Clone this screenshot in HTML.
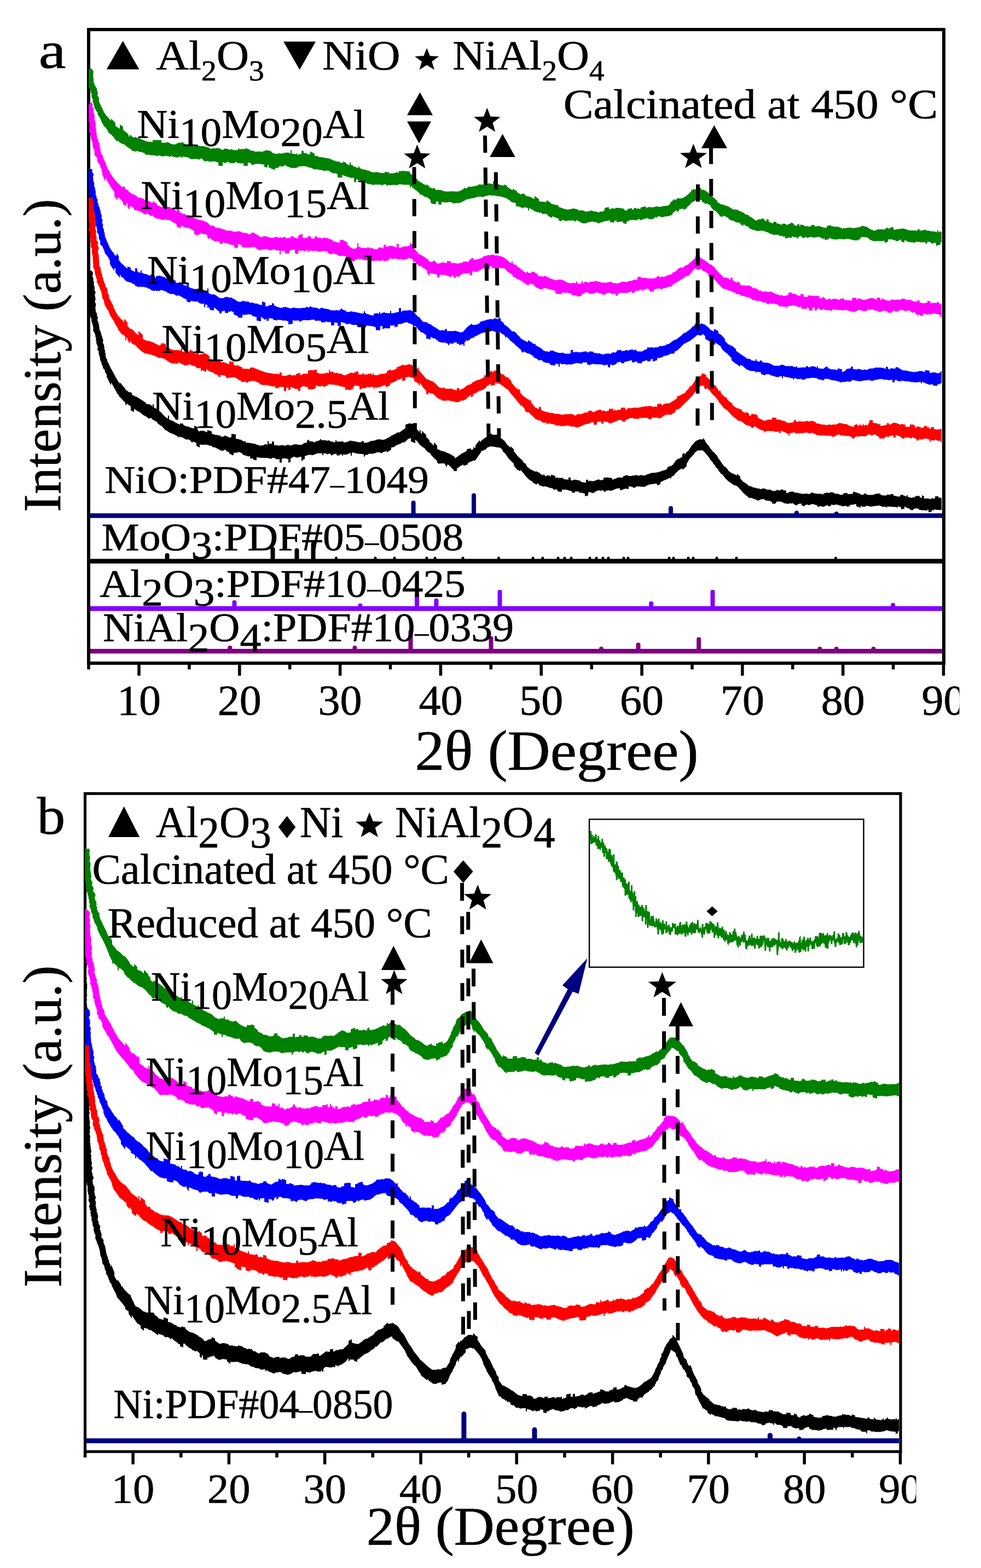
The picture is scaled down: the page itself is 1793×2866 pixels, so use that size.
<!DOCTYPE html>
<html><head><meta charset="utf-8"><title>XRD patterns</title><style>html,body{margin:0;padding:0;background:#fff}svg{display:block}</style></head><body>
<svg width="1793" height="2866" viewBox="0 0 1793 2866" font-family='"Liberation Serif", serif'>
<rect width="1793" height="2866" fill="#fff"/>
<g stroke-linecap="butt">
<line x1="165" y1="942.5" x2="1722" y2="942.5" stroke="#000080" stroke-width="8.6"/>
<line x1="165" y1="1025.7" x2="1722" y2="1025.7" stroke="#000" stroke-width="8.6"/>
<line x1="165" y1="1112.3" x2="1722" y2="1112.3" stroke="#8000FF" stroke-width="8.8"/>
<line x1="165" y1="1190.3" x2="1722" y2="1190.3" stroke="#800080" stroke-width="8.5"/>
</g>
<line x1="755.6" y1="941.0" x2="755.6" y2="919.0" stroke="#000080" stroke-width="8" stroke-linecap="round"/><line x1="866.0" y1="941.0" x2="866.0" y2="905.5" stroke="#000080" stroke-width="8" stroke-linecap="round"/><line x1="1226.0" y1="941.0" x2="1226.0" y2="929.0" stroke="#000080" stroke-width="8" stroke-linecap="round"/><line x1="1456.0" y1="941.0" x2="1456.0" y2="937.6" stroke="#000080" stroke-width="8" stroke-linecap="round"/><line x1="1528.7" y1="941.0" x2="1528.7" y2="939.0" stroke="#000080" stroke-width="8" stroke-linecap="round"/>
<line x1="305.5" y1="1024.4" x2="305.5" y2="1015.0" stroke="#000" stroke-width="8" stroke-linecap="round"/><line x1="358.5" y1="1024.4" x2="358.5" y2="1020.0" stroke="#000" stroke-width="8" stroke-linecap="round"/><line x1="498.5" y1="1024.4" x2="498.5" y2="1003.7" stroke="#000" stroke-width="8" stroke-linecap="round"/><line x1="542.5" y1="1024.4" x2="542.5" y2="1006.0" stroke="#000" stroke-width="8" stroke-linecap="round"/><line x1="572.5" y1="1024.4" x2="572.5" y2="994.5" stroke="#000" stroke-width="8" stroke-linecap="round"/>
<line x1="614.4" y1="1024.4" x2="614.4" y2="1020.0" stroke="#000" stroke-width="5" stroke-linecap="round"/><line x1="686.0" y1="1024.4" x2="686.0" y2="1020.0" stroke="#000" stroke-width="5" stroke-linecap="round"/><line x1="721.0" y1="1024.4" x2="721.0" y2="1020.0" stroke="#000" stroke-width="5" stroke-linecap="round"/><line x1="780.0" y1="1024.4" x2="780.0" y2="1020.0" stroke="#000" stroke-width="5" stroke-linecap="round"/><line x1="795.0" y1="1024.4" x2="795.0" y2="1020.0" stroke="#000" stroke-width="5" stroke-linecap="round"/><line x1="846.0" y1="1024.4" x2="846.0" y2="1020.0" stroke="#000" stroke-width="5" stroke-linecap="round"/><line x1="911.4" y1="1024.4" x2="911.4" y2="1020.0" stroke="#000" stroke-width="5" stroke-linecap="round"/><line x1="974.0" y1="1024.4" x2="974.0" y2="1020.0" stroke="#000" stroke-width="5" stroke-linecap="round"/><line x1="991.8" y1="1024.4" x2="991.8" y2="1020.0" stroke="#000" stroke-width="5" stroke-linecap="round"/><line x1="1020.0" y1="1024.4" x2="1020.0" y2="1020.0" stroke="#000" stroke-width="5" stroke-linecap="round"/><line x1="1032.0" y1="1024.4" x2="1032.0" y2="1020.0" stroke="#000" stroke-width="5" stroke-linecap="round"/><line x1="1044.0" y1="1024.4" x2="1044.0" y2="1020.0" stroke="#000" stroke-width="5" stroke-linecap="round"/><line x1="1078.0" y1="1024.4" x2="1078.0" y2="1020.0" stroke="#000" stroke-width="5" stroke-linecap="round"/><line x1="1090.0" y1="1024.4" x2="1090.0" y2="1020.0" stroke="#000" stroke-width="5" stroke-linecap="round"/><line x1="1102.0" y1="1024.4" x2="1102.0" y2="1020.0" stroke="#000" stroke-width="5" stroke-linecap="round"/><line x1="1112.0" y1="1024.4" x2="1112.0" y2="1020.0" stroke="#000" stroke-width="5" stroke-linecap="round"/><line x1="1140.0" y1="1024.4" x2="1140.0" y2="1020.0" stroke="#000" stroke-width="5" stroke-linecap="round"/><line x1="1148.0" y1="1024.4" x2="1148.0" y2="1020.0" stroke="#000" stroke-width="5" stroke-linecap="round"/><line x1="1223.0" y1="1024.4" x2="1223.0" y2="1020.0" stroke="#000" stroke-width="5" stroke-linecap="round"/><line x1="1231.0" y1="1024.4" x2="1231.0" y2="1020.0" stroke="#000" stroke-width="5" stroke-linecap="round"/><line x1="1258.0" y1="1024.4" x2="1258.0" y2="1020.0" stroke="#000" stroke-width="5" stroke-linecap="round"/><line x1="1267.0" y1="1024.4" x2="1267.0" y2="1020.0" stroke="#000" stroke-width="5" stroke-linecap="round"/><line x1="1310.0" y1="1024.4" x2="1310.0" y2="1020.0" stroke="#000" stroke-width="5" stroke-linecap="round"/><line x1="1346.0" y1="1024.4" x2="1346.0" y2="1020.0" stroke="#000" stroke-width="5" stroke-linecap="round"/><line x1="1527.5" y1="1024.4" x2="1527.5" y2="1020.0" stroke="#000" stroke-width="5" stroke-linecap="round"/>
<line x1="428.4" y1="1110.9" x2="428.4" y2="1101.0" stroke="#8000FF" stroke-width="8" stroke-linecap="round"/><line x1="658.4" y1="1110.9" x2="658.4" y2="1107.0" stroke="#8000FF" stroke-width="8" stroke-linecap="round"/><line x1="762.0" y1="1110.9" x2="762.0" y2="1089.0" stroke="#8000FF" stroke-width="8" stroke-linecap="round"/><line x1="797.4" y1="1110.9" x2="797.4" y2="1097.7" stroke="#8000FF" stroke-width="8" stroke-linecap="round"/><line x1="913.5" y1="1110.9" x2="913.5" y2="1082.0" stroke="#8000FF" stroke-width="8" stroke-linecap="round"/><line x1="1190.2" y1="1110.9" x2="1190.2" y2="1103.0" stroke="#8000FF" stroke-width="8" stroke-linecap="round"/><line x1="1302.5" y1="1110.9" x2="1302.5" y2="1082.0" stroke="#8000FF" stroke-width="8" stroke-linecap="round"/><line x1="1632.2" y1="1110.9" x2="1632.2" y2="1106.0" stroke="#8000FF" stroke-width="8" stroke-linecap="round"/>
<line x1="420.3" y1="1189.1" x2="420.3" y2="1184.0" stroke="#800080" stroke-width="8" stroke-linecap="round"/><line x1="648.4" y1="1189.1" x2="648.4" y2="1184.0" stroke="#800080" stroke-width="8" stroke-linecap="round"/><line x1="750.5" y1="1189.1" x2="750.5" y2="1155.0" stroke="#800080" stroke-width="8" stroke-linecap="round"/><line x1="897.5" y1="1189.1" x2="897.5" y2="1166.7" stroke="#800080" stroke-width="8" stroke-linecap="round"/><line x1="1099.0" y1="1189.1" x2="1099.0" y2="1186.0" stroke="#800080" stroke-width="8" stroke-linecap="round"/><line x1="1166.5" y1="1189.1" x2="1166.5" y2="1178.6" stroke="#800080" stroke-width="8" stroke-linecap="round"/><line x1="1277.2" y1="1189.1" x2="1277.2" y2="1168.5" stroke="#800080" stroke-width="8" stroke-linecap="round"/><line x1="1498.4" y1="1189.1" x2="1498.4" y2="1186.0" stroke="#800080" stroke-width="8" stroke-linecap="round"/><line x1="1528.7" y1="1189.1" x2="1528.7" y2="1186.0" stroke="#800080" stroke-width="8" stroke-linecap="round"/><line x1="1596.5" y1="1189.1" x2="1596.5" y2="1186.0" stroke="#800080" stroke-width="8" stroke-linecap="round"/>
<rect x="162" y="54" width="1563" height="1158.2" fill="none" stroke="#000" stroke-width="6"/>
<clipPath id="ca"><rect x="162" y="54" width="1563" height="1158"/></clipPath><g clip-path="url(#ca)">
<polygon fill="#000" points="193.0,654.7 195.0,659.2 195.0,658.1 203.0,674.3 203.0,674.0 205.0,677.0 205.0,677.4 211.0,688.2 211.0,689.5 219.0,701.2 219.0,699.0 223.0,703.0 223.0,703.5 227.0,708.2 227.0,707.9 229.0,710.6 229.0,711.7 237.0,717.8 237.0,716.1 241.0,718.6 241.0,721.2 245.0,723.3 245.0,723.0 247.0,725.0 247.0,724.3 249.0,725.2 249.0,724.8 257.0,729.9 257.0,729.7 261.0,732.4 261.0,732.2 267.0,736.4 267.0,737.9 269.0,739.1 269.0,737.9 277.0,740.5 277.0,741.7 279.0,743.6 279.0,738.1 281.0,739.5 281.0,744.7 287.0,747.7 287.0,747.5 289.0,749.5 289.0,749.0 297.0,756.3 297.0,757.1 303.0,762.8 303.0,763.0 307.0,765.1 307.0,758.8 309.0,760.6 309.0,766.7 317.0,769.7 317.0,769.9 321.0,772.4 321.0,772.4 329.0,776.2 329.0,773.7 335.0,774.6 335.0,776.7 341.0,779.5 341.0,779.7 343.0,779.5 343.0,779.0 349.0,782.3 349.0,781.6 355.0,783.4 355.0,778.0 361.0,780.4 361.0,785.7 363.0,787.6 363.0,788.6 365.0,788.5 365.0,787.4 369.0,787.4 369.0,786.9 375.0,788.2 375.0,789.5 379.0,789.4 379.0,786.0 387.0,788.5 387.0,792.7 395.0,795.2 395.0,793.9 397.0,795.4 397.0,795.3 401.0,795.9 401.0,795.4 403.0,796.2 403.0,798.0 409.0,798.2 409.0,796.8 413.0,796.2 413.0,796.7 421.0,800.4 421.0,798.8 423.0,799.0 423.0,793.1 431.0,794.0 431.0,802.0 437.0,802.8 437.0,803.2 439.0,803.6 439.0,803.2 447.0,807.5 447.0,805.9 449.0,806.3 449.0,808.5 451.0,810.1 451.0,809.1 459.0,810.0 459.0,810.2 467.0,811.3 467.0,812.0 475.0,814.5 475.0,814.7 483.0,813.6 483.0,812.2 487.0,812.0 487.0,812.6 489.0,813.1 489.0,805.8 491.0,806.2 491.0,810.8 497.0,811.3 497.0,806.7 501.0,807.3 501.0,813.8 509.0,814.1 509.0,814.7 517.0,813.2 517.0,813.7 523.0,814.9 523.0,813.3 529.0,812.9 529.0,814.7 537.0,812.7 537.0,811.8 545.0,812.5 545.0,813.3 547.0,812.9 547.0,813.2 553.0,812.5 553.0,811.6 557.0,809.8 557.0,809.6 561.0,809.0 561.0,805.3 565.0,803.6 565.0,806.3 573.0,807.2 573.0,809.2 577.0,806.8 577.0,807.1 585.0,804.6 585.0,802.8 587.0,802.6 587.0,803.8 589.0,805.0 589.0,804.8 593.0,804.2 593.0,804.4 599.0,805.8 599.0,804.4 603.0,805.5 603.0,806.6 609.0,807.5 609.0,808.3 613.0,808.6 613.0,805.3 615.0,804.0 615.0,807.3 623.0,806.9 623.0,806.7 625.0,807.6 625.0,806.3 627.0,807.2 627.0,807.8 629.0,808.3 629.0,809.0 635.0,807.5 635.0,807.4 641.0,805.1 641.0,805.5 647.0,806.4 647.0,806.2 655.0,808.3 655.0,808.2 661.0,808.2 661.0,805.7 665.0,807.1 665.0,809.4 669.0,809.0 669.0,809.3 673.0,808.5 673.0,808.1 675.0,808.3 675.0,807.3 679.0,805.6 679.0,806.2 687.0,804.6 687.0,803.9 693.0,802.8 693.0,802.9 701.0,803.9 701.0,803.9 705.0,802.4 705.0,802.6 713.0,798.3 713.0,798.3 717.0,794.8 717.0,795.8 725.0,791.6 725.0,791.0 729.0,790.0 729.0,790.4 731.0,790.3 731.0,789.7 737.0,785.6 737.0,785.8 741.0,782.6 741.0,776.3 749.0,773.5 749.0,774.1 755.0,774.8 755.0,780.8 763.0,785.6 763.0,785.5 765.0,788.3 765.0,788.3 767.0,789.5 767.0,785.3 769.0,787.0 769.0,791.4 771.0,793.7 771.0,787.3 779.0,795.0 779.0,798.7 785.0,804.6 785.0,807.8 787.0,808.8 787.0,808.6 793.0,814.8 793.0,808.3 799.0,814.8 799.0,820.5 807.0,824.2 807.0,824.1 815.0,826.2 815.0,827.1 819.0,828.2 819.0,827.4 821.0,830.0 821.0,828.7 823.0,830.3 823.0,830.0 831.0,835.0 831.0,837.1 833.0,837.6 833.0,836.9 835.0,834.9 835.0,835.6 837.0,834.6 837.0,833.5 839.0,832.2 839.0,832.8 841.0,831.5 841.0,831.5 843.0,829.4 843.0,829.5 851.0,825.5 851.0,825.1 853.0,824.3 853.0,821.1 861.0,819.5 861.0,822.4 865.0,821.3 865.0,818.6 867.0,816.7 867.0,820.0 869.0,817.5 869.0,814.0 877.0,803.9 877.0,808.3 883.0,802.8 883.0,802.8 891.0,797.2 891.0,796.6 897.0,794.2 897.0,792.5 899.0,792.5 899.0,794.3 901.0,794.6 901.0,794.7 907.0,794.8 907.0,794.0 913.0,797.1 913.0,798.3 921.0,805.1 921.0,804.4 929.0,815.4 929.0,813.5 933.0,818.9 933.0,815.6 939.0,821.1 939.0,824.6 945.0,832.0 945.0,832.7 953.0,840.1 953.0,839.8 955.0,841.4 955.0,842.8 957.0,844.8 957.0,845.0 959.0,847.6 959.0,845.8 961.0,848.2 961.0,849.0 963.0,851.7 963.0,853.0 971.0,858.8 971.0,858.6 979.0,862.6 979.0,861.0 987.0,864.7 987.0,865.7 993.0,869.2 993.0,867.4 995.0,866.8 995.0,868.9 999.0,870.9 999.0,868.8 1005.0,869.2 1005.0,871.0 1007.0,870.8 1007.0,867.6 1015.0,869.9 1015.0,873.8 1017.0,873.6 1017.0,872.1 1021.0,874.2 1021.0,873.6 1029.0,873.5 1029.0,874.8 1031.0,875.6 1031.0,875.9 1039.0,876.7 1039.0,872.5 1043.0,872.9 1043.0,877.5 1047.0,878.6 1047.0,877.1 1053.0,876.7 1053.0,877.1 1057.0,878.2 1057.0,877.6 1061.0,878.9 1061.0,880.4 1065.0,881.2 1065.0,881.5 1071.0,882.2 1071.0,877.2 1075.0,876.4 1075.0,879.5 1081.0,878.6 1081.0,879.9 1085.0,879.1 1085.0,879.6 1087.0,879.2 1087.0,878.6 1095.0,876.1 1095.0,876.5 1097.0,877.7 1097.0,877.8 1103.0,877.0 1103.0,873.2 1111.0,872.5 1111.0,872.9 1119.0,873.8 1119.0,877.0 1127.0,873.9 1127.0,873.6 1133.0,872.2 1133.0,872.9 1139.0,872.7 1139.0,870.6 1147.0,868.0 1147.0,869.8 1155.0,870.1 1155.0,869.2 1159.0,869.3 1159.0,869.1 1165.0,868.2 1165.0,869.0 1169.0,869.7 1169.0,868.3 1177.0,869.1 1177.0,870.1 1183.0,866.7 1183.0,867.3 1189.0,865.0 1189.0,864.8 1191.0,864.3 1191.0,864.5 1193.0,864.6 1193.0,864.1 1197.0,864.1 1197.0,864.2 1205.0,862.5 1205.0,862.6 1213.0,859.6 1213.0,859.8 1219.0,857.7 1219.0,855.3 1225.0,850.9 1225.0,853.1 1231.0,848.4 1231.0,847.4 1235.0,842.3 1235.0,841.8 1237.0,839.8 1237.0,840.2 1241.0,837.7 1241.0,838.8 1247.0,835.1 1247.0,830.3 1251.0,827.3 1251.0,832.3 1259.0,823.0 1259.0,822.6 1265.0,813.3 1265.0,813.7 1271.0,806.5 1271.0,806.4 1277.0,803.6 1277.0,803.2 1285.0,803.1 1285.0,800.1 1289.0,805.7 1289.0,807.3 1291.0,808.9 1291.0,809.9 1295.0,815.0 1295.0,815.5 1303.0,825.7 1303.0,825.0 1307.0,829.1 1307.0,829.0 1311.0,833.3 1311.0,833.9 1315.0,840.8 1315.0,840.3 1323.0,851.7 1323.0,851.9 1325.0,853.2 1325.0,852.6 1331.0,858.9 1331.0,860.3 1337.0,864.8 1337.0,864.4 1339.0,865.5 1339.0,865.2 1347.0,869.3 1347.0,865.7 1353.0,870.9 1353.0,874.5 1359.0,881.4 1359.0,880.4 1367.0,886.2 1367.0,887.5 1373.0,888.9 1373.0,889.3 1379.0,891.7 1379.0,890.9 1387.0,893.5 1387.0,893.0 1389.0,893.0 1389.0,894.2 1395.0,892.8 1395.0,892.6 1399.0,893.5 1399.0,893.4 1401.0,894.7 1401.0,894.6 1405.0,895.5 1405.0,894.3 1413.0,897.2 1413.0,897.8 1419.0,896.7 1419.0,895.5 1423.0,895.5 1423.0,897.0 1427.0,895.5 1427.0,894.7 1429.0,895.2 1429.0,893.8 1433.0,896.8 1433.0,896.0 1437.0,896.9 1437.0,900.7 1441.0,901.6 1441.0,899.7 1447.0,898.2 1447.0,898.5 1451.0,898.5 1451.0,900.2 1455.0,900.6 1455.0,900.3 1463.0,901.9 1463.0,902.3 1471.0,902.8 1471.0,901.9 1477.0,902.4 1477.0,903.5 1483.0,901.5 1483.0,899.9 1485.0,899.5 1485.0,900.9 1493.0,902.6 1493.0,902.4 1501.0,902.5 1501.0,902.8 1505.0,903.9 1505.0,902.1 1513.0,900.1 1513.0,901.0 1517.0,901.0 1517.0,899.6 1525.0,900.6 1525.0,902.6 1531.0,902.3 1531.0,902.4 1535.0,903.8 1535.0,904.3 1541.0,904.4 1541.0,901.8 1549.0,901.1 1549.0,903.4 1557.0,902.6 1557.0,902.9 1559.0,902.1 1559.0,899.1 1563.0,898.8 1563.0,899.8 1567.0,900.8 1567.0,900.6 1571.0,902.5 1571.0,902.1 1573.0,902.9 1573.0,904.5 1579.0,903.9 1579.0,902.3 1583.0,901.7 1583.0,903.6 1589.0,904.9 1589.0,904.4 1595.0,904.8 1595.0,904.4 1601.0,902.7 1601.0,902.4 1609.0,902.0 1609.0,903.9 1615.0,906.0 1615.0,905.5 1621.0,905.4 1621.0,903.8 1627.0,904.4 1627.0,904.1 1629.0,903.6 1629.0,902.6 1633.0,903.4 1633.0,905.9 1637.0,906.4 1637.0,907.0 1645.0,907.7 1645.0,905.3 1651.0,904.0 1651.0,905.9 1653.0,905.9 1653.0,906.2 1657.0,907.6 1657.0,904.9 1659.0,905.3 1659.0,908.3 1663.0,909.1 1663.0,909.3 1667.0,910.3 1667.0,909.4 1669.0,909.4 1669.0,908.8 1671.0,908.6 1671.0,909.2 1673.0,908.5 1673.0,906.4 1681.0,906.5 1681.0,909.2 1685.0,909.8 1685.0,905.2 1689.0,907.3 1689.0,911.5 1691.0,911.4 1691.0,910.8 1699.0,911.4 1699.0,912.8 1703.0,911.1 1703.0,910.6 1707.0,911.6 1707.0,911.0 1709.0,911.4 1709.0,907.2 1715.0,907.0 1715.0,909.3 1721.0,910.3 1721.0,932.3 1713.0,932.1 1713.0,932.1 1707.0,931.1 1707.0,933.1 1703.0,932.1 1703.0,934.9 1697.0,936.6 1697.0,931.7 1695.0,931.4 1695.0,933.5 1687.0,932.2 1687.0,932.9 1679.0,931.4 1679.0,929.6 1673.0,929.2 1673.0,929.5 1669.0,930.4 1669.0,932.8 1663.0,931.8 1663.0,929.8 1657.0,928.6 1657.0,927.3 1655.0,926.7 1655.0,926.3 1653.0,925.5 1653.0,930.0 1647.0,930.9 1647.0,927.2 1641.0,925.2 1641.0,927.2 1639.0,927.9 1639.0,926.8 1631.0,926.6 1631.0,926.6 1629.0,926.4 1629.0,926.1 1621.0,926.0 1621.0,927.9 1619.0,927.3 1619.0,925.9 1613.0,926.5 1613.0,926.3 1607.0,923.7 1607.0,923.9 1599.0,925.0 1599.0,924.8 1591.0,926.3 1591.0,925.9 1583.0,924.1 1583.0,925.8 1575.0,926.6 1575.0,924.5 1573.0,924.8 1573.0,928.2 1565.0,925.2 1565.0,921.6 1561.0,921.6 1561.0,922.3 1553.0,923.1 1553.0,925.6 1547.0,925.9 1547.0,924.3 1539.0,925.7 1539.0,924.7 1531.0,922.7 1531.0,922.2 1525.0,922.5 1525.0,923.6 1519.0,921.9 1519.0,924.7 1513.0,925.4 1513.0,923.3 1507.0,925.1 1507.0,926.5 1501.0,925.7 1501.0,924.6 1497.0,925.9 1497.0,926.7 1493.0,925.3 1493.0,923.2 1487.0,921.9 1487.0,921.2 1481.0,922.0 1481.0,922.4 1477.0,923.5 1477.0,922.8 1475.0,921.9 1475.0,922.4 1471.0,922.9 1471.0,925.4 1465.0,923.8 1465.0,920.4 1459.0,921.1 1459.0,922.4 1457.0,921.7 1457.0,923.6 1453.0,923.6 1453.0,922.4 1449.0,920.2 1449.0,919.2 1445.0,920.9 1445.0,919.8 1443.0,919.6 1443.0,920.5 1439.0,921.0 1439.0,920.7 1435.0,919.9 1435.0,920.4 1427.0,916.4 1427.0,916.8 1425.0,917.2 1425.0,916.2 1423.0,917.2 1423.0,916.7 1419.0,916.7 1419.0,918.5 1417.0,919.9 1417.0,920.9 1411.0,920.2 1411.0,917.5 1405.0,914.9 1405.0,915.8 1403.0,914.6 1403.0,915.5 1397.0,913.8 1397.0,912.0 1389.0,913.1 1389.0,914.1 1387.0,914.2 1387.0,915.2 1383.0,914.2 1383.0,913.7 1375.0,910.8 1375.0,910.6 1371.0,909.7 1371.0,910.8 1367.0,909.0 1367.0,908.1 1363.0,905.2 1363.0,905.1 1357.0,899.6 1357.0,899.0 1351.0,892.4 1351.0,891.9 1345.0,887.1 1345.0,887.8 1339.0,885.5 1339.0,885.1 1333.0,880.7 1333.0,881.3 1327.0,875.5 1327.0,875.6 1325.0,873.9 1325.0,873.3 1319.0,865.5 1319.0,866.9 1317.0,864.1 1317.0,864.7 1313.0,859.8 1313.0,858.5 1307.0,850.0 1307.0,849.1 1301.0,842.7 1301.0,842.7 1295.0,834.9 1295.0,834.9 1287.0,825.5 1287.0,825.8 1283.0,822.3 1283.0,823.3 1275.0,823.6 1275.0,823.6 1271.0,826.6 1271.0,825.6 1269.0,828.0 1269.0,829.6 1263.0,835.8 1263.0,834.2 1255.0,847.8 1255.0,852.2 1247.0,858.9 1247.0,855.7 1239.0,860.4 1239.0,859.8 1235.0,863.4 1235.0,864.8 1231.0,869.9 1231.0,868.9 1227.0,872.1 1227.0,873.4 1225.0,875.0 1225.0,872.9 1223.0,873.9 1223.0,874.1 1215.0,877.8 1215.0,877.3 1207.0,881.8 1207.0,885.1 1201.0,887.2 1201.0,884.2 1197.0,884.1 1197.0,884.1 1195.0,884.3 1195.0,884.5 1187.0,885.4 1187.0,885.3 1185.0,886.6 1185.0,886.8 1183.0,887.2 1183.0,886.9 1179.0,889.2 1179.0,889.8 1171.0,889.8 1171.0,889.3 1163.0,889.1 1163.0,890.3 1157.0,892.1 1157.0,890.3 1151.0,889.0 1151.0,889.1 1149.0,889.1 1149.0,893.6 1145.0,894.0 1145.0,892.6 1137.0,895.2 1137.0,895.7 1133.0,895.7 1133.0,892.2 1125.0,893.4 1125.0,893.9 1117.0,897.0 1117.0,896.9 1113.0,896.6 1113.0,896.1 1109.0,896.9 1109.0,896.5 1107.0,896.7 1107.0,899.0 1103.0,898.3 1103.0,896.1 1097.0,897.0 1097.0,897.3 1095.0,896.0 1095.0,896.1 1087.0,898.7 1087.0,900.3 1081.0,901.5 1081.0,899.6 1079.0,899.7 1079.0,899.4 1075.0,900.2 1075.0,905.8 1069.0,907.1 1069.0,902.3 1063.0,900.4 1063.0,900.4 1061.0,900.4 1061.0,901.8 1059.0,900.6 1059.0,898.7 1051.0,897.9 1051.0,900.5 1047.0,900.4 1047.0,900.5 1045.0,900.3 1045.0,898.0 1043.0,897.2 1043.0,897.0 1039.0,896.6 1039.0,896.3 1033.0,894.4 1033.0,895.1 1027.0,895.1 1027.0,898.9 1019.0,898.2 1019.0,895.5 1017.0,894.5 1017.0,894.3 1015.0,894.5 1015.0,895.5 1011.0,894.8 1011.0,892.9 1003.0,891.3 1003.0,890.8 995.0,888.6 995.0,889.6 991.0,888.9 991.0,889.0 987.0,886.9 987.0,888.1 985.0,886.4 985.0,884.2 981.0,883.9 981.0,886.1 973.0,881.6 973.0,879.7 969.0,878.1 969.0,878.5 961.0,870.7 961.0,870.3 957.0,865.4 957.0,864.9 951.0,858.8 951.0,861.8 947.0,858.4 947.0,860.3 941.0,853.7 941.0,852.9 939.0,850.7 939.0,847.5 931.0,839.6 931.0,840.0 925.0,831.5 925.0,831.2 917.0,820.2 917.0,819.5 911.0,817.2 911.0,818.2 903.0,816.5 903.0,816.4 897.0,816.0 897.0,815.6 889.0,819.0 889.0,820.8 887.0,822.3 887.0,821.1 883.0,824.3 883.0,823.0 879.0,825.5 879.0,826.8 871.0,838.2 871.0,838.8 867.0,842.9 867.0,841.0 863.0,843.0 863.0,843.1 857.0,845.1 857.0,845.6 855.0,846.3 855.0,849.1 847.0,851.4 847.0,848.8 843.0,851.2 843.0,850.7 835.0,856.5 835.0,861.1 829.0,860.9 829.0,858.0 825.0,855.8 825.0,854.0 821.0,851.2 821.0,851.1 819.0,848.5 819.0,850.1 817.0,849.3 817.0,852.9 815.0,852.7 815.0,850.6 813.0,849.2 813.0,847.3 807.0,846.7 807.0,847.4 803.0,846.7 803.0,848.6 799.0,845.6 799.0,842.8 795.0,838.5 795.0,839.1 787.0,830.8 787.0,829.1 783.0,826.5 783.0,827.6 777.0,820.7 777.0,820.0 773.0,817.2 773.0,818.0 771.0,815.6 771.0,816.0 765.0,810.7 765.0,809.3 759.0,803.5 759.0,810.3 751.0,806.8 751.0,800.2 749.0,801.4 749.0,801.5 745.0,802.5 745.0,803.8 739.0,808.3 739.0,808.7 737.0,809.2 737.0,807.7 731.0,811.7 731.0,811.3 723.0,814.5 723.0,815.6 717.0,817.9 717.0,816.7 715.0,818.5 715.0,821.7 707.0,827.1 707.0,824.6 699.0,826.8 699.0,828.3 695.0,828.1 695.0,826.7 687.0,827.0 687.0,828.1 679.0,829.8 679.0,828.9 677.0,829.8 677.0,829.0 673.0,829.7 673.0,830.7 667.0,831.9 667.0,834.5 665.0,834.6 665.0,830.8 661.0,829.4 661.0,829.9 653.0,829.1 653.0,828.9 647.0,827.9 647.0,827.3 643.0,827.3 643.0,833.3 641.0,832.6 641.0,827.4 633.0,831.0 633.0,830.9 627.0,830.6 627.0,833.5 625.0,832.6 625.0,830.5 621.0,830.2 621.0,832.4 615.0,832.3 615.0,829.3 609.0,830.2 609.0,831.5 607.0,831.3 607.0,832.5 605.0,832.7 605.0,830.0 601.0,828.9 601.0,830.0 599.0,829.1 599.0,830.6 597.0,830.4 597.0,829.1 591.0,828.4 591.0,832.0 589.0,832.1 589.0,828.4 583.0,828.8 583.0,828.1 575.0,830.2 575.0,831.0 569.0,832.2 569.0,831.1 561.0,832.1 561.0,832.8 557.0,833.4 557.0,839.0 553.0,840.8 553.0,842.0 551.0,842.7 551.0,835.1 545.0,835.5 545.0,837.0 539.0,835.4 539.0,834.4 535.0,835.4 535.0,836.1 531.0,838.3 531.0,844.6 527.0,845.7 527.0,838.9 519.0,837.5 519.0,837.7 515.0,838.7 515.0,845.4 511.0,845.7 511.0,839.3 505.0,839.6 505.0,839.3 503.0,838.4 503.0,837.2 497.0,836.7 497.0,838.4 491.0,837.9 491.0,837.4 489.0,837.0 489.0,836.8 485.0,837.3 485.0,837.1 477.0,836.8 477.0,837.0 469.0,835.5 469.0,841.3 463.0,840.4 463.0,838.1 457.0,838.1 457.0,833.8 455.0,833.2 455.0,834.8 449.0,832.4 449.0,833.0 443.0,830.4 443.0,828.7 437.0,826.2 437.0,826.5 435.0,825.7 435.0,827.2 427.0,827.8 427.0,831.9 425.0,831.6 425.0,832.4 423.0,831.3 423.0,830.8 419.0,828.9 419.0,826.6 413.0,824.6 413.0,821.9 409.0,822.6 409.0,823.9 401.0,822.9 401.0,821.0 397.0,820.5 397.0,819.5 391.0,817.3 391.0,818.1 387.0,816.3 387.0,814.9 385.0,814.6 385.0,815.3 379.0,813.1 379.0,813.4 377.0,813.0 377.0,812.8 373.0,812.8 373.0,813.3 365.0,812.5 365.0,817.9 359.0,815.1 359.0,809.4 357.0,809.3 357.0,808.9 353.0,806.7 353.0,808.7 349.0,807.9 349.0,805.9 347.0,805.1 347.0,804.8 343.0,802.3 343.0,803.7 339.0,803.1 339.0,802.6 335.0,800.7 335.0,800.0 331.0,799.1 331.0,799.3 327.0,797.8 327.0,799.7 325.0,799.2 325.0,797.7 317.0,793.4 317.0,793.4 309.0,790.4 309.0,790.0 303.0,786.1 303.0,787.1 301.0,785.1 301.0,785.0 295.0,778.1 295.0,779.1 287.0,773.0 287.0,770.9 285.0,770.3 285.0,770.4 279.0,766.5 279.0,767.2 277.0,765.2 277.0,764.3 275.0,763.8 275.0,764.5 273.0,765.1 273.0,765.6 269.0,763.0 269.0,762.5 263.0,759.2 263.0,759.6 257.0,754.8 257.0,754.4 253.0,751.8 253.0,752.6 245.0,747.2 245.0,753.0 239.0,749.9 239.0,742.5 231.0,737.5 231.0,741.5 229.0,739.0 229.0,736.4 227.0,733.8 227.0,734.3 219.0,725.6 219.0,726.2 217.0,723.1 217.0,722.1 211.0,713.5 211.0,712.5 203.0,698.7 203.0,705.0 195.0,688.8 195.0,682.4 193.0,677.9"/><polyline fill="none" stroke="#000" stroke-width="11" stroke-linejoin="round" points="162.3,498.0 164.4,500.0 163.5,502.1 163.5,504.1 163.0,506.1 164.4,508.2 165.2,510.2 164.5,512.2 165.0,514.3 166.2,516.3 164.3,518.3 166.2,520.4 166.6,522.4 167.1,524.5 167.5,526.5 167.3,528.6 165.9,530.6 167.1,532.6 169.1,534.6 167.3,536.6 167.6,538.6 166.1,540.6 168.6,542.6 167.0,544.6 169.1,546.6 168.0,548.6 168.2,550.6 166.8,552.7 168.2,554.7 170.0,556.7 166.9,558.7 169.2,560.7 168.4,562.7 168.6,564.7 169.5,566.7 169.2,568.7 169.6,570.7 167.8,572.8 171.9,574.8 170.4,576.8 171.3,578.8 173.3,580.8 172.7,582.8 172.4,584.8 172.9,586.8 173.6,588.8 174.4,590.8 174.6,592.8 175.7,594.8 175.5,596.8 176.1,598.7 176.4,600.7 175.6,602.6 176.8,604.6 177.9,606.6 178.9,608.5 179.2,610.5 180.0,612.4 179.8,614.4 181.2,616.3 181.8,618.3 180.8,620.2 183.1,622.2 181.7,624.1 181.5,626.1 183.1,628.0 182.9,630.0 184.7,631.9 184.9,633.9 185.3,635.8 183.7,637.8 185.3,639.7 186.6,641.7 186.1,643.6 185.8,645.6 187.6,647.5 187.2,649.5 187.7,651.4 188.2,653.4 188.4,655.3 188.5,657.2 190.7,659.1 190.4,661.0 191.1,662.9 191.1,664.8 193.9,666.7 193.6,668.6 193.3,670.5 196.1,672.4 196.6,674.3 197.0,676.1 197.1,678.0 198.4,679.9 199.8,681.7 201.7,683.6 202.8,685.4 202.3,687.2 204.4,689.0 205.3,690.7 206.3,692.4 207.9,694.2 207.4,695.9 209.5,697.7 210.3,699.5 210.8,701.2 212.6,702.9 214.1,704.7 213.6,706.3 214.3,708.0 217.9,709.7 218.7,711.3 219.4,712.9 219.7,714.5 218.6,716.1 222.5,717.7 222.9,719.2 225.4,720.7 225.4,722.0 226.9,723.3 230.0,724.6 230.1,725.9"/><polyline fill="none" stroke="#000" stroke-width="11" stroke-linejoin="round" points="761.0,795.4 761.0,796.8 763.9,798.2 764.3,799.7 767.4,801.3 768.3,802.9 769.3,804.6 772.3,806.2 772.5,807.8 774.5,809.4 775.4,810.9 777.1,812.3"/><polyline fill="none" stroke="#000" stroke-width="11" stroke-linejoin="round" points="912.3,807.2 910.9,808.2 914.7,809.5 915.5,811.0 915.5,812.6 917.5,814.3 920.4,816.1 923.5,817.8 924.0,819.6 925.5,821.1 923.7,822.3 927.6,823.6 927.0,825.0 929.6,826.4 930.1,827.8 931.2,829.3 932.9,830.8 935.3,832.3 936.1,833.9 937.4,835.4 938.7,837.0 940.0,838.5 940.3,840.1 942.9,841.6 943.9,843.2 946.4,844.7 947.0,846.1 948.3,847.6 950.8,849.0 953.7,850.3 953.8,851.7 956.8,853.1 956.3,854.5 958.4,855.9 959.9,857.3 961.2,858.7 962.0,860.1 964.9,861.5"/><polyline fill="none" stroke="#000" stroke-width="11" stroke-linejoin="round" points="1230.0,860.9 1232.5,859.6 1234.3,858.2 1234.0,856.8 1234.8,855.3 1237.5,853.8 1238.3,852.3 1241.4,850.8 1241.7,849.2 1244.8,847.7 1245.2,846.1 1246.4,844.6 1248.2,843.1 1248.8,841.6 1249.1,840.1 1251.6,838.7 1254.1,837.3 1254.7,835.8 1255.7,834.2 1258.7,832.5 1258.0,830.7 1260.6,828.9 1263.0,827.1 1264.5,825.3 1266.1,823.5 1266.4,821.8 1268.1,820.1 1269.7,818.5 1272.0,817.0 1272.9,815.7"/><polyline fill="none" stroke="#000" stroke-width="11" stroke-linejoin="round" points="1285.5,813.0 1286.1,814.0 1287.7,815.3 1289.4,816.7 1291.1,818.3 1292.4,820.1 1291.8,822.0 1294.4,824.0 1296.2,826.0 1297.7,828.1 1298.8,830.1 1300.2,832.2 1300.9,834.1 1304.1,836.0 1303.2,837.8 1305.2,839.4 1307.5,841.0 1308.9,842.7 1308.2,844.3 1310.1,846.0 1311.4,847.6 1313.4,849.3 1312.8,850.9 1316.2,852.5 1317.1,854.1 1317.9,855.7 1318.5,857.3 1319.6,858.8 1321.2,860.3 1321.8,861.8 1325.1,863.3 1326.4,864.7 1327.0,866.2 1327.9,867.6 1331.4,868.9"/>
<polygon fill="#008000" points="181.0,186.1 185.0,194.2 185.0,195.1 187.0,198.8 187.0,199.9 195.0,212.7 195.0,211.5 203.0,220.8 203.0,216.7 211.0,224.4 211.0,230.3 219.0,235.6 219.0,227.5 225.0,231.6 225.0,237.6 231.0,242.0 231.0,242.0 235.0,246.1 235.0,248.4 237.0,250.0 237.0,246.5 241.0,248.2 241.0,250.6 245.0,250.9 245.0,250.6 247.0,251.7 247.0,250.7 249.0,249.7 249.0,251.4 257.0,253.6 257.0,254.2 263.0,256.2 263.0,256.2 265.0,257.4 265.0,257.2 271.0,259.3 271.0,258.7 279.0,259.8 279.0,255.9 287.0,255.9 287.0,256.2 295.0,255.9 295.0,260.4 299.0,261.2 299.0,260.7 301.0,261.0 301.0,260.9 305.0,260.3 305.0,259.7 311.0,261.5 311.0,262.8 319.0,264.2 319.0,264.2 323.0,262.6 323.0,262.0 325.0,262.2 325.0,260.9 333.0,260.6 333.0,259.7 335.0,259.5 335.0,261.3 339.0,263.6 339.0,264.2 345.0,264.7 345.0,263.5 353.0,266.2 353.0,267.3 355.0,267.8 355.0,267.2 363.0,266.5 363.0,267.1 371.0,267.1 371.0,266.9 373.0,268.3 373.0,267.0 375.0,267.8 375.0,267.9 381.0,269.6 381.0,270.1 383.0,269.9 383.0,271.2 387.0,272.2 387.0,271.1 395.0,271.3 395.0,270.6 403.0,271.6 403.0,273.1 409.0,273.9 409.0,271.7 417.0,271.9 417.0,273.2 419.0,273.3 419.0,274.0 423.0,272.6 423.0,272.6 427.0,274.3 427.0,274.5 435.0,274.3 435.0,271.6 437.0,271.2 437.0,272.7 445.0,272.5 445.0,272.9 449.0,271.9 449.0,270.6 453.0,272.2 453.0,272.5 455.0,272.8 455.0,273.1 457.0,274.1 457.0,275.6 459.0,275.5 459.0,274.9 465.0,276.1 465.0,277.2 473.0,277.0 473.0,276.8 481.0,277.6 481.0,276.3 485.0,275.5 485.0,274.3 493.0,275.3 493.0,276.0 497.0,277.2 497.0,278.7 503.0,281.3 503.0,281.0 509.0,281.2 509.0,279.7 511.0,279.5 511.0,281.1 519.0,279.9 519.0,279.3 525.0,279.1 525.0,278.2 531.0,280.6 531.0,274.7 533.0,273.8 533.0,280.5 541.0,282.0 541.0,280.4 543.0,280.3 543.0,282.8 551.0,281.3 551.0,275.5 555.0,275.8 555.0,279.5 561.0,280.3 561.0,282.2 567.0,281.4 567.0,276.8 575.0,281.0 575.0,285.1 581.0,285.3 581.0,286.4 589.0,287.7 589.0,287.2 593.0,288.5 593.0,288.2 599.0,289.4 599.0,289.1 607.0,291.7 607.0,292.0 611.0,293.9 611.0,293.1 613.0,294.2 613.0,294.5 615.0,295.3 615.0,295.1 621.0,295.8 621.0,297.0 627.0,297.8 627.0,295.1 633.0,297.7 633.0,300.0 635.0,300.1 635.0,300.4 639.0,302.3 639.0,296.7 641.0,296.9 641.0,301.2 645.0,302.0 645.0,303.4 651.0,305.8 651.0,306.1 655.0,307.3 655.0,303.7 657.0,304.9 657.0,306.8 659.0,307.5 659.0,308.3 667.0,310.6 667.0,309.6 669.0,310.8 669.0,311.0 677.0,312.7 677.0,314.1 685.0,315.5 685.0,314.5 693.0,314.7 693.0,316.1 695.0,316.2 695.0,315.9 703.0,316.2 703.0,314.1 711.0,314.9 711.0,316.4 715.0,317.0 715.0,316.9 717.0,316.2 717.0,317.0 725.0,315.3 725.0,313.7 727.0,315.2 727.0,316.5 729.0,315.1 729.0,312.4 735.0,312.7 735.0,312.1 743.0,312.9 743.0,312.8 749.0,313.4 749.0,316.3 751.0,318.2 751.0,318.1 753.0,318.9 753.0,320.0 755.0,321.5 755.0,321.0 757.0,322.7 757.0,323.2 759.0,325.5 759.0,324.5 763.0,328.1 763.0,329.2 769.0,333.4 769.0,333.0 775.0,336.9 775.0,336.7 777.0,337.7 777.0,338.6 779.0,338.5 779.0,336.6 785.0,341.1 785.0,342.0 787.0,343.7 787.0,342.6 791.0,345.3 791.0,343.7 795.0,343.8 795.0,346.7 801.0,346.9 801.0,346.9 803.0,347.6 803.0,347.1 809.0,348.1 809.0,349.1 811.0,349.2 811.0,349.4 819.0,350.3 819.0,350.1 827.0,349.6 827.0,349.4 831.0,350.0 831.0,350.0 837.0,350.3 837.0,349.8 841.0,349.0 841.0,348.7 845.0,346.6 845.0,346.6 847.0,345.9 847.0,344.2 851.0,342.9 851.0,345.2 855.0,342.5 855.0,342.0 857.0,340.5 857.0,341.5 861.0,341.6 861.0,341.2 869.0,340.0 869.0,340.2 875.0,337.9 875.0,337.1 879.0,337.1 879.0,337.7 885.0,337.1 885.0,336.4 887.0,335.3 887.0,336.1 893.0,335.5 893.0,335.0 901.0,336.5 901.0,331.4 903.0,330.6 903.0,336.2 907.0,337.3 907.0,336.6 913.0,337.1 913.0,337.9 921.0,339.3 921.0,336.9 927.0,339.5 927.0,341.6 931.0,344.2 931.0,344.7 937.0,347.6 937.0,345.1 945.0,349.4 945.0,351.6 953.0,355.9 953.0,353.9 959.0,354.3 959.0,356.0 961.0,357.3 961.0,358.0 969.0,359.7 969.0,359.5 975.0,363.1 975.0,363.4 977.0,363.1 977.0,357.9 985.0,363.7 985.0,368.0 993.0,368.7 993.0,368.7 999.0,369.3 999.0,365.6 1007.0,371.0 1007.0,372.3 1015.0,374.5 1015.0,374.0 1021.0,375.8 1021.0,378.3 1029.0,380.7 1029.0,381.2 1037.0,383.0 1037.0,383.3 1039.0,383.0 1039.0,382.9 1047.0,381.3 1047.0,381.2 1049.0,381.0 1049.0,380.9 1057.0,383.3 1057.0,383.9 1061.0,385.4 1061.0,383.8 1069.0,385.8 1069.0,387.1 1077.0,386.0 1077.0,386.3 1079.0,385.8 1079.0,385.2 1081.0,384.2 1081.0,385.1 1087.0,386.4 1087.0,386.0 1095.0,388.6 1095.0,387.4 1099.0,386.0 1099.0,387.3 1105.0,384.9 1105.0,380.1 1113.0,378.4 1113.0,382.7 1115.0,381.8 1115.0,382.0 1117.0,382.2 1117.0,380.4 1125.0,381.4 1125.0,379.8 1133.0,380.3 1133.0,380.0 1141.0,381.8 1141.0,383.7 1143.0,384.5 1143.0,385.2 1147.0,383.8 1147.0,382.1 1155.0,380.2 1155.0,383.2 1159.0,382.3 1159.0,380.0 1163.0,380.1 1163.0,381.9 1165.0,381.8 1165.0,380.9 1167.0,380.2 1167.0,381.7 1171.0,381.6 1171.0,378.9 1179.0,377.5 1179.0,377.8 1181.0,377.1 1181.0,379.5 1183.0,380.4 1183.0,379.0 1189.0,378.0 1189.0,379.3 1195.0,378.8 1195.0,378.2 1203.0,377.0 1203.0,377.8 1205.0,378.3 1205.0,378.2 1213.0,376.7 1213.0,376.6 1221.0,376.1 1221.0,375.3 1225.0,373.0 1225.0,370.5 1233.0,363.4 1233.0,366.2 1235.0,365.3 1235.0,364.9 1239.0,362.0 1239.0,362.2 1245.0,362.7 1245.0,362.4 1247.0,362.0 1247.0,362.3 1253.0,359.0 1253.0,359.0 1261.0,352.6 1261.0,352.0 1263.0,350.0 1263.0,348.6 1269.0,344.7 1269.0,347.3 1273.0,344.5 1273.0,342.7 1281.0,343.2 1281.0,345.6 1285.0,348.0 1285.0,346.0 1293.0,351.1 1293.0,351.6 1299.0,355.7 1299.0,355.2 1303.0,360.7 1303.0,360.0 1311.0,367.0 1311.0,369.2 1317.0,373.1 1317.0,373.1 1323.0,374.4 1323.0,374.8 1331.0,377.3 1331.0,376.6 1333.0,379.2 1333.0,378.5 1341.0,383.5 1341.0,382.9 1343.0,382.0 1343.0,382.8 1345.0,383.4 1345.0,383.3 1349.0,383.3 1349.0,384.5 1353.0,386.1 1353.0,385.9 1361.0,389.9 1361.0,390.1 1363.0,393.3 1363.0,391.4 1369.0,393.8 1369.0,394.7 1377.0,399.6 1377.0,400.2 1383.0,403.7 1383.0,402.6 1385.0,401.9 1385.0,400.9 1391.0,400.8 1391.0,399.8 1393.0,399.2 1393.0,399.6 1397.0,399.9 1397.0,402.5 1401.0,404.8 1401.0,400.5 1405.0,401.6 1405.0,405.5 1413.0,408.4 1413.0,405.7 1419.0,405.3 1419.0,407.9 1427.0,409.9 1427.0,410.9 1429.0,411.4 1429.0,408.8 1437.0,409.2 1437.0,411.5 1441.0,410.5 1441.0,408.9 1445.0,408.9 1445.0,406.5 1451.0,408.8 1451.0,411.2 1457.0,413.1 1457.0,410.4 1461.0,408.7 1461.0,413.3 1463.0,412.4 1463.0,410.3 1465.0,409.9 1465.0,411.0 1469.0,411.5 1469.0,412.4 1475.0,413.9 1475.0,412.5 1477.0,413.4 1477.0,414.1 1479.0,414.2 1479.0,414.5 1483.0,413.0 1483.0,410.9 1489.0,411.6 1489.0,413.9 1497.0,412.9 1497.0,413.1 1501.0,414.7 1501.0,414.3 1503.0,414.5 1503.0,414.4 1505.0,416.2 1505.0,416.0 1507.0,415.8 1507.0,415.9 1511.0,416.5 1511.0,413.2 1519.0,411.2 1519.0,413.5 1521.0,413.4 1521.0,413.3 1525.0,414.4 1525.0,414.3 1533.0,414.6 1533.0,414.9 1539.0,417.3 1539.0,418.5 1541.0,417.7 1541.0,416.7 1543.0,417.1 1543.0,417.5 1551.0,416.1 1551.0,416.1 1559.0,416.7 1559.0,416.9 1567.0,416.0 1567.0,415.8 1571.0,414.9 1571.0,415.7 1575.0,412.9 1575.0,412.3 1581.0,414.3 1581.0,413.6 1587.0,416.0 1587.0,416.9 1591.0,418.9 1591.0,419.1 1599.0,422.2 1599.0,421.3 1607.0,418.6 1607.0,419.6 1609.0,419.8 1609.0,418.7 1617.0,419.7 1617.0,418.4 1623.0,415.7 1623.0,417.4 1627.0,417.6 1627.0,416.3 1629.0,416.5 1629.0,414.6 1633.0,415.8 1633.0,419.7 1637.0,420.0 1637.0,419.3 1645.0,418.6 1645.0,417.9 1653.0,417.7 1653.0,418.0 1661.0,420.8 1661.0,420.9 1667.0,421.2 1667.0,421.2 1675.0,421.2 1675.0,421.9 1677.0,421.6 1677.0,418.6 1681.0,419.6 1681.0,421.6 1689.0,420.8 1689.0,419.5 1693.0,420.2 1693.0,421.4 1701.0,422.1 1701.0,422.8 1707.0,423.0 1707.0,422.9 1713.0,424.5 1713.0,421.2 1715.0,420.4 1715.0,424.7 1717.0,423.8 1717.0,423.1 1721.0,423.7 1721.0,443.3 1719.0,442.3 1719.0,446.7 1711.0,449.4 1711.0,445.0 1707.0,442.7 1707.0,445.0 1701.0,444.8 1701.0,442.5 1695.0,441.4 1695.0,445.0 1691.0,445.0 1691.0,442.5 1685.0,443.1 1685.0,442.8 1683.0,442.9 1683.0,442.9 1681.0,442.9 1681.0,442.2 1673.0,441.8 1673.0,443.8 1669.0,443.5 1669.0,442.8 1663.0,442.7 1663.0,443.1 1657.0,440.8 1657.0,440.0 1653.0,439.1 1653.0,443.0 1649.0,442.7 1649.0,441.5 1647.0,441.0 1647.0,437.5 1645.0,438.4 1645.0,438.9 1643.0,438.3 1643.0,439.9 1637.0,441.3 1637.0,439.2 1631.0,438.2 1631.0,437.8 1629.0,437.3 1629.0,437.8 1623.0,437.5 1623.0,441.6 1617.0,444.3 1617.0,440.3 1611.0,440.5 1611.0,441.0 1605.0,440.4 1605.0,440.4 1601.0,440.7 1601.0,440.7 1595.0,440.8 1595.0,440.1 1591.0,438.7 1591.0,439.0 1585.0,433.8 1585.0,433.8 1577.0,433.3 1577.0,433.6 1573.0,433.6 1573.0,436.4 1565.0,439.9 1565.0,438.5 1561.0,440.0 1561.0,439.1 1555.0,437.9 1555.0,437.4 1549.0,436.4 1549.0,436.2 1541.0,437.8 1541.0,437.2 1537.0,436.6 1537.0,437.5 1533.0,436.5 1533.0,437.3 1527.0,437.7 1527.0,438.0 1519.0,436.4 1519.0,435.1 1515.0,435.1 1515.0,437.2 1507.0,438.7 1507.0,435.6 1505.0,435.8 1505.0,438.1 1503.0,436.3 1503.0,435.3 1497.0,433.5 1497.0,432.4 1495.0,433.3 1495.0,433.0 1493.0,432.6 1493.0,433.7 1485.0,434.5 1485.0,433.5 1483.0,432.4 1483.0,433.0 1481.0,433.2 1481.0,433.0 1479.0,434.2 1479.0,433.9 1477.0,433.7 1477.0,435.0 1471.0,432.9 1471.0,434.7 1469.0,434.4 1469.0,434.8 1465.0,434.3 1465.0,430.9 1459.0,433.0 1459.0,435.7 1457.0,436.6 1457.0,434.2 1453.0,433.0 1453.0,433.7 1447.0,432.1 1447.0,435.3 1443.0,434.1 1443.0,434.3 1435.0,435.7 1435.0,432.2 1431.0,433.0 1431.0,432.0 1429.0,430.2 1429.0,431.9 1423.0,430.1 1423.0,429.3 1415.0,429.0 1415.0,429.6 1413.0,429.6 1413.0,429.1 1405.0,426.1 1405.0,425.3 1399.0,423.6 1399.0,423.6 1395.0,421.3 1395.0,422.0 1393.0,422.3 1393.0,421.6 1385.0,422.3 1385.0,422.7 1377.0,420.0 1377.0,420.9 1371.0,417.8 1371.0,418.7 1369.0,416.8 1369.0,415.0 1363.0,412.7 1363.0,413.1 1359.0,409.3 1359.0,413.2 1353.0,409.7 1353.0,407.5 1347.0,406.5 1347.0,406.7 1343.0,405.6 1343.0,404.4 1335.0,402.1 1335.0,403.3 1331.0,398.8 1331.0,398.1 1327.0,396.4 1327.0,395.7 1323.0,394.9 1323.0,394.5 1321.0,394.3 1321.0,396.6 1315.0,395.2 1315.0,393.0 1311.0,389.3 1311.0,388.5 1305.0,383.5 1305.0,385.5 1299.0,378.1 1299.0,376.3 1297.0,374.5 1297.0,374.5 1291.0,371.2 1291.0,373.5 1283.0,368.4 1283.0,366.6 1275.0,363.2 1275.0,362.1 1273.0,363.6 1273.0,364.7 1271.0,366.4 1271.0,366.3 1267.0,369.6 1267.0,369.0 1263.0,370.8 1263.0,372.3 1255.0,379.6 1255.0,380.9 1249.0,383.7 1249.0,381.2 1241.0,382.8 1241.0,385.9 1237.0,386.8 1237.0,383.7 1229.0,389.9 1229.0,392.3 1227.0,394.8 1227.0,392.4 1223.0,395.3 1223.0,394.9 1215.0,395.8 1215.0,396.2 1213.0,396.1 1213.0,397.0 1207.0,396.8 1207.0,395.3 1201.0,396.0 1201.0,397.9 1199.0,397.8 1199.0,396.3 1197.0,396.9 1197.0,398.3 1193.0,399.9 1193.0,400.8 1185.0,400.5 1185.0,398.4 1181.0,398.7 1181.0,399.9 1175.0,400.1 1175.0,401.5 1169.0,402.5 1169.0,399.8 1165.0,401.6 1165.0,402.5 1159.0,402.5 1159.0,401.8 1151.0,402.4 1151.0,402.5 1145.0,405.7 1145.0,409.4 1139.0,408.0 1139.0,405.6 1135.0,404.8 1135.0,405.5 1131.0,405.3 1131.0,406.2 1127.0,405.5 1127.0,403.5 1123.0,403.2 1123.0,406.6 1115.0,406.2 1115.0,402.4 1109.0,403.9 1109.0,403.3 1105.0,404.4 1105.0,404.4 1101.0,405.9 1101.0,405.6 1095.0,407.9 1095.0,408.5 1093.0,408.3 1093.0,407.6 1087.0,405.2 1087.0,406.0 1081.0,404.7 1081.0,405.2 1079.0,406.3 1079.0,405.5 1077.0,406.0 1077.0,406.3 1073.0,406.7 1073.0,407.9 1071.0,408.0 1071.0,407.9 1067.0,408.6 1067.0,408.5 1061.0,406.4 1061.0,405.8 1057.0,404.3 1057.0,403.6 1055.0,403.0 1055.0,402.9 1053.0,402.3 1053.0,405.0 1049.0,403.9 1049.0,402.3 1045.0,403.8 1045.0,402.7 1041.0,403.4 1041.0,403.1 1037.0,403.0 1037.0,404.2 1033.0,403.8 1033.0,403.7 1027.0,401.4 1027.0,404.5 1021.0,403.0 1021.0,399.6 1015.0,397.8 1015.0,397.1 1009.0,395.6 1009.0,398.5 1001.0,394.2 1001.0,392.5 997.0,390.2 997.0,390.7 991.0,391.1 991.0,391.1 989.0,389.0 989.0,388.2 985.0,389.3 985.0,388.5 983.0,386.8 983.0,388.6 975.0,384.9 975.0,383.9 967.0,380.2 967.0,385.3 965.0,384.1 965.0,380.0 957.0,378.8 957.0,381.3 949.0,377.7 949.0,377.9 945.0,376.5 945.0,377.7 943.0,377.1 943.0,371.8 939.0,369.4 939.0,371.2 937.0,369.9 937.0,369.6 933.0,368.4 933.0,367.2 931.0,365.6 931.0,366.1 925.0,362.1 925.0,362.1 921.0,360.9 921.0,360.4 917.0,360.3 917.0,359.4 911.0,358.6 911.0,359.1 903.0,357.0 903.0,357.6 899.0,357.6 899.0,357.3 893.0,356.8 893.0,357.2 885.0,358.8 885.0,360.2 881.0,360.3 881.0,359.7 879.0,360.1 879.0,359.2 871.0,359.9 871.0,360.2 867.0,362.1 867.0,361.9 863.0,362.3 863.0,362.1 861.0,362.6 861.0,362.8 859.0,363.5 859.0,362.9 853.0,364.8 853.0,364.3 849.0,366.5 849.0,367.2 845.0,368.5 845.0,368.7 839.0,371.6 839.0,371.0 831.0,370.9 831.0,372.5 829.0,372.6 829.0,370.9 823.0,369.4 823.0,369.1 815.0,370.2 815.0,370.1 811.0,369.7 811.0,369.8 807.0,369.0 807.0,374.3 801.0,373.4 801.0,368.3 797.0,368.6 797.0,373.2 791.0,372.7 791.0,373.1 787.0,370.4 787.0,365.5 779.0,359.2 779.0,360.4 777.0,360.4 777.0,360.0 773.0,357.6 773.0,357.3 769.0,354.9 769.0,356.4 767.0,355.6 767.0,353.7 761.0,347.8 761.0,348.7 755.0,343.5 755.0,343.6 753.0,342.2 753.0,340.8 751.0,340.0 751.0,343.3 749.0,341.4 749.0,338.1 743.0,337.5 743.0,338.1 735.0,337.2 735.0,337.3 731.0,337.1 731.0,336.4 727.0,337.7 727.0,338.4 721.0,338.2 721.0,337.7 717.0,338.1 717.0,338.2 709.0,338.2 709.0,339.7 707.0,339.6 707.0,337.8 701.0,336.6 701.0,338.3 699.0,338.0 699.0,338.4 697.0,339.3 697.0,337.8 693.0,337.5 693.0,336.9 691.0,337.4 691.0,337.7 685.0,337.1 685.0,338.3 677.0,337.0 677.0,336.9 669.0,335.2 669.0,333.8 663.0,331.5 663.0,333.8 659.0,332.5 659.0,330.6 653.0,328.2 653.0,328.3 651.0,327.7 651.0,333.9 647.0,331.8 647.0,325.0 643.0,324.8 643.0,325.8 635.0,322.9 635.0,323.1 633.0,323.0 633.0,322.6 625.0,319.7 625.0,325.1 617.0,324.3 617.0,318.2 611.0,316.1 611.0,317.5 609.0,316.4 609.0,316.6 603.0,314.2 603.0,312.6 595.0,311.6 595.0,313.3 589.0,310.9 589.0,311.2 581.0,309.9 581.0,309.4 573.0,309.5 573.0,308.8 565.0,305.4 565.0,306.2 563.0,306.4 563.0,304.8 555.0,303.6 555.0,303.9 551.0,303.6 551.0,303.9 545.0,304.6 545.0,305.7 539.0,307.6 539.0,307.1 535.0,306.7 535.0,307.7 531.0,306.5 531.0,306.2 523.0,303.4 523.0,302.0 519.0,302.6 519.0,303.8 513.0,304.8 513.0,303.2 511.0,303.5 511.0,304.6 509.0,304.9 509.0,306.9 503.0,306.7 503.0,310.8 495.0,307.9 495.0,306.5 491.0,306.8 491.0,301.7 489.0,301.5 489.0,306.3 483.0,305.2 483.0,300.8 475.0,300.1 475.0,299.1 473.0,299.3 473.0,299.8 467.0,299.6 467.0,299.8 463.0,300.7 463.0,302.2 459.0,300.5 459.0,298.2 457.0,298.3 457.0,298.0 455.0,297.0 455.0,297.6 453.0,297.3 453.0,303.4 445.0,302.7 445.0,298.3 441.0,298.7 441.0,298.8 433.0,297.9 433.0,296.1 429.0,296.8 429.0,298.3 427.0,298.7 427.0,298.2 419.0,298.0 419.0,296.7 415.0,295.3 415.0,297.0 411.0,297.4 411.0,297.9 409.0,298.6 409.0,296.9 407.0,296.3 407.0,303.6 399.0,302.7 399.0,296.6 395.0,296.3 395.0,295.9 393.0,294.8 393.0,294.9 385.0,295.6 385.0,295.8 381.0,295.3 381.0,294.7 377.0,293.9 377.0,295.9 371.0,292.8 371.0,290.5 365.0,289.8 365.0,291.6 363.0,292.3 363.0,291.2 361.0,291.4 361.0,290.4 353.0,290.5 353.0,290.7 349.0,291.0 349.0,290.8 343.0,287.5 343.0,287.5 337.0,286.8 337.0,286.4 335.0,284.8 335.0,288.3 333.0,288.5 333.0,286.4 329.0,287.4 329.0,286.2 327.0,286.0 327.0,287.4 321.0,288.1 321.0,287.0 319.0,287.3 319.0,287.3 315.0,286.0 315.0,285.5 311.0,285.3 311.0,286.8 309.0,287.1 309.0,285.8 301.0,284.4 301.0,285.8 293.0,285.6 293.0,283.8 291.0,283.5 291.0,284.8 283.0,284.7 283.0,283.6 277.0,283.9 277.0,284.1 269.0,282.3 269.0,283.8 265.0,281.7 265.0,280.4 257.0,277.2 257.0,278.4 251.0,276.1 251.0,276.1 247.0,277.2 247.0,276.8 241.0,275.4 241.0,274.2 233.0,268.8 233.0,268.9 225.0,262.6 225.0,264.1 217.0,259.2 217.0,257.5 215.0,257.3 215.0,259.4 209.0,253.2 209.0,251.9 201.0,244.0 201.0,245.3 197.0,240.3 197.0,238.4 191.0,230.7 191.0,232.4 185.0,221.5 185.0,220.0 181.0,211.9"/><polyline fill="none" stroke="#008000" stroke-width="11" stroke-linejoin="round" points="162.6,126.0 162.9,128.0 163.1,130.0 165.2,132.0 164.1,134.0 165.1,136.0 164.1,138.0 165.0,140.0 164.9,142.0 165.3,144.0 165.8,146.0 165.5,147.9 164.9,149.9 165.9,151.8 167.0,153.7 167.5,155.6 167.2,157.6 169.5,159.6 169.4,161.7 171.9,163.8 171.5,166.0 171.3,167.8 173.4,169.6 172.9,171.4 172.9,173.3 172.6,175.2 173.5,177.2 175.0,179.2 175.6,181.1 175.1,183.2 175.0,185.2 176.1,187.2 176.3,189.2 177.2,191.2 177.5,193.2 177.8,195.2 180.1,197.1 179.9,199.0 182.3,200.8 182.6,202.6 183.8,204.4 184.6,206.3 184.0,208.1 186.0,210.0 188.1,211.8 187.8,213.6 189.2,215.4 189.5,217.2 192.3,219.0 191.8,220.7 192.9,222.5 195.4,224.2 197.0,225.8 196.7,227.4 199.6,229.0 198.9,230.5 200.3,232.0 201.4,233.6 204.7,235.2 205.8,236.7 208.0,238.2 207.8,239.6 209.7,241.0 212.1,242.4 212.8,243.7"/><polyline fill="none" stroke="#008000" stroke-width="11" stroke-linejoin="round" points="1296.0,363.6 1297.8,364.8 1299.6,366.2 1301.5,367.6 1301.3,369.1 1302.0,370.7 1305.7,372.2 1306.4,373.8 1308.8,375.3 1308.9,376.7"/>
<polygon fill="#FF00FF" points="187.0,287.3 195.0,306.7 195.0,306.1 197.0,308.7 197.0,309.5 203.0,318.9 203.0,319.2 209.0,327.6 209.0,327.5 213.0,332.3 213.0,331.6 217.0,336.4 217.0,336.2 219.0,338.2 219.0,338.2 225.0,343.1 225.0,339.7 229.0,342.8 229.0,345.9 235.0,348.0 235.0,350.0 243.0,355.8 243.0,353.9 251.0,359.4 251.0,360.7 255.0,361.6 255.0,360.9 263.0,363.6 263.0,364.3 267.0,367.1 267.0,367.4 271.0,367.4 271.0,367.3 279.0,371.0 279.0,367.6 287.0,372.4 287.0,375.2 293.0,376.9 293.0,377.9 295.0,378.3 295.0,378.3 297.0,378.8 297.0,378.1 301.0,377.4 301.0,370.9 303.0,371.7 303.0,377.4 311.0,378.4 311.0,379.1 315.0,381.5 315.0,380.8 319.0,382.0 319.0,382.5 323.0,386.4 323.0,379.8 327.0,379.4 327.0,385.8 329.0,386.7 329.0,388.3 335.0,391.1 335.0,390.5 337.0,391.0 337.0,390.3 341.0,393.5 341.0,393.6 343.0,393.0 343.0,392.4 345.0,392.9 345.0,393.9 349.0,395.1 349.0,395.4 355.0,398.7 355.0,398.4 363.0,401.8 363.0,401.4 365.0,401.7 365.0,401.7 373.0,403.8 373.0,404.2 379.0,406.6 379.0,407.0 387.0,414.3 387.0,411.3 393.0,414.6 393.0,415.6 395.0,416.4 395.0,416.5 403.0,416.7 403.0,418.0 409.0,419.0 409.0,418.6 411.0,420.1 411.0,420.6 419.0,422.2 419.0,421.3 425.0,422.0 425.0,423.5 431.0,423.4 431.0,423.3 435.0,423.2 435.0,422.0 443.0,424.5 443.0,425.7 445.0,426.5 445.0,425.3 453.0,426.6 453.0,427.7 455.0,428.0 455.0,427.7 459.0,428.3 459.0,425.4 465.0,424.9 465.0,426.8 473.0,430.5 473.0,432.3 481.0,433.4 481.0,431.6 483.0,431.0 483.0,432.0 487.0,432.1 487.0,432.1 491.0,433.8 491.0,433.6 495.0,434.0 495.0,434.6 499.0,434.6 499.0,434.8 503.0,433.8 503.0,432.7 505.0,432.3 505.0,432.8 511.0,435.0 511.0,433.6 517.0,434.4 517.0,433.3 523.0,433.5 523.0,436.1 525.0,436.0 525.0,435.1 527.0,433.9 527.0,435.3 531.0,435.0 531.0,431.9 537.0,432.0 537.0,434.2 545.0,435.8 545.0,430.4 549.0,429.6 549.0,427.9 553.0,428.1 553.0,434.7 555.0,434.8 555.0,435.4 559.0,435.0 559.0,434.4 563.0,434.0 563.0,431.6 569.0,432.8 569.0,436.1 575.0,436.3 575.0,432.4 579.0,431.4 579.0,434.0 587.0,434.9 587.0,435.9 591.0,435.1 591.0,434.1 593.0,434.6 593.0,434.7 599.0,435.1 599.0,435.4 607.0,438.6 607.0,439.0 609.0,440.1 609.0,441.0 613.0,442.2 613.0,441.0 617.0,443.5 617.0,443.1 621.0,443.8 621.0,438.6 629.0,439.0 629.0,440.2 635.0,443.0 635.0,447.5 641.0,452.2 641.0,452.7 645.0,454.2 645.0,454.4 649.0,454.7 649.0,455.1 653.0,452.0 653.0,444.9 655.0,443.9 655.0,450.4 661.0,452.9 661.0,452.9 663.0,453.5 663.0,453.1 669.0,453.6 669.0,453.6 671.0,453.3 671.0,452.1 675.0,452.5 675.0,453.6 679.0,453.4 679.0,453.2 683.0,454.2 683.0,455.6 691.0,455.2 691.0,452.5 699.0,452.6 699.0,454.4 701.0,452.4 701.0,447.9 705.0,446.5 705.0,451.1 709.0,449.9 709.0,450.4 711.0,450.0 711.0,449.8 715.0,448.9 715.0,449.2 723.0,451.6 723.0,451.8 725.0,452.4 725.0,445.5 729.0,446.1 729.0,452.9 735.0,452.3 735.0,451.1 743.0,450.0 743.0,450.7 747.0,448.9 747.0,449.3 749.0,449.9 749.0,443.4 757.0,449.3 757.0,454.3 765.0,463.3 765.0,464.3 769.0,465.5 769.0,465.9 773.0,467.8 773.0,467.9 781.0,473.5 781.0,473.0 785.0,478.0 785.0,478.3 787.0,478.5 787.0,478.8 791.0,478.6 791.0,475.9 797.0,478.3 797.0,480.8 803.0,482.3 803.0,480.7 805.0,481.0 805.0,481.1 809.0,479.1 809.0,479.6 817.0,480.9 817.0,476.7 825.0,478.1 825.0,481.5 827.0,480.9 827.0,480.7 835.0,481.1 835.0,482.4 841.0,480.4 841.0,480.8 845.0,480.2 845.0,480.0 847.0,478.5 847.0,478.0 855.0,478.1 855.0,479.0 857.0,478.3 857.0,475.8 861.0,473.5 861.0,472.3 865.0,471.2 865.0,474.7 873.0,474.0 873.0,473.9 877.0,472.5 877.0,472.8 883.0,470.5 883.0,468.4 885.0,467.5 885.0,468.8 893.0,466.0 893.0,466.0 895.0,466.7 895.0,466.7 901.0,464.7 901.0,465.5 907.0,467.5 907.0,466.2 911.0,467.3 911.0,468.6 913.0,468.1 913.0,467.3 917.0,469.0 917.0,469.2 921.0,470.4 921.0,470.6 929.0,477.0 929.0,477.4 935.0,481.4 935.0,476.8 937.0,477.9 937.0,482.0 941.0,483.8 941.0,483.7 943.0,484.6 943.0,484.2 945.0,485.5 945.0,486.6 947.0,489.4 947.0,487.4 949.0,488.9 949.0,489.6 957.0,495.4 957.0,496.7 963.0,498.4 963.0,496.2 965.0,496.5 965.0,498.4 967.0,498.8 967.0,498.7 971.0,499.4 971.0,496.7 975.0,496.8 975.0,496.2 983.0,501.8 983.0,504.7 987.0,504.4 987.0,505.1 995.0,505.4 995.0,503.5 1003.0,507.5 1003.0,507.7 1005.0,508.0 1005.0,509.3 1007.0,509.2 1007.0,509.5 1013.0,511.3 1013.0,511.4 1017.0,512.5 1017.0,511.5 1025.0,510.9 1025.0,510.7 1033.0,514.0 1033.0,515.0 1037.0,516.2 1037.0,516.4 1045.0,518.2 1045.0,516.8 1053.0,517.7 1053.0,514.4 1055.0,514.4 1055.0,517.9 1059.0,519.1 1059.0,519.5 1063.0,516.9 1063.0,513.6 1065.0,513.6 1065.0,517.9 1067.0,517.2 1067.0,516.5 1071.0,514.4 1071.0,515.0 1077.0,517.2 1077.0,515.0 1085.0,514.4 1085.0,514.7 1091.0,513.0 1091.0,514.4 1097.0,515.3 1097.0,515.6 1101.0,516.7 1101.0,516.7 1109.0,516.8 1109.0,516.2 1115.0,515.6 1115.0,514.3 1119.0,516.2 1119.0,517.3 1127.0,517.5 1127.0,518.6 1135.0,516.2 1135.0,514.7 1141.0,514.9 1141.0,515.2 1145.0,515.4 1145.0,515.5 1153.0,512.7 1153.0,513.8 1159.0,511.4 1159.0,511.2 1165.0,511.2 1165.0,506.7 1171.0,505.0 1171.0,508.3 1177.0,507.8 1177.0,507.9 1179.0,507.7 1179.0,508.0 1185.0,508.9 1185.0,508.4 1187.0,509.2 1187.0,509.0 1195.0,509.0 1195.0,509.0 1201.0,506.8 1201.0,505.3 1205.0,504.1 1205.0,507.2 1207.0,506.0 1207.0,505.7 1215.0,506.0 1215.0,505.5 1223.0,502.1 1223.0,502.9 1229.0,500.6 1229.0,497.9 1231.0,497.3 1231.0,498.3 1237.0,494.4 1237.0,493.1 1245.0,487.7 1245.0,490.3 1251.0,487.3 1251.0,486.4 1257.0,483.4 1257.0,484.3 1263.0,478.3 1263.0,478.7 1271.0,471.3 1271.0,468.3 1275.0,467.0 1275.0,467.6 1279.0,469.3 1279.0,469.8 1281.0,471.5 1281.0,471.6 1289.0,476.5 1289.0,476.4 1291.0,477.6 1291.0,478.5 1293.0,479.0 1293.0,479.6 1299.0,484.2 1299.0,482.4 1307.0,489.8 1307.0,490.4 1313.0,497.3 1313.0,497.3 1321.0,505.2 1321.0,505.5 1325.0,508.6 1325.0,506.9 1329.0,507.3 1329.0,508.2 1333.0,509.4 1333.0,511.2 1335.0,511.4 1335.0,507.1 1339.0,508.2 1339.0,512.4 1341.0,513.2 1341.0,512.9 1347.0,517.2 1347.0,513.9 1353.0,517.3 1353.0,521.1 1359.0,521.8 1359.0,521.5 1367.0,522.6 1367.0,521.3 1373.0,523.3 1373.0,524.1 1377.0,527.0 1377.0,527.2 1379.0,526.9 1379.0,525.8 1387.0,530.2 1387.0,531.6 1389.0,531.7 1389.0,531.1 1391.0,531.1 1391.0,532.0 1395.0,533.2 1395.0,533.1 1399.0,532.4 1399.0,532.3 1405.0,534.2 1405.0,533.3 1409.0,533.0 1409.0,533.0 1415.0,535.7 1415.0,536.3 1423.0,538.9 1423.0,538.8 1427.0,540.5 1427.0,539.0 1429.0,538.4 1429.0,540.2 1435.0,540.9 1435.0,540.8 1441.0,539.1 1441.0,535.0 1447.0,534.2 1447.0,537.0 1455.0,537.5 1455.0,538.8 1463.0,541.6 1463.0,536.9 1469.0,538.1 1469.0,542.5 1477.0,542.8 1477.0,539.8 1481.0,540.3 1481.0,540.9 1487.0,540.3 1487.0,541.3 1489.0,541.6 1489.0,540.4 1497.0,541.1 1497.0,543.8 1499.0,545.0 1499.0,545.0 1503.0,545.7 1503.0,542.9 1505.0,542.4 1505.0,543.3 1509.0,546.0 1509.0,547.6 1513.0,548.2 1513.0,545.9 1519.0,546.5 1519.0,548.4 1521.0,546.5 1521.0,546.4 1527.0,545.7 1527.0,546.2 1535.0,548.3 1535.0,546.0 1543.0,545.5 1543.0,548.2 1551.0,548.9 1551.0,548.8 1557.0,549.4 1557.0,545.2 1565.0,544.1 1565.0,547.4 1567.0,547.0 1567.0,546.1 1571.0,545.1 1571.0,546.3 1579.0,548.0 1579.0,548.3 1585.0,547.0 1585.0,546.4 1589.0,545.4 1589.0,545.5 1595.0,544.2 1595.0,544.7 1603.0,548.2 1603.0,543.8 1609.0,544.6 1609.0,548.6 1613.0,547.1 1613.0,545.1 1615.0,545.3 1615.0,547.6 1617.0,547.8 1617.0,547.5 1619.0,547.8 1619.0,548.5 1627.0,550.6 1627.0,548.7 1633.0,546.8 1633.0,548.7 1639.0,547.6 1639.0,547.5 1647.0,548.0 1647.0,546.0 1649.0,545.9 1649.0,546.0 1655.0,546.3 1655.0,548.2 1663.0,548.2 1663.0,546.9 1665.0,547.7 1665.0,548.6 1669.0,550.6 1669.0,550.7 1671.0,552.2 1671.0,550.4 1677.0,551.6 1677.0,548.6 1681.0,549.5 1681.0,553.5 1685.0,553.3 1685.0,554.1 1689.0,554.6 1689.0,554.2 1695.0,553.0 1695.0,549.6 1701.0,551.3 1701.0,555.0 1705.0,553.3 1705.0,553.8 1713.0,553.5 1713.0,551.8 1715.0,551.5 1715.0,552.3 1717.0,554.2 1717.0,555.1 1721.0,556.6 1721.0,580.2 1719.0,580.3 1719.0,576.0 1711.0,573.6 1711.0,573.2 1703.0,573.6 1703.0,574.7 1699.0,575.2 1699.0,574.1 1697.0,573.9 1697.0,575.0 1691.0,574.6 1691.0,573.3 1687.0,573.8 1687.0,577.1 1681.0,577.0 1681.0,574.5 1679.0,574.7 1679.0,576.7 1673.0,573.7 1673.0,571.0 1669.0,570.2 1669.0,572.1 1665.0,570.1 1665.0,568.7 1663.0,567.9 1663.0,568.0 1657.0,567.2 1657.0,568.5 1655.0,569.2 1655.0,568.6 1651.0,568.1 1651.0,566.7 1643.0,566.5 1643.0,568.9 1635.0,569.5 1635.0,567.2 1633.0,567.7 1633.0,568.7 1629.0,570.1 1629.0,571.9 1627.0,572.3 1627.0,572.0 1625.0,571.5 1625.0,570.9 1623.0,572.0 1623.0,570.3 1615.0,567.0 1615.0,568.1 1613.0,567.9 1613.0,569.3 1605.0,570.3 1605.0,568.3 1601.0,567.7 1601.0,568.5 1595.0,565.2 1595.0,565.6 1589.0,566.8 1589.0,565.3 1585.0,566.3 1585.0,567.6 1579.0,568.9 1579.0,568.5 1571.0,566.8 1571.0,566.0 1569.0,566.5 1569.0,567.1 1567.0,567.6 1567.0,567.9 1561.0,570.2 1561.0,570.0 1553.0,569.0 1553.0,568.0 1551.0,567.7 1551.0,568.3 1547.0,566.3 1547.0,566.5 1539.0,567.6 1539.0,567.0 1537.0,567.4 1537.0,567.0 1533.0,566.5 1533.0,566.8 1531.0,566.3 1531.0,566.7 1523.0,565.4 1523.0,565.1 1521.0,566.3 1521.0,566.9 1519.0,568.9 1519.0,568.1 1515.0,566.4 1515.0,567.1 1507.0,566.4 1507.0,565.7 1505.0,564.5 1505.0,564.5 1503.0,565.1 1503.0,567.3 1497.0,565.5 1497.0,563.1 1495.0,563.0 1495.0,565.0 1493.0,564.7 1493.0,567.6 1489.0,567.4 1489.0,562.2 1485.0,562.1 1485.0,567.3 1479.0,568.0 1479.0,564.1 1477.0,563.3 1477.0,562.0 1475.0,561.5 1475.0,564.2 1469.0,564.5 1469.0,565.1 1465.0,563.9 1465.0,561.6 1463.0,561.6 1463.0,560.6 1461.0,560.7 1461.0,562.3 1455.0,559.3 1455.0,559.0 1447.0,558.6 1447.0,559.0 1439.0,559.7 1439.0,563.0 1437.0,563.4 1437.0,559.1 1435.0,560.5 1435.0,560.8 1433.0,561.0 1433.0,560.2 1425.0,560.1 1425.0,560.4 1423.0,558.7 1423.0,558.1 1419.0,555.6 1419.0,555.9 1413.0,555.0 1413.0,556.5 1411.0,555.0 1411.0,554.9 1405.0,554.9 1405.0,556.6 1401.0,554.9 1401.0,553.3 1393.0,552.6 1393.0,550.9 1385.0,549.5 1385.0,549.3 1383.0,550.2 1383.0,551.5 1381.0,549.0 1381.0,548.7 1377.0,547.7 1377.0,549.2 1375.0,548.2 1375.0,547.2 1369.0,543.8 1369.0,543.7 1361.0,542.3 1361.0,540.8 1357.0,541.2 1357.0,541.4 1349.0,537.1 1349.0,538.3 1345.0,537.1 1345.0,536.1 1343.0,535.0 1343.0,535.3 1335.0,531.4 1335.0,531.8 1329.0,530.4 1329.0,529.1 1323.0,528.0 1323.0,528.4 1321.0,526.0 1321.0,527.2 1313.0,519.3 1313.0,519.1 1307.0,512.2 1307.0,512.5 1303.0,508.1 1303.0,508.0 1299.0,505.1 1299.0,508.3 1295.0,505.2 1295.0,500.8 1287.0,495.8 1287.0,496.5 1283.0,493.4 1283.0,492.5 1279.0,490.9 1279.0,493.3 1273.0,492.2 1273.0,491.0 1271.0,491.7 1271.0,490.4 1269.0,491.8 1269.0,491.8 1265.0,496.0 1265.0,497.5 1257.0,505.3 1257.0,503.7 1249.0,507.7 1249.0,508.8 1245.0,510.9 1245.0,510.8 1237.0,516.2 1237.0,515.9 1229.0,520.4 1229.0,522.5 1223.0,524.7 1223.0,523.5 1215.0,526.9 1215.0,526.3 1211.0,527.4 1211.0,529.6 1207.0,528.2 1207.0,526.7 1203.0,528.1 1203.0,526.5 1201.0,527.4 1201.0,527.5 1195.0,529.7 1195.0,532.7 1187.0,532.7 1187.0,529.3 1181.0,527.3 1181.0,529.0 1175.0,529.5 1175.0,531.8 1173.0,532.2 1173.0,529.3 1171.0,529.4 1171.0,529.3 1167.0,530.9 1167.0,531.5 1161.0,531.8 1161.0,534.0 1155.0,535.7 1155.0,532.4 1151.0,533.7 1151.0,534.1 1143.0,535.7 1143.0,535.5 1135.0,535.5 1135.0,535.2 1133.0,534.8 1133.0,535.1 1131.0,536.9 1131.0,536.9 1129.0,537.5 1129.0,540.7 1125.0,540.3 1125.0,537.0 1119.0,537.5 1119.0,537.6 1113.0,534.7 1113.0,535.0 1111.0,535.9 1111.0,536.1 1107.0,536.3 1107.0,538.6 1101.0,538.8 1101.0,536.9 1093.0,535.5 1093.0,534.2 1087.0,534.9 1087.0,536.5 1085.0,537.0 1085.0,536.5 1077.0,537.2 1077.0,536.6 1073.0,534.3 1073.0,533.8 1067.0,536.1 1067.0,537.1 1063.0,537.8 1063.0,540.8 1055.0,542.2 1055.0,540.6 1051.0,539.7 1051.0,539.7 1045.0,539.8 1045.0,537.5 1043.0,537.1 1043.0,536.8 1035.0,534.5 1035.0,536.2 1029.0,534.1 1029.0,535.3 1027.0,535.0 1027.0,537.6 1019.0,537.3 1019.0,536.9 1015.0,536.4 1015.0,531.7 1007.0,529.1 1007.0,529.5 1001.0,527.7 1001.0,527.9 999.0,527.2 999.0,527.2 993.0,525.9 993.0,528.5 985.0,528.2 985.0,527.3 979.0,525.1 979.0,524.3 975.0,520.9 975.0,519.5 967.0,518.8 967.0,521.0 961.0,520.1 961.0,517.8 959.0,517.7 959.0,518.1 955.0,514.9 955.0,514.7 953.0,512.6 953.0,513.4 949.0,511.5 949.0,511.5 947.0,510.0 947.0,511.5 941.0,506.4 941.0,507.3 937.0,505.6 937.0,502.7 935.0,501.6 935.0,501.2 927.0,496.1 927.0,496.1 923.0,491.1 923.0,491.1 917.0,489.6 917.0,490.6 911.0,489.4 911.0,492.1 903.0,489.7 903.0,490.2 899.0,490.0 899.0,486.2 895.0,487.7 895.0,492.4 893.0,491.7 893.0,487.6 889.0,489.4 889.0,489.1 883.0,491.1 883.0,490.5 879.0,492.6 879.0,493.3 875.0,494.7 875.0,496.3 867.0,497.1 867.0,496.1 865.0,496.2 865.0,495.4 863.0,496.5 863.0,502.5 859.0,503.5 859.0,498.1 857.0,499.5 857.0,499.6 849.0,500.0 849.0,498.8 847.0,499.1 847.0,500.5 841.0,502.7 841.0,504.5 835.0,506.5 835.0,504.8 833.0,504.7 833.0,508.0 829.0,508.3 829.0,504.1 825.0,504.2 825.0,505.7 823.0,506.6 823.0,506.0 815.0,503.3 815.0,502.4 807.0,502.4 807.0,501.9 803.0,502.8 803.0,508.0 799.0,506.6 799.0,502.0 793.0,500.8 793.0,500.4 785.0,499.2 785.0,504.6 781.0,499.7 781.0,495.0 779.0,493.9 779.0,493.1 775.0,490.3 775.0,491.2 771.0,487.4 771.0,487.1 765.0,486.2 765.0,485.6 761.0,481.2 761.0,481.4 757.0,476.9 757.0,481.1 755.0,478.1 755.0,474.5 747.0,471.1 747.0,472.0 739.0,475.5 739.0,474.0 737.0,473.4 737.0,474.9 735.0,475.0 735.0,473.4 727.0,474.1 727.0,474.2 721.0,471.7 721.0,474.0 713.0,472.5 713.0,471.6 711.0,472.7 711.0,475.6 703.0,477.6 703.0,477.5 701.0,478.5 701.0,475.2 693.0,477.3 693.0,476.5 685.0,476.3 685.0,477.1 679.0,476.7 679.0,477.1 677.0,477.2 677.0,478.1 675.0,478.2 675.0,475.6 667.0,475.5 667.0,475.8 659.0,473.2 659.0,474.3 655.0,473.5 655.0,472.3 653.0,473.3 653.0,474.1 647.0,476.4 647.0,477.5 645.0,477.9 645.0,477.4 639.0,474.5 639.0,475.0 633.0,470.4 633.0,469.0 631.0,468.5 631.0,468.1 623.0,467.4 623.0,468.3 619.0,467.4 619.0,467.0 613.0,464.1 613.0,464.8 607.0,462.6 607.0,465.5 599.0,462.4 599.0,459.6 591.0,458.8 591.0,458.4 587.0,459.2 587.0,460.0 583.0,460.2 583.0,460.0 579.0,458.9 579.0,458.5 577.0,458.9 577.0,458.3 575.0,458.8 575.0,458.7 571.0,458.9 571.0,458.4 565.0,457.6 565.0,461.3 563.0,460.6 563.0,457.3 557.0,458.7 557.0,459.3 555.0,458.7 555.0,457.9 547.0,458.2 547.0,458.1 545.0,458.3 545.0,465.1 539.0,462.7 539.0,456.0 533.0,457.1 533.0,457.4 529.0,457.9 529.0,463.1 521.0,463.8 521.0,458.6 517.0,458.6 517.0,458.8 513.0,458.3 513.0,465.2 511.0,464.9 511.0,458.1 509.0,457.3 509.0,458.1 503.0,457.2 503.0,455.7 497.0,456.6 497.0,457.4 491.0,457.4 491.0,456.6 485.0,455.1 485.0,455.6 477.0,455.9 477.0,457.8 469.0,455.4 469.0,453.5 465.0,451.2 465.0,452.7 463.0,452.2 463.0,450.8 461.0,451.3 461.0,452.3 453.0,451.9 453.0,452.2 447.0,452.6 447.0,453.4 441.0,450.1 441.0,447.7 435.0,446.1 435.0,452.8 429.0,453.5 429.0,450.7 427.0,450.3 427.0,447.7 419.0,447.1 419.0,445.6 413.0,444.3 413.0,445.1 407.0,442.5 407.0,446.2 401.0,444.7 401.0,440.8 399.0,441.4 399.0,441.2 393.0,441.0 393.0,441.5 391.0,441.6 391.0,440.6 389.0,438.6 389.0,439.5 383.0,434.1 383.0,437.4 379.0,434.2 379.0,429.7 375.0,427.8 375.0,428.4 371.0,427.6 371.0,427.5 367.0,426.9 367.0,427.3 365.0,426.2 365.0,429.4 361.0,428.5 361.0,430.7 355.0,428.0 355.0,422.5 353.0,420.9 353.0,420.7 347.0,418.0 347.0,417.3 339.0,416.0 339.0,416.4 335.0,413.9 335.0,414.2 331.0,412.4 331.0,416.7 323.0,415.1 323.0,410.8 317.0,406.0 317.0,406.6 315.0,406.3 315.0,405.4 309.0,401.5 309.0,401.4 307.0,402.4 307.0,402.0 299.0,401.3 299.0,402.5 297.0,402.4 297.0,401.7 295.0,401.1 295.0,401.2 287.0,399.1 287.0,400.0 281.0,396.6 281.0,396.0 279.0,394.6 279.0,394.3 277.0,394.1 277.0,395.5 273.0,393.6 273.0,391.9 267.0,390.2 267.0,392.7 261.0,389.9 261.0,388.9 255.0,386.3 255.0,386.2 247.0,383.8 247.0,385.2 245.0,383.4 245.0,380.7 239.0,375.9 239.0,378.4 237.0,377.0 237.0,382.7 233.0,379.4 233.0,371.8 231.0,371.5 231.0,376.9 225.0,373.5 225.0,370.0 223.0,368.2 223.0,366.9 215.0,360.0 215.0,366.6 209.0,358.7 209.0,351.1 205.0,345.6 205.0,345.4 201.0,339.3 201.0,339.1 193.0,324.7 193.0,332.7 187.0,319.0"/><polyline fill="none" stroke="#FF00FF" stroke-width="11" stroke-linejoin="round" points="162.5,190.0 163.8,192.0 162.6,194.1 163.1,196.1 164.2,198.2 165.8,200.2 164.0,202.2 165.8,204.1 164.8,206.0 165.5,207.9 167.1,209.7 167.5,211.5 167.7,213.5 166.8,215.8 166.3,217.3 167.4,219.0 167.8,220.7 168.7,222.6 169.1,224.5 169.4,226.5 168.6,228.6 169.6,230.8 169.0,232.9 168.7,235.1 170.6,237.3 168.2,239.5 170.0,241.7 171.1,243.8 170.7,245.9 171.4,248.0 171.9,250.0 171.6,251.9 172.1,253.9 173.5,255.8 174.0,257.8 174.3,259.7 174.8,261.7 176.5,263.6 174.7,265.6 176.6,267.5 175.7,269.5 177.5,271.4 178.5,273.3 178.2,275.3 177.9,277.2 178.9,279.1 177.9,281.0 180.2,283.0 181.3,284.9 182.7,286.8 183.3,288.7 183.6,290.6 183.0,292.5 185.7,294.4 185.1,296.3 187.1,298.2 188.3,300.1 188.4,302.0 188.7,303.8 189.9,305.7 190.7,307.6 191.5,309.4 191.2,311.3 193.3,313.2 195.0,315.0 194.5,316.7 196.5,318.5 197.3,320.3 198.0,322.0 199.7,323.8 199.7,325.6 201.0,327.3 201.3,329.1 202.3,330.8 202.9,332.6 205.8,334.3 206.1,336.0 206.9,337.7 209.8,339.4 208.5,341.0 211.2,342.6 211.2,344.2 215.0,345.7 214.6,347.3 216.1,348.7 218.4,349.9 220.6,351.2"/><polyline fill="none" stroke="#FF00FF" stroke-width="11" stroke-linejoin="round" points="1288.4,486.5 1290.1,487.9 1291.0,489.4 1293.7,490.9 1294.6,492.5 1295.9,494.0 1297.1,495.6 1299.4,497.0"/>
<polygon fill="#0000FF" points="191.0,430.8 195.0,439.5 195.0,440.7 201.0,453.9 201.0,453.2 207.0,462.8 207.0,463.0 211.0,467.2 211.0,466.2 213.0,468.5 213.0,462.9 217.0,468.1 217.0,474.7 221.0,480.4 221.0,480.5 227.0,485.4 227.0,486.0 233.0,490.9 233.0,486.8 239.0,489.5 239.0,493.3 247.0,497.1 247.0,490.3 251.0,490.5 251.0,496.0 255.0,498.4 255.0,498.7 257.0,498.1 257.0,493.8 259.0,494.4 259.0,498.6 265.0,501.0 265.0,500.8 267.0,500.7 267.0,500.9 275.0,504.3 275.0,501.2 283.0,503.5 283.0,507.6 285.0,507.5 285.0,504.8 293.0,503.8 293.0,504.6 301.0,506.6 301.0,507.4 307.0,509.6 307.0,508.8 309.0,508.5 309.0,502.6 313.0,505.5 313.0,511.4 317.0,511.7 317.0,511.3 321.0,513.1 321.0,515.8 323.0,517.8 323.0,517.1 327.0,516.9 327.0,515.5 335.0,519.7 335.0,520.8 341.0,522.8 341.0,515.7 345.0,517.9 345.0,524.6 347.0,525.5 347.0,526.1 355.0,528.0 355.0,528.6 361.0,528.0 361.0,527.0 363.0,528.1 363.0,527.3 371.0,529.5 371.0,529.6 379.0,533.2 379.0,526.3 381.0,527.7 381.0,535.3 385.0,537.8 385.0,537.9 391.0,538.1 391.0,538.2 395.0,539.8 395.0,539.9 401.0,544.6 401.0,544.7 409.0,544.9 409.0,544.0 415.0,542.3 415.0,543.0 423.0,544.2 423.0,543.2 425.0,545.1 425.0,546.0 429.0,546.5 429.0,547.5 437.0,552.3 437.0,551.5 443.0,551.2 443.0,550.0 445.0,549.5 445.0,549.6 447.0,550.7 447.0,551.1 451.0,550.7 451.0,551.7 453.0,551.1 453.0,550.4 455.0,551.7 455.0,553.1 461.0,553.5 461.0,552.3 463.0,553.8 463.0,554.3 471.0,555.1 471.0,555.9 479.0,557.8 479.0,551.0 485.0,553.1 485.0,560.0 491.0,559.5 491.0,558.0 497.0,557.5 497.0,553.7 501.0,555.3 501.0,558.7 505.0,559.6 505.0,560.7 511.0,562.0 511.0,562.5 517.0,562.8 517.0,561.1 521.0,561.4 521.0,561.1 527.0,562.3 527.0,562.7 529.0,562.7 529.0,564.0 535.0,562.7 535.0,561.9 541.0,563.1 541.0,563.1 549.0,563.5 549.0,563.7 551.0,562.3 551.0,563.0 559.0,562.5 559.0,561.1 563.0,561.0 563.0,562.3 565.0,562.2 565.0,560.7 569.0,559.8 569.0,561.6 577.0,562.6 577.0,561.9 585.0,565.2 585.0,563.5 587.0,562.3 587.0,563.0 591.0,562.7 591.0,563.8 597.0,564.6 597.0,564.6 603.0,565.9 603.0,566.5 605.0,567.5 605.0,567.3 613.0,567.4 613.0,566.7 617.0,567.0 617.0,567.5 621.0,567.3 621.0,565.7 623.0,565.4 623.0,563.3 625.0,564.3 625.0,565.6 633.0,568.3 633.0,570.5 641.0,569.4 641.0,568.7 647.0,570.2 647.0,570.0 655.0,571.5 655.0,571.8 663.0,573.2 663.0,572.7 665.0,572.5 665.0,569.1 667.0,568.2 667.0,571.9 669.0,572.1 669.0,573.2 675.0,575.1 675.0,575.4 683.0,576.7 683.0,573.3 691.0,572.3 691.0,574.1 693.0,573.0 693.0,569.8 695.0,570.6 695.0,574.6 697.0,573.1 697.0,572.3 703.0,570.7 703.0,571.4 707.0,572.0 707.0,572.6 713.0,572.2 713.0,568.1 715.0,568.3 715.0,572.6 717.0,573.1 717.0,572.6 719.0,572.2 719.0,572.4 725.0,570.8 725.0,571.0 729.0,569.9 729.0,563.0 733.0,563.2 733.0,569.6 735.0,569.4 735.0,568.3 741.0,567.2 741.0,567.7 749.0,567.0 749.0,566.2 755.0,569.6 755.0,569.6 759.0,572.9 759.0,573.5 763.0,577.6 763.0,578.6 765.0,579.2 765.0,578.3 773.0,587.9 773.0,588.1 777.0,589.0 777.0,587.9 781.0,589.4 781.0,590.5 789.0,593.8 789.0,594.8 795.0,598.3 795.0,597.9 803.0,603.6 803.0,603.8 807.0,604.3 807.0,602.9 813.0,604.3 813.0,601.0 817.0,602.3 817.0,605.4 825.0,604.7 825.0,605.4 833.0,604.6 833.0,604.9 841.0,607.2 841.0,607.7 847.0,606.4 847.0,605.4 853.0,598.9 853.0,598.1 855.0,597.8 855.0,596.8 863.0,591.2 863.0,594.0 871.0,593.4 871.0,593.4 877.0,590.4 877.0,589.0 881.0,586.7 881.0,587.2 889.0,584.9 889.0,584.6 895.0,583.4 895.0,583.2 897.0,583.1 897.0,583.6 899.0,583.6 899.0,583.4 903.0,583.5 903.0,581.3 911.0,583.6 911.0,581.0 915.0,581.6 915.0,585.7 921.0,590.7 921.0,592.5 929.0,598.3 929.0,598.4 937.0,606.7 937.0,604.9 939.0,606.1 939.0,605.0 945.0,610.3 945.0,611.3 951.0,616.6 951.0,617.9 959.0,622.8 959.0,622.8 965.0,625.6 965.0,621.8 973.0,626.3 973.0,627.8 979.0,628.9 979.0,631.2 987.0,635.3 987.0,635.1 993.0,640.2 993.0,640.5 999.0,642.8 999.0,642.1 1005.0,643.3 1005.0,640.8 1013.0,641.1 1013.0,643.1 1019.0,643.7 1019.0,644.7 1027.0,645.2 1027.0,644.2 1031.0,645.3 1031.0,646.4 1033.0,646.3 1033.0,646.5 1041.0,646.6 1041.0,646.6 1043.0,645.4 1043.0,640.2 1047.0,639.0 1047.0,644.0 1053.0,643.3 1053.0,643.2 1061.0,644.1 1061.0,644.1 1067.0,642.8 1067.0,642.4 1073.0,642.6 1073.0,643.5 1077.0,644.2 1077.0,641.9 1085.0,642.9 1085.0,645.3 1087.0,645.3 1087.0,644.9 1095.0,646.3 1095.0,645.3 1097.0,645.7 1097.0,646.7 1101.0,647.6 1101.0,647.8 1105.0,647.5 1105.0,646.8 1113.0,645.9 1113.0,646.4 1117.0,647.1 1117.0,645.2 1123.0,643.5 1123.0,644.9 1127.0,642.9 1127.0,640.8 1135.0,639.3 1135.0,641.4 1141.0,641.6 1141.0,641.8 1143.0,640.4 1143.0,639.8 1147.0,639.9 1147.0,641.0 1149.0,640.7 1149.0,639.9 1157.0,638.6 1157.0,639.8 1159.0,640.8 1159.0,639.0 1163.0,639.4 1163.0,640.9 1165.0,642.0 1165.0,642.3 1167.0,642.5 1167.0,642.3 1173.0,642.6 1173.0,642.4 1179.0,639.2 1179.0,638.9 1183.0,638.1 1183.0,634.9 1185.0,634.1 1185.0,635.4 1193.0,634.5 1193.0,636.3 1195.0,635.2 1195.0,635.5 1197.0,634.8 1197.0,635.3 1205.0,633.9 1205.0,632.3 1207.0,631.9 1207.0,632.8 1213.0,632.1 1213.0,632.4 1221.0,628.6 1221.0,629.3 1223.0,628.5 1223.0,628.3 1227.0,625.4 1227.0,624.5 1229.0,624.3 1229.0,623.2 1235.0,620.4 1235.0,621.3 1243.0,615.0 1243.0,615.2 1251.0,607.9 1251.0,608.6 1255.0,607.2 1255.0,606.4 1263.0,600.5 1263.0,599.9 1267.0,595.8 1267.0,596.7 1269.0,596.0 1269.0,594.1 1271.0,592.7 1271.0,590.5 1273.0,589.0 1273.0,593.3 1277.0,592.7 1277.0,593.4 1281.0,592.1 1281.0,590.7 1289.0,593.8 1289.0,593.8 1297.0,600.6 1297.0,601.9 1305.0,606.1 1305.0,601.0 1313.0,605.3 1313.0,608.5 1317.0,612.0 1317.0,610.4 1325.0,619.8 1325.0,623.3 1333.0,631.1 1333.0,629.0 1337.0,633.2 1337.0,631.3 1345.0,638.0 1345.0,640.9 1353.0,646.8 1353.0,646.9 1355.0,647.9 1355.0,648.2 1363.0,653.5 1363.0,653.7 1367.0,656.4 1367.0,655.2 1373.0,657.3 1373.0,658.4 1379.0,659.6 1379.0,660.1 1381.0,659.8 1381.0,656.3 1383.0,656.9 1383.0,660.3 1389.0,661.0 1389.0,658.5 1393.0,659.5 1393.0,661.7 1399.0,663.2 1399.0,662.4 1407.0,664.1 1407.0,664.3 1415.0,668.4 1415.0,668.6 1423.0,668.4 1423.0,668.9 1429.0,666.2 1429.0,666.4 1433.0,667.4 1433.0,667.9 1439.0,669.8 1439.0,668.5 1445.0,669.8 1445.0,668.4 1449.0,669.2 1449.0,670.1 1455.0,670.9 1455.0,669.5 1457.0,669.4 1457.0,672.3 1461.0,671.9 1461.0,672.3 1465.0,671.5 1465.0,671.4 1473.0,671.5 1473.0,669.3 1477.0,669.3 1477.0,671.4 1483.0,670.2 1483.0,669.2 1487.0,669.2 1487.0,670.0 1491.0,670.5 1491.0,671.0 1493.0,672.6 1493.0,669.0 1495.0,669.8 1495.0,673.1 1503.0,674.1 1503.0,674.2 1505.0,674.3 1505.0,673.7 1509.0,671.1 1509.0,669.7 1513.0,670.6 1513.0,672.7 1521.0,675.4 1521.0,675.0 1525.0,675.4 1525.0,674.9 1531.0,676.6 1531.0,673.1 1539.0,675.2 1539.0,679.7 1541.0,680.3 1541.0,679.5 1545.0,677.5 1545.0,677.3 1547.0,675.4 1547.0,674.2 1555.0,673.2 1555.0,670.3 1559.0,670.3 1559.0,674.5 1567.0,675.5 1567.0,673.9 1575.0,675.4 1575.0,676.7 1581.0,675.1 1581.0,675.9 1587.0,675.4 1587.0,675.2 1589.0,673.6 1589.0,673.8 1597.0,673.3 1597.0,673.3 1601.0,671.5 1601.0,671.8 1607.0,672.1 1607.0,671.6 1613.0,672.6 1613.0,672.3 1617.0,673.1 1617.0,673.9 1619.0,674.1 1619.0,670.3 1623.0,670.7 1623.0,674.1 1627.0,675.6 1627.0,673.8 1631.0,672.6 1631.0,673.7 1637.0,673.4 1637.0,670.8 1643.0,671.9 1643.0,673.6 1647.0,674.4 1647.0,676.0 1651.0,677.1 1651.0,676.9 1659.0,677.6 1659.0,678.3 1667.0,679.4 1667.0,679.5 1671.0,680.4 1671.0,679.8 1673.0,679.2 1673.0,679.7 1679.0,679.1 1679.0,678.1 1683.0,677.9 1683.0,678.1 1691.0,680.0 1691.0,676.2 1699.0,677.8 1699.0,681.7 1705.0,680.7 1705.0,680.7 1709.0,680.4 1709.0,680.8 1713.0,682.1 1713.0,682.5 1719.0,681.1 1719.0,678.9 1721.0,678.6 1721.0,700.0 1717.0,701.7 1717.0,702.4 1713.0,702.4 1713.0,705.6 1705.0,704.6 1705.0,702.3 1697.0,703.5 1697.0,701.9 1695.0,701.7 1695.0,701.9 1689.0,699.2 1689.0,699.5 1685.0,697.7 1685.0,700.2 1683.0,701.2 1683.0,697.9 1677.0,698.5 1677.0,699.1 1669.0,698.6 1669.0,698.6 1663.0,698.0 1663.0,697.4 1657.0,697.1 1657.0,697.3 1653.0,696.5 1653.0,696.5 1647.0,695.5 1647.0,697.3 1639.0,696.1 1639.0,694.8 1637.0,693.9 1637.0,694.6 1635.0,695.5 1635.0,699.0 1631.0,698.5 1631.0,693.9 1625.0,694.7 1625.0,694.9 1621.0,694.0 1621.0,694.2 1615.0,693.7 1615.0,694.2 1613.0,693.3 1613.0,692.9 1611.0,692.1 1611.0,692.8 1603.0,693.5 1603.0,695.2 1601.0,694.0 1601.0,693.4 1595.0,696.3 1595.0,696.1 1589.0,695.5 1589.0,693.5 1587.0,695.2 1587.0,695.5 1583.0,694.9 1583.0,694.8 1581.0,695.8 1581.0,695.0 1573.0,696.8 1573.0,697.1 1565.0,696.0 1565.0,696.1 1557.0,694.2 1557.0,696.2 1551.0,698.2 1551.0,696.8 1543.0,698.3 1543.0,698.2 1537.0,698.3 1537.0,699.0 1535.0,699.6 1535.0,698.1 1531.0,696.4 1531.0,697.0 1529.0,695.9 1529.0,696.6 1527.0,695.6 1527.0,695.7 1519.0,694.8 1519.0,694.2 1513.0,692.4 1513.0,692.5 1507.0,692.3 1507.0,694.0 1503.0,695.9 1503.0,693.6 1501.0,694.2 1501.0,694.4 1493.0,692.1 1493.0,691.6 1491.0,690.0 1491.0,691.1 1483.0,690.6 1483.0,690.6 1477.0,691.7 1477.0,691.4 1473.0,691.4 1473.0,693.0 1471.0,692.9 1471.0,693.8 1465.0,693.8 1465.0,692.2 1457.0,693.3 1457.0,691.9 1455.0,692.0 1455.0,691.9 1451.0,691.1 1451.0,693.6 1449.0,693.6 1449.0,690.8 1447.0,691.0 1447.0,691.6 1439.0,689.3 1439.0,689.7 1431.0,687.5 1431.0,691.7 1429.0,690.9 1429.0,686.9 1421.0,689.5 1421.0,688.8 1419.0,689.5 1419.0,689.1 1411.0,686.6 1411.0,686.8 1403.0,683.3 1403.0,684.3 1399.0,684.0 1399.0,686.1 1391.0,684.0 1391.0,680.4 1383.0,679.3 1383.0,681.2 1381.0,680.6 1381.0,678.8 1373.0,677.8 1373.0,678.5 1365.0,675.6 1365.0,675.5 1359.0,670.6 1359.0,670.0 1353.0,666.6 1353.0,670.6 1345.0,664.6 1345.0,665.0 1337.0,658.4 1337.0,654.6 1333.0,650.5 1333.0,650.5 1327.0,644.3 1327.0,645.1 1325.0,643.6 1325.0,643.4 1319.0,637.5 1319.0,636.8 1317.0,633.3 1317.0,632.7 1309.0,627.6 1309.0,627.9 1307.0,625.4 1307.0,629.7 1301.0,630.1 1301.0,625.7 1299.0,624.4 1299.0,624.5 1297.0,621.0 1297.0,624.2 1293.0,621.1 1293.0,622.7 1289.0,619.0 1289.0,614.8 1287.0,613.1 1287.0,612.3 1283.0,610.4 1283.0,613.1 1279.0,613.2 1279.0,612.0 1277.0,613.5 1277.0,612.1 1273.0,612.7 1273.0,613.8 1265.0,620.1 1265.0,620.0 1259.0,624.4 1259.0,624.1 1251.0,628.3 1251.0,627.8 1249.0,628.9 1249.0,629.4 1241.0,637.7 1241.0,638.0 1235.0,642.3 1235.0,641.3 1233.0,642.9 1233.0,645.6 1227.0,647.0 1227.0,645.4 1223.0,648.3 1223.0,647.9 1217.0,650.5 1217.0,649.7 1211.0,651.8 1211.0,652.9 1209.0,653.1 1209.0,653.6 1201.0,654.7 1201.0,658.3 1193.0,661.1 1193.0,655.8 1189.0,657.2 1189.0,660.3 1183.0,660.7 1183.0,657.9 1175.0,660.7 1175.0,660.5 1173.0,661.8 1173.0,664.3 1165.0,663.7 1165.0,661.6 1163.0,660.5 1163.0,661.4 1159.0,661.1 1159.0,663.3 1155.0,661.8 1155.0,658.2 1147.0,660.3 1147.0,660.4 1141.0,661.6 1141.0,664.1 1135.0,663.9 1135.0,661.2 1127.0,662.7 1127.0,665.1 1119.0,668.2 1119.0,665.9 1115.0,667.1 1115.0,672.2 1111.0,670.4 1111.0,666.4 1103.0,667.9 1103.0,666.7 1095.0,665.7 1095.0,666.1 1091.0,665.8 1091.0,666.2 1083.0,664.8 1083.0,666.0 1079.0,665.8 1079.0,667.6 1073.0,666.1 1073.0,662.4 1065.0,662.3 1065.0,663.8 1061.0,665.2 1061.0,664.2 1053.0,663.4 1053.0,663.8 1051.0,664.1 1051.0,664.6 1049.0,664.7 1049.0,664.9 1043.0,666.5 1043.0,665.4 1041.0,666.6 1041.0,666.3 1037.0,665.8 1037.0,666.8 1035.0,667.0 1035.0,665.8 1029.0,665.3 1029.0,666.1 1027.0,666.0 1027.0,665.1 1023.0,664.5 1023.0,669.9 1021.0,670.5 1021.0,665.4 1015.0,664.8 1015.0,667.9 1007.0,667.3 1007.0,666.5 1005.0,666.5 1005.0,664.0 999.0,662.9 999.0,663.4 993.0,661.2 993.0,661.2 989.0,657.5 989.0,658.8 987.0,657.4 987.0,659.1 983.0,657.9 983.0,656.4 975.0,653.1 975.0,650.9 967.0,646.2 967.0,646.5 963.0,645.4 963.0,645.5 957.0,641.9 957.0,644.6 953.0,643.4 953.0,640.4 945.0,633.0 945.0,633.5 941.0,629.7 941.0,629.3 935.0,624.3 935.0,624.8 931.0,620.7 931.0,620.4 925.0,614.5 925.0,616.9 923.0,616.2 923.0,614.0 919.0,610.4 919.0,611.1 915.0,608.8 915.0,607.5 911.0,606.9 911.0,608.3 903.0,606.0 903.0,604.9 897.0,604.7 897.0,606.0 891.0,606.3 891.0,605.7 883.0,608.4 883.0,607.9 875.0,611.3 875.0,612.0 869.0,614.4 869.0,614.4 867.0,615.6 867.0,616.4 859.0,619.2 859.0,621.0 853.0,623.6 853.0,620.4 849.0,626.6 849.0,632.1 847.0,632.4 847.0,628.7 839.0,630.7 839.0,628.6 837.0,627.6 837.0,629.8 835.0,627.8 835.0,625.9 833.0,626.0 833.0,625.7 829.0,625.9 829.0,628.1 825.0,628.8 825.0,626.9 823.0,627.7 823.0,627.7 821.0,628.6 821.0,630.9 819.0,630.8 819.0,628.6 815.0,626.7 815.0,626.2 809.0,625.9 809.0,626.7 805.0,625.3 805.0,625.5 803.0,625.2 803.0,625.0 801.0,624.0 801.0,623.4 793.0,617.5 793.0,619.2 787.0,615.6 787.0,620.3 779.0,618.8 779.0,612.4 771.0,607.0 771.0,608.4 763.0,600.9 763.0,599.5 759.0,595.4 759.0,596.0 757.0,595.4 757.0,600.3 755.0,597.7 755.0,594.0 751.0,592.2 751.0,591.9 745.0,590.1 745.0,588.9 739.0,589.4 739.0,590.1 733.0,591.9 733.0,592.8 731.0,592.3 731.0,592.0 727.0,592.8 727.0,596.7 721.0,598.0 721.0,593.8 719.0,594.8 719.0,595.1 713.0,594.9 713.0,600.3 705.0,599.9 705.0,599.4 699.0,601.5 699.0,596.1 697.0,596.0 697.0,595.3 695.0,596.8 695.0,603.5 687.0,603.5 687.0,597.6 685.0,598.5 685.0,597.3 677.0,595.5 677.0,595.8 671.0,595.2 671.0,595.6 669.0,595.2 669.0,598.4 661.0,597.5 661.0,597.5 659.0,597.8 659.0,598.2 653.0,597.7 653.0,594.4 649.0,593.5 649.0,594.1 643.0,593.8 643.0,593.9 641.0,592.8 641.0,591.6 635.0,592.5 635.0,592.2 633.0,592.4 633.0,592.2 631.0,590.9 631.0,590.7 623.0,588.5 623.0,595.2 617.0,595.8 617.0,590.1 611.0,589.5 611.0,594.4 605.0,594.7 605.0,589.1 601.0,588.1 601.0,589.2 595.0,587.2 595.0,589.0 587.0,589.5 587.0,586.5 579.0,585.9 579.0,587.5 577.0,585.9 577.0,586.3 575.0,585.5 575.0,584.3 567.0,584.7 567.0,584.9 563.0,585.5 563.0,585.3 559.0,585.4 559.0,585.0 553.0,585.3 553.0,585.7 549.0,587.5 549.0,588.2 547.0,587.4 547.0,585.8 539.0,586.0 539.0,586.2 537.0,585.8 537.0,585.4 535.0,584.9 535.0,591.8 527.0,593.1 527.0,587.5 523.0,586.0 523.0,585.9 515.0,585.8 515.0,585.0 507.0,584.4 507.0,586.0 499.0,584.2 499.0,582.5 493.0,581.4 493.0,582.1 491.0,582.3 491.0,586.3 487.0,586.6 487.0,582.6 485.0,582.9 485.0,584.6 483.0,584.3 483.0,583.0 479.0,581.1 479.0,579.7 477.0,578.9 477.0,587.2 469.0,585.9 469.0,579.6 461.0,577.5 461.0,575.7 453.0,574.0 453.0,574.6 451.0,575.2 451.0,575.5 443.0,575.3 443.0,580.8 435.0,580.4 435.0,578.1 427.0,574.4 427.0,570.8 421.0,567.9 421.0,569.9 417.0,569.6 417.0,572.6 411.0,571.4 411.0,567.7 405.0,569.4 405.0,572.7 401.0,573.0 401.0,569.7 395.0,565.0 395.0,564.2 393.0,563.7 393.0,563.3 391.0,562.3 391.0,567.6 383.0,566.3 383.0,562.4 381.0,561.0 381.0,563.2 379.0,561.7 379.0,557.3 375.0,556.5 375.0,561.9 373.0,560.7 373.0,555.7 371.0,554.1 371.0,556.0 363.0,553.8 363.0,551.5 355.0,551.0 355.0,551.3 349.0,549.8 349.0,551.3 347.0,550.8 347.0,553.5 341.0,550.5 341.0,547.0 335.0,545.0 335.0,544.2 327.0,540.0 327.0,540.5 325.0,540.3 325.0,539.7 323.0,540.1 323.0,541.4 319.0,538.0 319.0,537.8 313.0,537.1 313.0,538.0 305.0,534.5 305.0,533.6 301.0,532.3 301.0,531.8 293.0,529.8 293.0,531.3 289.0,532.0 289.0,531.5 285.0,531.8 285.0,530.7 283.0,530.8 283.0,532.2 275.0,529.9 275.0,528.0 273.0,528.0 273.0,528.6 269.0,526.0 269.0,526.0 261.0,523.9 261.0,524.7 255.0,523.7 255.0,525.0 247.0,522.4 247.0,520.5 241.0,517.8 241.0,517.4 237.0,515.4 237.0,516.2 233.0,514.5 233.0,515.1 231.0,513.9 231.0,514.2 227.0,510.4 227.0,509.2 223.0,506.6 223.0,507.4 221.0,505.1 221.0,504.6 219.0,501.3 219.0,507.8 211.0,497.9 211.0,490.8 209.0,489.7 209.0,495.8 201.0,483.0 201.0,477.3 193.0,458.8 193.0,458.0 191.0,454.4"/><polyline fill="none" stroke="#0000FF" stroke-width="11" stroke-linejoin="round" points="164.6,308.0 162.8,310.0 163.2,311.9 162.2,313.9 162.4,315.9 164.3,317.8 165.5,319.8 163.9,321.8 163.5,323.9 164.8,325.9 164.4,327.8 165.1,329.6 164.9,331.5 165.5,333.4 166.8,335.3 165.8,337.2 166.8,339.2 166.6,341.3 167.3,343.5 168.7,345.7 168.3,348.0 168.2,349.6 169.6,351.3 168.1,353.1 169.3,354.9 169.5,356.7 169.7,358.6 171.1,360.6 170.5,362.6 170.7,364.6 173.1,366.6 172.8,368.7 172.7,370.8 173.6,372.9 174.7,375.0 174.7,377.1 174.1,379.2 177.0,381.2 175.8,383.3 177.9,385.4 178.3,387.4 178.9,389.4 177.8,391.3 178.9,393.2 180.6,395.1 180.2,396.9 178.3,398.9 180.1,401.1 181.9,403.2 180.7,405.3 181.2,407.4 179.8,409.4 182.8,411.4 181.5,413.4 182.5,415.4 182.2,417.3 183.6,419.3 184.6,421.2 182.8,423.2 184.7,425.1 185.9,427.1 186.0,429.0 186.1,431.0 186.5,432.9 186.1,434.9 188.0,436.8 187.9,438.7 189.5,440.7 189.2,442.6 188.5,444.5 192.0,446.4 192.7,448.4 193.1,450.3 193.9,452.2 194.8,454.0 195.5,455.9 196.4,457.7 196.4,459.6 197.5,461.3 199.0,463.1 202.9,464.9 201.5,466.6 203.8,468.3 204.8,470.0 206.0,471.8 206.7,473.4 207.0,475.1 208.9,476.8 210.1,478.4 210.7,480.1 211.8,481.7 214.1,483.2 215.5,484.8 215.0,486.3 219.1,487.8 219.1,489.2 219.6,490.6 222.6,492.0"/><polyline fill="none" stroke="#0000FF" stroke-width="11" stroke-linejoin="round" points="759.2,584.6 759.0,585.9 762.2,587.4 763.5,588.8 766.0,590.3 765.5,591.9 767.8,593.4 771.1,594.9 771.6,596.3"/><polyline fill="none" stroke="#0000FF" stroke-width="11" stroke-linejoin="round" points="1326.1,634.0 1329.7,635.3 1332.1,636.7 1332.3,638.2 1333.0,639.6 1333.7,641.1 1337.0,642.5 1338.6,644.0 1338.6,645.4 1341.9,646.8 1342.3,648.2 1343.0,649.5"/>
<polygon fill="#FF0000" points="199.0,543.7 207.0,558.8 207.0,560.3 209.0,565.5 209.0,565.4 217.0,579.8 217.0,578.6 219.0,580.2 219.0,580.5 223.0,584.9 223.0,584.5 225.0,586.3 225.0,587.7 227.0,589.4 227.0,582.4 233.0,589.2 233.0,596.0 239.0,601.8 239.0,600.2 245.0,605.0 245.0,605.4 247.0,607.0 247.0,608.2 253.0,612.9 253.0,604.9 261.0,611.9 261.0,619.3 269.0,623.4 269.0,623.2 273.0,623.0 273.0,623.6 281.0,626.0 281.0,626.6 289.0,630.6 289.0,630.7 293.0,631.7 293.0,629.2 295.0,629.9 295.0,627.0 303.0,628.7 303.0,633.6 311.0,637.5 311.0,637.1 313.0,638.4 313.0,639.2 317.0,639.8 317.0,639.4 321.0,639.9 321.0,640.3 323.0,640.1 323.0,639.8 331.0,640.4 331.0,634.5 333.0,636.4 333.0,642.4 339.0,643.9 339.0,644.0 347.0,641.7 347.0,638.8 349.0,639.3 349.0,639.8 353.0,642.3 353.0,643.7 359.0,647.0 359.0,643.8 363.0,644.7 363.0,648.7 365.0,648.1 365.0,648.3 367.0,647.3 367.0,647.1 371.0,647.8 371.0,643.7 377.0,647.3 377.0,646.5 383.0,651.3 383.0,656.1 389.0,657.7 389.0,658.0 391.0,659.1 391.0,658.7 395.0,659.9 395.0,658.7 399.0,659.8 399.0,659.2 403.0,660.0 403.0,661.5 407.0,662.4 407.0,661.8 411.0,662.6 411.0,663.1 415.0,663.9 415.0,664.2 419.0,665.8 419.0,660.4 427.0,661.4 427.0,666.9 433.0,668.6 433.0,667.0 441.0,670.9 441.0,670.2 443.0,671.6 443.0,673.7 445.0,674.0 445.0,674.3 449.0,673.6 449.0,674.1 457.0,674.4 457.0,672.3 463.0,671.3 463.0,672.0 471.0,675.2 471.0,675.3 479.0,678.2 479.0,678.6 483.0,679.3 483.0,680.0 491.0,681.9 491.0,681.5 499.0,683.1 499.0,683.1 505.0,683.6 505.0,682.9 511.0,684.1 511.0,680.0 515.0,681.5 515.0,686.7 523.0,687.0 523.0,686.8 529.0,684.7 529.0,683.9 535.0,687.0 535.0,685.5 541.0,686.0 541.0,683.4 549.0,681.6 549.0,686.0 555.0,683.0 555.0,682.8 563.0,683.2 563.0,677.3 571.0,676.2 571.0,676.9 579.0,675.4 579.0,681.0 583.0,682.3 583.0,682.7 589.0,683.3 589.0,682.8 595.0,682.6 595.0,682.1 597.0,680.7 597.0,681.3 601.0,681.9 601.0,676.4 603.0,675.3 603.0,679.9 607.0,679.3 607.0,679.0 609.0,678.9 609.0,680.6 613.0,682.4 613.0,681.9 615.0,681.3 615.0,680.7 617.0,682.4 617.0,682.3 625.0,683.6 625.0,684.0 629.0,685.9 629.0,686.1 635.0,684.7 635.0,683.6 643.0,680.8 643.0,681.8 647.0,682.1 647.0,680.6 651.0,680.6 651.0,678.2 655.0,679.6 655.0,684.2 661.0,684.4 661.0,683.6 663.0,684.3 663.0,682.6 665.0,682.3 665.0,684.4 673.0,684.3 673.0,683.1 677.0,683.5 677.0,681.5 679.0,683.0 679.0,685.4 681.0,684.8 681.0,682.4 683.0,682.2 683.0,685.6 691.0,685.7 691.0,685.7 693.0,684.7 693.0,684.1 701.0,683.1 701.0,683.6 707.0,681.6 707.0,678.6 715.0,675.1 715.0,677.9 719.0,675.9 719.0,676.6 725.0,673.8 725.0,671.5 731.0,669.3 731.0,669.4 737.0,665.7 737.0,667.7 745.0,667.0 745.0,665.4 753.0,666.8 753.0,667.8 759.0,672.4 759.0,672.1 763.0,674.7 763.0,671.4 765.0,672.0 765.0,675.5 771.0,683.0 771.0,682.8 779.0,692.4 779.0,692.4 783.0,693.7 783.0,693.9 791.0,697.6 791.0,696.8 799.0,704.3 799.0,704.6 801.0,706.2 801.0,707.4 809.0,709.8 809.0,707.9 813.0,708.9 813.0,710.2 821.0,711.1 821.0,709.7 829.0,711.5 829.0,712.3 835.0,713.2 835.0,709.4 839.0,708.8 839.0,712.9 845.0,710.5 845.0,710.7 849.0,708.7 849.0,708.1 857.0,702.6 857.0,703.8 863.0,700.5 863.0,699.3 869.0,696.3 869.0,696.3 875.0,693.8 875.0,694.8 883.0,690.4 883.0,690.2 885.0,689.4 885.0,686.6 887.0,684.8 887.0,687.0 893.0,682.8 893.0,680.8 899.0,677.5 899.0,680.1 903.0,679.0 903.0,677.3 909.0,677.5 909.0,676.6 913.0,677.7 913.0,680.5 919.0,685.0 919.0,683.6 921.0,685.2 921.0,685.5 925.0,689.1 925.0,689.4 927.0,690.0 927.0,688.2 935.0,697.0 935.0,699.4 943.0,708.9 943.0,708.2 947.0,712.6 947.0,709.6 951.0,714.5 951.0,718.0 957.0,724.4 957.0,723.9 965.0,730.1 965.0,729.1 969.0,733.1 969.0,729.5 971.0,733.0 971.0,736.8 973.0,737.8 973.0,738.2 977.0,742.9 977.0,743.9 985.0,748.1 985.0,743.4 989.0,744.2 989.0,749.2 991.0,750.5 991.0,750.5 999.0,753.2 999.0,752.3 1003.0,754.4 1003.0,754.4 1009.0,754.7 1009.0,754.7 1017.0,756.7 1017.0,756.0 1025.0,757.2 1025.0,758.3 1031.0,757.8 1031.0,757.1 1037.0,757.1 1037.0,757.3 1043.0,756.8 1043.0,756.0 1047.0,757.6 1047.0,758.3 1051.0,758.7 1051.0,759.6 1053.0,760.6 1053.0,757.9 1059.0,756.2 1059.0,757.4 1065.0,756.0 1065.0,756.0 1071.0,753.0 1071.0,754.1 1075.0,753.4 1075.0,751.2 1081.0,750.3 1081.0,751.6 1083.0,752.1 1083.0,753.7 1087.0,752.8 1087.0,751.9 1089.0,751.7 1089.0,751.0 1097.0,748.6 1097.0,748.2 1099.0,749.4 1099.0,751.0 1105.0,750.6 1105.0,751.0 1109.0,752.5 1109.0,751.1 1113.0,750.5 1113.0,747.3 1121.0,747.0 1121.0,751.0 1123.0,750.0 1123.0,749.0 1125.0,749.1 1125.0,750.8 1131.0,748.8 1131.0,748.8 1135.0,748.7 1135.0,744.9 1143.0,745.3 1143.0,749.2 1147.0,747.9 1147.0,746.6 1149.0,745.1 1149.0,746.1 1155.0,745.9 1155.0,745.7 1163.0,744.8 1163.0,745.4 1171.0,744.6 1171.0,744.1 1179.0,743.1 1179.0,742.4 1185.0,742.7 1185.0,741.9 1191.0,741.9 1191.0,743.8 1197.0,743.3 1197.0,742.7 1201.0,743.7 1201.0,739.1 1209.0,737.3 1209.0,741.6 1213.0,739.1 1213.0,738.3 1221.0,737.0 1221.0,737.4 1225.0,736.6 1225.0,736.0 1233.0,731.3 1233.0,731.0 1235.0,728.5 1235.0,730.5 1237.0,728.5 1237.0,725.3 1241.0,722.9 1241.0,723.8 1245.0,721.5 1245.0,722.0 1249.0,718.4 1249.0,720.4 1253.0,716.7 1253.0,715.8 1259.0,710.0 1259.0,708.9 1261.0,706.4 1261.0,706.3 1263.0,704.8 1263.0,707.1 1271.0,694.6 1271.0,692.9 1275.0,689.4 1275.0,691.1 1283.0,685.1 1283.0,681.7 1291.0,685.5 1291.0,688.4 1299.0,696.1 1299.0,696.8 1307.0,705.0 1307.0,703.8 1309.0,706.0 1309.0,706.9 1311.0,710.0 1311.0,709.6 1315.0,716.2 1315.0,713.7 1317.0,714.5 1317.0,716.6 1321.0,722.8 1321.0,722.6 1327.0,727.0 1327.0,725.8 1329.0,727.9 1329.0,729.9 1335.0,735.8 1335.0,734.6 1339.0,738.7 1339.0,740.5 1347.0,746.6 1347.0,745.8 1355.0,748.5 1355.0,748.7 1357.0,752.1 1357.0,751.9 1363.0,755.6 1363.0,752.3 1369.0,756.3 1369.0,760.0 1373.0,759.4 1373.0,756.4 1375.0,756.5 1375.0,756.4 1383.0,757.8 1383.0,758.1 1385.0,760.4 1385.0,763.3 1389.0,765.6 1389.0,765.6 1397.0,769.2 1397.0,769.3 1403.0,767.6 1403.0,767.0 1411.0,766.8 1411.0,763.5 1419.0,763.6 1419.0,766.5 1427.0,767.3 1427.0,767.9 1433.0,769.5 1433.0,769.0 1437.0,771.2 1437.0,772.3 1443.0,773.0 1443.0,773.0 1451.0,771.5 1451.0,768.0 1455.0,767.5 1455.0,770.9 1459.0,771.2 1459.0,769.8 1463.0,770.0 1463.0,770.3 1471.0,770.4 1471.0,770.1 1475.0,769.8 1475.0,768.9 1477.0,769.3 1477.0,770.3 1483.0,770.1 1483.0,768.7 1485.0,769.6 1485.0,769.2 1491.0,771.4 1491.0,773.8 1497.0,774.2 1497.0,774.7 1501.0,775.5 1501.0,775.8 1505.0,776.3 1505.0,775.7 1511.0,777.2 1511.0,777.3 1513.0,777.0 1513.0,775.9 1515.0,776.0 1515.0,775.8 1519.0,776.4 1519.0,776.8 1525.0,775.3 1525.0,776.5 1533.0,774.3 1533.0,772.8 1541.0,774.3 1541.0,774.7 1549.0,775.5 1549.0,776.6 1551.0,777.5 1551.0,777.8 1559.0,779.9 1559.0,780.0 1561.0,780.7 1561.0,777.2 1567.0,774.7 1567.0,777.9 1571.0,777.8 1571.0,776.0 1573.0,775.7 1573.0,777.4 1577.0,777.7 1577.0,775.5 1579.0,775.4 1579.0,777.5 1581.0,777.8 1581.0,776.7 1583.0,776.1 1583.0,777.4 1587.0,776.8 1587.0,774.7 1589.0,771.6 1589.0,768.6 1595.0,767.5 1595.0,772.3 1601.0,774.1 1601.0,772.8 1607.0,776.4 1607.0,774.3 1609.0,775.1 1609.0,778.7 1615.0,777.8 1615.0,777.7 1621.0,776.2 1621.0,772.9 1625.0,774.0 1625.0,776.2 1631.0,774.5 1631.0,772.8 1639.0,773.1 1639.0,773.8 1647.0,776.6 1647.0,774.8 1655.0,776.3 1655.0,779.9 1663.0,780.1 1663.0,775.8 1671.0,776.3 1671.0,778.6 1673.0,779.1 1673.0,781.1 1675.0,782.7 1675.0,779.3 1683.0,780.4 1683.0,782.7 1689.0,780.9 1689.0,778.0 1695.0,779.6 1695.0,781.2 1699.0,781.2 1699.0,783.0 1701.0,784.7 1701.0,781.0 1707.0,780.6 1707.0,784.4 1711.0,784.6 1711.0,785.2 1717.0,784.9 1717.0,784.1 1721.0,783.9 1721.0,808.1 1719.0,808.3 1719.0,805.3 1713.0,805.9 1713.0,804.8 1709.0,803.6 1709.0,804.6 1705.0,805.4 1705.0,804.4 1701.0,804.6 1701.0,808.5 1699.0,806.7 1699.0,803.2 1697.0,802.7 1697.0,802.4 1689.0,801.4 1689.0,801.9 1685.0,803.8 1685.0,803.2 1679.0,802.7 1679.0,805.4 1675.0,804.8 1675.0,801.9 1667.0,798.9 1667.0,800.8 1663.0,801.2 1663.0,800.2 1661.0,799.6 1661.0,799.4 1653.0,799.7 1653.0,802.1 1647.0,800.8 1647.0,798.4 1639.0,795.6 1639.0,795.3 1637.0,795.4 1637.0,799.8 1633.0,800.1 1633.0,796.0 1625.0,796.9 1625.0,798.7 1619.0,797.8 1619.0,798.1 1617.0,799.2 1617.0,801.5 1615.0,801.7 1615.0,801.4 1607.0,801.6 1607.0,798.4 1603.0,797.1 1603.0,796.4 1597.0,792.9 1597.0,795.5 1591.0,796.1 1591.0,794.0 1589.0,794.0 1589.0,793.5 1581.0,797.8 1581.0,797.4 1573.0,797.0 1573.0,796.9 1571.0,797.3 1571.0,799.0 1569.0,798.6 1569.0,796.8 1563.0,798.7 1563.0,798.9 1561.0,799.9 1561.0,802.0 1557.0,801.0 1557.0,799.0 1549.0,796.2 1549.0,797.0 1541.0,796.3 1541.0,796.2 1535.0,795.5 1535.0,794.4 1533.0,793.7 1533.0,793.9 1531.0,794.8 1531.0,794.6 1529.0,794.8 1529.0,796.1 1527.0,796.5 1527.0,797.0 1521.0,799.1 1521.0,796.9 1513.0,796.2 1513.0,796.7 1505.0,795.4 1505.0,795.8 1503.0,795.8 1503.0,796.5 1497.0,795.2 1497.0,795.2 1491.0,794.9 1491.0,793.8 1483.0,790.7 1483.0,791.8 1479.0,792.6 1479.0,791.8 1475.0,790.8 1475.0,790.5 1467.0,791.6 1467.0,792.0 1465.0,792.1 1465.0,791.8 1461.0,791.4 1461.0,792.6 1453.0,791.9 1453.0,790.2 1451.0,790.4 1451.0,790.5 1443.0,792.0 1443.0,795.9 1441.0,795.3 1441.0,792.3 1437.0,792.3 1437.0,791.1 1435.0,790.2 1435.0,790.2 1427.0,787.3 1427.0,791.8 1423.0,790.7 1423.0,788.1 1421.0,789.2 1421.0,789.5 1415.0,789.1 1415.0,788.2 1411.0,787.8 1411.0,787.8 1409.0,787.7 1409.0,788.1 1405.0,788.0 1405.0,787.4 1399.0,787.9 1399.0,789.4 1397.0,790.9 1397.0,788.2 1393.0,786.1 1393.0,787.0 1385.0,783.0 1385.0,783.0 1383.0,780.8 1383.0,780.9 1379.0,779.2 1379.0,779.6 1377.0,780.3 1377.0,782.4 1373.0,782.0 1373.0,779.6 1371.0,779.3 1371.0,779.3 1363.0,776.2 1363.0,776.8 1355.0,769.8 1355.0,770.4 1347.0,767.7 1347.0,766.5 1341.0,762.5 1341.0,762.5 1335.0,756.4 1335.0,755.8 1331.0,752.5 1331.0,751.9 1329.0,749.4 1329.0,750.6 1321.0,744.1 1321.0,743.2 1315.0,736.1 1315.0,736.7 1313.0,733.3 1313.0,732.3 1307.0,723.7 1307.0,725.1 1299.0,716.9 1299.0,715.9 1295.0,711.4 1295.0,712.3 1291.0,709.0 1291.0,712.5 1287.0,709.1 1287.0,705.3 1281.0,704.9 1281.0,705.1 1273.0,712.1 1273.0,711.1 1271.0,713.4 1271.0,714.8 1265.0,724.3 1265.0,723.0 1259.0,729.9 1259.0,730.2 1251.0,738.1 1251.0,738.2 1245.0,743.5 1245.0,744.4 1239.0,748.6 1239.0,747.4 1235.0,749.8 1235.0,751.3 1233.0,753.8 1233.0,754.1 1225.0,758.8 1225.0,757.3 1221.0,758.1 1221.0,758.3 1217.0,758.0 1217.0,758.2 1213.0,759.8 1213.0,760.5 1207.0,764.0 1207.0,764.9 1205.0,765.5 1205.0,763.8 1199.0,763.4 1199.0,763.3 1191.0,763.4 1191.0,765.9 1185.0,765.9 1185.0,764.1 1179.0,763.7 1179.0,763.5 1173.0,763.9 1173.0,764.1 1171.0,764.8 1171.0,763.4 1169.0,763.3 1169.0,764.7 1165.0,766.0 1165.0,765.8 1157.0,765.0 1157.0,763.8 1151.0,764.3 1151.0,764.4 1143.0,768.3 1143.0,770.8 1137.0,770.6 1137.0,767.8 1131.0,767.7 1131.0,767.9 1129.0,767.6 1129.0,768.9 1121.0,772.1 1121.0,772.3 1115.0,774.0 1115.0,773.7 1111.0,772.3 1111.0,771.2 1103.0,770.4 1103.0,774.3 1099.0,774.6 1099.0,770.4 1091.0,770.9 1091.0,775.9 1085.0,776.5 1085.0,771.5 1081.0,772.1 1081.0,772.6 1079.0,772.4 1079.0,773.4 1073.0,775.2 1073.0,774.4 1065.0,777.3 1065.0,778.0 1057.0,780.7 1057.0,781.4 1051.0,780.8 1051.0,779.6 1047.0,779.2 1047.0,780.3 1041.0,778.8 1041.0,777.9 1037.0,778.3 1037.0,777.4 1033.0,777.9 1033.0,778.7 1025.0,778.7 1025.0,779.3 1023.0,777.7 1023.0,777.3 1021.0,777.9 1021.0,778.2 1015.0,777.4 1015.0,776.2 1009.0,775.0 1009.0,774.9 1001.0,773.7 1001.0,776.1 999.0,775.0 999.0,772.5 997.0,771.8 997.0,773.2 993.0,772.2 993.0,772.8 989.0,770.4 989.0,769.0 985.0,768.3 985.0,768.9 977.0,764.7 977.0,763.9 971.0,758.2 971.0,758.9 965.0,751.5 965.0,754.4 959.0,750.9 959.0,747.2 953.0,740.3 953.0,742.7 945.0,732.8 945.0,731.1 943.0,729.4 943.0,729.4 939.0,723.6 939.0,725.2 933.0,718.9 933.0,716.8 927.0,710.8 927.0,711.5 919.0,705.7 919.0,705.8 913.0,701.3 913.0,701.5 907.0,700.2 907.0,699.5 905.0,700.1 905.0,703.3 897.0,705.3 897.0,701.7 889.0,706.2 889.0,707.9 883.0,712.3 883.0,712.2 879.0,714.5 879.0,713.2 873.0,716.0 873.0,717.0 865.0,720.2 865.0,723.6 861.0,726.8 861.0,722.2 853.0,727.3 853.0,728.9 851.0,730.4 851.0,729.9 845.0,732.7 845.0,731.5 839.0,733.9 839.0,735.0 831.0,734.9 831.0,733.7 829.0,733.6 829.0,733.7 827.0,733.0 827.0,733.4 821.0,732.3 821.0,732.0 815.0,731.9 815.0,733.1 813.0,732.5 813.0,732.4 807.0,732.1 807.0,730.8 803.0,729.0 803.0,729.6 801.0,728.4 801.0,728.4 799.0,726.8 799.0,726.7 791.0,719.2 791.0,719.9 789.0,718.5 789.0,719.6 783.0,717.5 783.0,721.2 779.0,719.9 779.0,714.0 775.0,710.2 775.0,710.6 771.0,704.9 771.0,704.5 767.0,699.7 767.0,705.5 765.0,702.9 765.0,701.1 757.0,696.6 757.0,692.1 751.0,689.3 751.0,690.2 747.0,688.2 747.0,688.8 741.0,690.0 741.0,695.3 735.0,696.0 735.0,690.0 733.0,691.2 733.0,692.3 729.0,694.3 729.0,693.1 727.0,693.8 727.0,694.4 721.0,698.0 721.0,697.7 715.0,700.3 715.0,700.3 713.0,701.3 713.0,704.5 705.0,707.8 705.0,703.7 697.0,705.8 697.0,706.7 691.0,707.8 691.0,708.9 687.0,708.0 687.0,707.6 685.0,707.7 685.0,709.9 683.0,710.6 683.0,707.5 677.0,706.9 677.0,707.7 675.0,707.6 675.0,708.2 669.0,707.5 669.0,709.4 661.0,709.6 661.0,711.8 657.0,711.5 657.0,705.7 649.0,704.5 649.0,704.9 647.0,704.9 647.0,707.8 645.0,707.4 645.0,711.1 637.0,713.4 637.0,711.5 631.0,713.0 631.0,707.9 625.0,706.6 625.0,706.4 621.0,706.0 621.0,706.0 615.0,703.5 615.0,703.9 607.0,702.8 607.0,704.0 605.0,703.0 605.0,701.2 603.0,702.8 603.0,702.6 599.0,703.0 599.0,704.5 591.0,707.5 591.0,706.6 587.0,704.6 587.0,706.2 583.0,706.4 583.0,706.1 577.0,704.4 577.0,709.6 569.0,712.6 569.0,711.5 563.0,711.5 563.0,706.9 559.0,707.7 559.0,706.9 555.0,705.8 555.0,705.4 549.0,708.5 549.0,714.0 545.0,715.1 545.0,710.7 539.0,710.9 539.0,709.9 531.0,707.5 531.0,712.2 527.0,713.1 527.0,708.3 523.0,708.9 523.0,715.5 519.0,714.3 519.0,707.6 511.0,707.1 511.0,708.2 509.0,707.7 509.0,709.5 503.0,709.3 503.0,706.5 499.0,705.8 499.0,706.4 493.0,705.2 493.0,705.3 485.0,703.1 485.0,704.3 481.0,704.3 481.0,703.4 475.0,702.4 475.0,701.4 471.0,698.6 471.0,698.7 463.0,695.6 463.0,695.7 457.0,696.8 457.0,697.0 453.0,697.8 453.0,699.7 449.0,698.7 449.0,697.6 443.0,698.1 443.0,698.9 441.0,697.5 441.0,696.3 437.0,694.7 437.0,694.4 431.0,690.7 431.0,690.1 423.0,689.4 423.0,690.5 417.0,690.2 417.0,691.7 413.0,689.9 413.0,687.5 411.0,686.8 411.0,686.7 403.0,685.1 403.0,689.2 399.0,688.4 399.0,685.6 391.0,683.2 391.0,681.6 383.0,678.9 383.0,679.0 379.0,675.7 379.0,675.9 377.0,674.4 377.0,679.9 369.0,676.3 369.0,678.5 367.0,678.0 367.0,672.5 359.0,673.2 359.0,670.9 353.0,667.7 353.0,669.2 347.0,666.1 347.0,665.0 345.0,666.1 345.0,667.3 337.0,667.9 337.0,668.1 335.0,666.7 335.0,665.5 333.0,666.0 333.0,665.5 325.0,662.2 325.0,664.9 323.0,665.6 323.0,664.5 321.0,664.8 321.0,664.5 317.0,663.9 317.0,664.9 309.0,662.3 309.0,661.5 305.0,659.5 305.0,658.4 299.0,655.6 299.0,655.1 291.0,653.7 291.0,654.6 289.0,654.1 289.0,653.7 285.0,651.6 285.0,651.3 279.0,649.1 279.0,649.8 277.0,649.1 277.0,648.6 275.0,647.8 275.0,648.1 267.0,646.3 267.0,645.9 265.0,645.1 265.0,646.6 257.0,640.8 257.0,640.3 249.0,633.2 249.0,632.1 245.0,629.6 245.0,629.8 243.0,629.4 243.0,629.6 237.0,622.9 237.0,627.7 235.0,626.6 235.0,623.8 233.0,621.5 233.0,619.1 231.0,616.0 231.0,622.6 229.0,621.5 229.0,615.2 225.0,610.9 225.0,613.0 219.0,606.8 219.0,605.5 217.0,603.9 217.0,605.1 215.0,600.2 215.0,599.3 209.0,589.8 209.0,589.1 207.0,583.9 207.0,585.7 201.0,575.7 201.0,575.0 199.0,570.0"/><polyline fill="none" stroke="#FF0000" stroke-width="11" stroke-linejoin="round" points="162.9,362.0 163.3,364.0 164.3,366.0 163.5,368.0 163.2,370.0 164.7,372.0 165.9,374.0 165.3,376.0 165.2,378.0 165.8,380.0 165.8,382.0 165.6,383.9 166.2,385.7 166.1,387.6 167.1,389.5 166.8,391.5 168.2,393.5 167.5,395.6 167.6,397.8 168.6,399.5 168.1,401.3 167.3,403.2 169.7,405.1 169.1,407.1 168.3,409.1 169.1,411.2 169.5,413.2 168.8,415.3 168.6,417.4 167.5,419.6 170.1,421.7 170.3,423.8 170.0,425.9 169.3,427.9 170.0,430.0 170.7,432.0 170.8,434.0 171.2,436.0 170.9,438.0 170.7,440.0 170.9,442.0 173.8,444.0 171.5,446.0 172.8,448.0 171.5,450.0 174.4,452.0 175.0,454.0 174.1,456.0 173.1,458.0 173.5,460.0 173.5,462.0 174.2,464.0 174.5,466.0 175.3,468.1 175.0,470.1 175.1,472.2 175.1,474.2 175.7,476.2 175.2,478.3 175.7,480.3 176.2,482.3 175.9,484.4 175.7,486.4 176.2,488.4 177.8,490.4 178.9,492.5 178.4,494.5 178.4,496.5 179.9,498.5 179.1,500.4 180.6,502.4 181.5,504.3 181.0,506.3 182.2,508.2 183.2,510.2 183.2,512.1 182.4,514.1 184.8,516.0 185.2,517.9 185.0,519.9 187.3,521.8 187.4,523.8 187.5,525.7 188.9,527.7 190.8,529.6 189.9,531.5 191.1,533.4 191.5,535.3 191.2,537.2 192.0,539.1 193.8,541.0 192.3,542.9 193.6,544.8 194.5,546.7 195.3,548.6 195.6,550.5 196.8,552.4 196.1,554.3 197.4,556.2 197.9,558.1 201.0,559.9 200.1,561.8 201.5,563.6 203.1,565.4 203.8,567.2 205.2,568.9 205.0,570.7 205.5,572.5 207.9,574.3 208.0,576.0 208.8,577.8 210.7,579.6 212.4,581.3 212.2,583.0 213.7,584.8 215.0,586.5 216.2,588.2 217.9,589.9 219.8,591.6 220.2,593.3 221.0,595.0 221.3,596.5 222.7,598.0 222.7,599.5 224.0,601.0 228.8,602.6 230.2,604.1 230.2,605.6 231.5,607.1 233.9,608.6 233.0,610.2 236.6,611.7 238.4,613.1 239.9,614.6 241.4,616.0 241.8,617.5 243.4,618.8"/><polyline fill="none" stroke="#FF0000" stroke-width="11" stroke-linejoin="round" points="761.5,683.4 761.5,684.7 762.7,686.2 766.0,687.7 766.1,689.2 767.8,690.7 769.0,692.3 772.1,693.8 771.4,695.3 775.6,696.7"/><polyline fill="none" stroke="#FF0000" stroke-width="11" stroke-linejoin="round" points="923.4,698.2 924.9,699.5 925.9,700.6 925.8,701.8 928.9,703.1 929.2,704.5 930.3,706.0 930.9,707.5 932.6,709.0 934.6,710.7 935.4,712.3 936.4,714.0 938.9,715.7 939.8,717.4 942.1,719.1 942.7,720.8 943.8,722.6 944.9,724.2 947.9,725.9 948.9,727.5 948.7,729.1 950.4,730.6 951.4,732.0 953.9,733.5 957.6,735.0 958.2,736.6 959.2,738.1 959.8,739.7 961.9,741.2 962.6,742.7 964.0,744.3 965.5,745.7 968.5,747.2 968.6,748.6 970.8,750.0 971.6,751.3"/><polyline fill="none" stroke="#FF0000" stroke-width="11" stroke-linejoin="round" points="1251.7,728.5 1252.4,727.2 1254.9,725.9 1255.5,724.4 1257.4,722.8 1259.1,721.1 1260.9,719.3 1263.0,717.4 1263.7,715.5 1265.7,713.6 1266.4,711.6 1267.9,709.7 1269.2,707.8 1269.8,706.0 1272.1,704.2 1273.8,702.5 1275.6,700.9 1277.1,699.5 1277.6,698.3 1279.2,697.2"/><polyline fill="none" stroke="#FF0000" stroke-width="11" stroke-linejoin="round" points="1290.9,697.0 1292.2,698.2 1293.1,699.6 1295.9,701.2 1298.2,702.9 1299.5,704.7 1297.3,706.5 1300.8,708.4 1301.4,710.1 1302.5,711.8 1305.8,713.4 1305.2,714.8 1307.5,716.3 1307.2,717.9 1310.5,719.4 1312.5,721.0 1312.2,722.6 1313.4,724.2 1316.8,725.8 1316.1,727.4 1318.5,729.0 1318.7,730.6 1320.9,732.1 1322.1,733.6 1324.1,735.1 1325.8,736.5 1327.0,737.9 1327.5,739.3 1331.0,740.7"/>
</g>
<line x1="757.0" y1="305.2" x2="758.5" y2="797.0" stroke="#000" stroke-width="7" stroke-dasharray="31.5 27"/>
<line x1="886.5" y1="247.8" x2="893.0" y2="799.0" stroke="#000" stroke-width="7" stroke-dasharray="31.5 27"/>
<line x1="906.3" y1="314.7" x2="912.0" y2="799.0" stroke="#000" stroke-width="7" stroke-dasharray="31.5 27"/>
<line x1="1275.5" y1="336.9" x2="1275.0" y2="779.0" stroke="#000" stroke-width="7" stroke-dasharray="31.5 27"/>
<line x1="1299.5" y1="268.5" x2="1301.4" y2="769.0" stroke="#000" stroke-width="7" stroke-dasharray="31.5 27"/>
<g fill="#000">
<polygon points="224.6,74.7 194.8,126.7 254.4,126.7"/>
<polygon points="518.2,75.9 577.0,75.9 547.6,127.5"/>
<polygon points="780.1,87.8 785.9,102.3 802.2,103.0 789.4,112.6 793.8,127.5 780.1,119.0 766.5,127.5 770.9,112.6 758.1,103.0 774.4,102.3"/>
<polygon points="767.5,168.8 744.0,210.5 791.0,210.5"/>
<polygon points="744.0,222.0 788.0,222.0 766.0,262.1"/>
<polygon points="762.5,264.0 768.7,279.9 786.7,280.7 772.6,291.3 777.4,307.7 762.5,298.3 747.5,307.7 752.3,291.3 738.2,280.7 756.2,279.9"/>
<polygon points="890.3,197.0 896.6,213.0 914.6,213.8 900.5,224.4 905.3,240.9 890.3,231.5 875.3,240.9 880.1,224.4 866.0,213.8 884.0,213.0"/>
<polygon points="918.5,244.8 895.2,286.9 941.8,286.9"/>
<polygon points="1267.4,262.8 1273.8,279.0 1292.0,279.7 1277.7,290.5 1282.6,307.1 1267.4,297.6 1252.2,307.1 1257.1,290.5 1242.8,279.7 1261.0,279.0"/>
<polygon points="1305.4,228.9 1281.9,270.9 1329.0,270.9"/>
</g>
<path d="M254.0 1212v23 M437.8 1212v23 M621.6 1212v23 M805.4 1212v23 M989.2 1212v23 M1173.1 1212v23 M1356.9 1212v23 M1540.7 1212v23 M1724.5 1212v23 M345.9 1212v11.4 M529.7 1212v11.4 M713.5 1212v11.4 M897.3 1212v11.4 M1081.2 1212v11.4 M1265.0 1212v11.4 M1448.8 1212v11.4 M1632.6 1212v11.4 M162 1212v11.4" stroke="#000" stroke-width="5.5"/>
<line x1="158" y1="2633.4" x2="1643" y2="2633.4" stroke="#000080" stroke-width="9"/>
<line x1="847.9" y1="2631.8" x2="847.9" y2="2584.5" stroke="#000080" stroke-width="9" stroke-linecap="round"/><line x1="977.0" y1="2631.8" x2="977.0" y2="2613.2" stroke="#000080" stroke-width="9" stroke-linecap="round"/><line x1="1407.5" y1="2631.8" x2="1407.5" y2="2623.5" stroke="#000080" stroke-width="9" stroke-linecap="round"/><line x1="1460.5" y1="2631.8" x2="1460.5" y2="2630.1" stroke="#000080" stroke-width="9" stroke-linecap="round"/>
<rect x="155.5" y="1450.5" width="1490.5" height="1202.75" fill="none" stroke="#000" stroke-width="5.2"/>
<clipPath id="cb"><rect x="155.5" y="1450.5" width="1490.5" height="1202.7"/></clipPath><g clip-path="url(#cb)">
<polygon fill="#000" points="203.0,2310.6 209.0,2325.8 209.0,2332.4 211.0,2336.6 211.0,2336.7 215.0,2341.7 215.0,2338.7 221.0,2348.0 221.0,2350.1 223.0,2351.5 223.0,2350.7 227.0,2356.6 227.0,2356.8 229.0,2358.9 229.0,2358.7 231.0,2360.0 231.0,2360.9 237.0,2366.8 237.0,2364.9 239.0,2368.0 239.0,2369.3 247.0,2386.6 247.0,2387.1 253.0,2389.8 253.0,2389.7 257.0,2392.5 257.0,2392.8 263.0,2397.8 263.0,2396.9 269.0,2399.5 269.0,2400.0 275.0,2400.4 275.0,2399.0 281.0,2400.4 281.0,2401.6 289.0,2408.1 289.0,2408.9 291.0,2410.2 291.0,2410.2 299.0,2412.6 299.0,2407.8 307.0,2410.5 307.0,2415.7 309.0,2417.0 309.0,2416.8 313.0,2417.6 313.0,2417.8 321.0,2422.7 321.0,2421.0 323.0,2423.4 323.0,2424.3 331.0,2426.4 331.0,2424.4 339.0,2426.3 339.0,2429.0 347.0,2435.1 347.0,2434.8 349.0,2435.3 349.0,2435.1 351.0,2436.3 351.0,2435.7 355.0,2436.7 355.0,2437.2 359.0,2439.2 359.0,2439.2 361.0,2440.8 361.0,2440.3 365.0,2443.9 365.0,2442.9 373.0,2449.4 373.0,2451.5 379.0,2450.2 379.0,2449.1 387.0,2447.1 387.0,2443.4 393.0,2446.7 393.0,2450.4 401.0,2456.0 401.0,2456.6 407.0,2454.9 407.0,2454.8 413.0,2455.4 413.0,2455.7 415.0,2456.4 415.0,2455.5 421.0,2460.3 421.0,2459.4 425.0,2459.0 425.0,2459.6 427.0,2460.2 427.0,2460.2 429.0,2459.4 429.0,2460.4 435.0,2460.7 435.0,2459.0 443.0,2460.9 443.0,2461.2 445.0,2462.5 445.0,2463.5 449.0,2464.0 449.0,2464.3 453.0,2466.7 453.0,2465.0 461.0,2466.2 461.0,2467.7 465.0,2470.6 465.0,2469.6 469.0,2471.2 469.0,2472.4 475.0,2474.1 475.0,2471.9 483.0,2471.8 483.0,2471.4 491.0,2475.4 491.0,2477.7 495.0,2480.8 495.0,2480.0 499.0,2481.5 499.0,2482.8 501.0,2482.2 501.0,2481.4 509.0,2479.5 509.0,2480.6 515.0,2482.6 515.0,2481.0 523.0,2481.5 523.0,2482.5 527.0,2483.7 527.0,2484.0 531.0,2483.0 531.0,2481.6 539.0,2479.1 539.0,2475.7 545.0,2475.2 545.0,2478.3 547.0,2478.0 547.0,2478.1 549.0,2477.8 549.0,2476.8 557.0,2477.6 557.0,2479.4 561.0,2479.4 561.0,2480.0 569.0,2479.5 569.0,2477.8 571.0,2477.0 571.0,2475.3 579.0,2474.7 579.0,2473.8 583.0,2474.3 583.0,2478.0 587.0,2477.2 587.0,2476.8 595.0,2470.7 595.0,2470.1 603.0,2471.0 603.0,2466.3 609.0,2465.8 609.0,2471.1 615.0,2467.6 615.0,2468.0 621.0,2466.8 621.0,2466.7 625.0,2465.7 625.0,2466.9 629.0,2464.5 629.0,2464.1 631.0,2462.1 631.0,2462.0 637.0,2456.4 637.0,2450.9 643.0,2447.8 643.0,2453.7 647.0,2455.5 647.0,2455.6 655.0,2456.8 655.0,2456.4 663.0,2451.2 663.0,2450.1 671.0,2446.0 671.0,2447.2 673.0,2446.0 673.0,2445.3 681.0,2440.5 681.0,2440.9 685.0,2436.5 685.0,2435.4 693.0,2429.6 693.0,2430.9 697.0,2428.5 697.0,2429.0 701.0,2427.0 701.0,2424.0 709.0,2417.0 709.0,2420.0 717.0,2418.6 717.0,2417.6 725.0,2422.7 725.0,2421.9 729.0,2426.4 729.0,2426.7 733.0,2432.9 733.0,2433.7 735.0,2436.3 735.0,2435.3 739.0,2440.5 739.0,2441.1 747.0,2455.4 747.0,2456.1 751.0,2461.0 751.0,2461.1 757.0,2470.9 757.0,2470.8 763.0,2478.2 763.0,2478.3 769.0,2486.6 769.0,2486.0 777.0,2492.8 777.0,2493.3 783.0,2498.5 783.0,2498.6 791.0,2504.2 791.0,2503.6 795.0,2503.8 795.0,2503.8 799.0,2503.6 799.0,2502.8 803.0,2502.6 803.0,2503.6 807.0,2502.7 807.0,2501.2 815.0,2499.6 815.0,2500.3 823.0,2488.3 823.0,2488.2 825.0,2483.2 825.0,2483.1 833.0,2463.7 833.0,2458.9 839.0,2451.6 839.0,2455.1 843.0,2449.3 843.0,2451.7 849.0,2444.6 849.0,2444.6 855.0,2440.7 855.0,2439.7 863.0,2440.3 863.0,2440.9 865.0,2440.3 865.0,2436.2 871.0,2443.1 871.0,2441.4 873.0,2443.5 873.0,2449.7 875.0,2451.9 875.0,2451.7 879.0,2458.9 879.0,2458.6 883.0,2465.1 883.0,2464.6 887.0,2472.7 887.0,2473.3 891.0,2479.2 891.0,2479.0 897.0,2489.8 897.0,2489.3 903.0,2502.2 903.0,2500.8 911.0,2521.2 911.0,2522.7 919.0,2533.0 919.0,2532.4 921.0,2532.4 921.0,2532.8 929.0,2537.3 929.0,2536.7 935.0,2541.8 935.0,2540.9 941.0,2544.7 941.0,2545.7 945.0,2548.0 945.0,2548.9 947.0,2549.7 947.0,2549.7 955.0,2551.9 955.0,2548.1 963.0,2548.3 963.0,2550.6 965.0,2551.5 965.0,2550.7 971.0,2551.0 971.0,2551.4 975.0,2554.5 975.0,2557.0 977.0,2556.5 977.0,2556.7 981.0,2556.1 981.0,2554.5 987.0,2552.9 987.0,2553.5 991.0,2554.1 991.0,2554.6 995.0,2555.7 995.0,2552.9 1001.0,2552.8 1001.0,2555.8 1009.0,2554.5 1009.0,2554.0 1013.0,2553.5 1013.0,2553.9 1017.0,2556.3 1017.0,2553.5 1025.0,2553.9 1025.0,2552.9 1027.0,2552.9 1027.0,2557.0 1029.0,2556.9 1029.0,2556.1 1031.0,2555.7 1031.0,2556.1 1033.0,2554.9 1033.0,2555.2 1035.0,2554.2 1035.0,2548.8 1043.0,2547.3 1043.0,2552.9 1047.0,2552.9 1047.0,2547.7 1051.0,2547.7 1051.0,2552.8 1059.0,2551.2 1059.0,2551.2 1061.0,2550.5 1061.0,2548.9 1067.0,2549.3 1067.0,2551.0 1071.0,2549.5 1071.0,2549.1 1073.0,2549.1 1073.0,2548.1 1075.0,2547.3 1075.0,2545.7 1083.0,2544.5 1083.0,2547.3 1085.0,2547.5 1085.0,2547.0 1087.0,2546.7 1087.0,2546.3 1089.0,2545.6 1089.0,2546.1 1097.0,2543.1 1097.0,2539.7 1101.0,2539.4 1101.0,2540.6 1105.0,2541.1 1105.0,2543.1 1113.0,2543.4 1113.0,2542.0 1121.0,2539.3 1121.0,2536.2 1127.0,2535.5 1127.0,2540.0 1131.0,2539.3 1131.0,2540.1 1137.0,2536.7 1137.0,2536.8 1139.0,2535.8 1139.0,2535.8 1141.0,2534.9 1141.0,2532.3 1145.0,2531.2 1145.0,2533.0 1153.0,2535.3 1153.0,2535.0 1155.0,2535.8 1155.0,2536.1 1163.0,2537.3 1163.0,2535.7 1165.0,2535.7 1165.0,2536.5 1173.0,2530.6 1173.0,2530.6 1179.0,2524.7 1179.0,2525.7 1187.0,2520.5 1187.0,2520.5 1191.0,2517.4 1191.0,2516.9 1195.0,2510.4 1195.0,2511.1 1199.0,2503.9 1199.0,2504.2 1207.0,2488.2 1207.0,2487.1 1211.0,2478.5 1211.0,2474.9 1217.0,2460.9 1217.0,2464.0 1225.0,2445.7 1225.0,2447.3 1229.0,2444.7 1229.0,2439.5 1235.0,2445.7 1235.0,2446.6 1243.0,2462.2 1243.0,2462.5 1249.0,2475.4 1249.0,2478.7 1257.0,2492.2 1257.0,2492.8 1259.0,2496.6 1259.0,2495.4 1261.0,2497.1 1261.0,2494.4 1263.0,2497.2 1263.0,2497.8 1265.0,2501.9 1265.0,2503.9 1269.0,2513.0 1269.0,2514.5 1271.0,2518.0 1271.0,2516.5 1279.0,2539.5 1279.0,2540.2 1281.0,2544.9 1281.0,2545.7 1283.0,2549.2 1283.0,2546.5 1291.0,2553.6 1291.0,2553.8 1293.0,2554.8 1293.0,2554.8 1297.0,2558.5 1297.0,2560.2 1301.0,2562.3 1301.0,2563.2 1307.0,2567.4 1307.0,2566.8 1315.0,2568.7 1315.0,2568.1 1317.0,2568.9 1317.0,2569.8 1325.0,2571.6 1325.0,2569.6 1327.0,2571.7 1327.0,2573.6 1329.0,2574.6 1329.0,2574.5 1335.0,2576.4 1335.0,2575.1 1339.0,2574.7 1339.0,2573.1 1347.0,2573.5 1347.0,2576.6 1351.0,2576.2 1351.0,2575.5 1355.0,2577.3 1355.0,2577.0 1357.0,2575.9 1357.0,2575.2 1365.0,2576.1 1365.0,2575.3 1369.0,2574.1 1369.0,2575.5 1375.0,2577.9 1375.0,2577.8 1379.0,2577.5 1379.0,2576.5 1383.0,2577.7 1383.0,2579.1 1385.0,2579.5 1385.0,2579.4 1389.0,2580.0 1389.0,2580.1 1397.0,2581.6 1397.0,2580.1 1401.0,2580.2 1401.0,2580.1 1403.0,2579.7 1403.0,2581.2 1405.0,2579.5 1405.0,2577.2 1413.0,2577.8 1413.0,2579.7 1415.0,2579.4 1415.0,2579.5 1421.0,2580.2 1421.0,2579.5 1429.0,2583.4 1429.0,2584.0 1431.0,2584.9 1431.0,2584.8 1437.0,2585.1 1437.0,2582.3 1445.0,2582.4 1445.0,2586.2 1451.0,2586.9 1451.0,2583.5 1457.0,2585.7 1457.0,2589.0 1463.0,2591.5 1463.0,2588.8 1467.0,2587.7 1467.0,2587.1 1471.0,2586.4 1471.0,2588.5 1479.0,2585.9 1479.0,2583.5 1487.0,2587.0 1487.0,2589.7 1495.0,2591.0 1495.0,2591.5 1503.0,2590.4 1503.0,2587.9 1505.0,2587.9 1505.0,2588.3 1513.0,2586.3 1513.0,2587.2 1521.0,2588.3 1521.0,2589.1 1527.0,2589.4 1527.0,2589.8 1531.0,2588.2 1531.0,2588.0 1539.0,2586.8 1539.0,2584.8 1541.0,2584.5 1541.0,2585.2 1545.0,2585.5 1545.0,2585.8 1553.0,2586.6 1553.0,2587.1 1557.0,2588.5 1557.0,2585.2 1563.0,2587.1 1563.0,2590.1 1571.0,2590.7 1571.0,2590.9 1579.0,2592.2 1579.0,2592.3 1583.0,2592.9 1583.0,2593.4 1585.0,2593.4 1585.0,2591.3 1589.0,2590.4 1589.0,2592.8 1593.0,2594.3 1593.0,2593.8 1597.0,2594.4 1597.0,2591.1 1599.0,2591.8 1599.0,2593.0 1601.0,2593.4 1601.0,2594.5 1603.0,2595.2 1603.0,2594.8 1609.0,2595.4 1609.0,2595.7 1613.0,2595.1 1613.0,2593.0 1615.0,2592.4 1615.0,2595.6 1617.0,2595.3 1617.0,2595.0 1621.0,2592.3 1621.0,2590.4 1623.0,2591.2 1623.0,2593.5 1631.0,2594.8 1631.0,2593.8 1637.0,2594.6 1637.0,2592.5 1639.0,2592.5 1639.0,2595.3 1643.0,2594.1 1643.0,2615.8 1641.0,2616.2 1641.0,2619.9 1637.0,2620.7 1637.0,2617.0 1629.0,2616.2 1629.0,2616.4 1621.0,2614.3 1621.0,2613.4 1617.0,2616.1 1617.0,2615.8 1609.0,2617.3 1609.0,2617.6 1603.0,2617.1 1603.0,2617.8 1595.0,2616.2 1595.0,2617.0 1591.0,2616.0 1591.0,2614.6 1585.0,2614.5 1585.0,2619.4 1583.0,2619.5 1583.0,2616.9 1575.0,2616.7 1575.0,2616.2 1573.0,2615.6 1573.0,2613.6 1565.0,2612.2 1565.0,2612.1 1559.0,2609.6 1559.0,2610.5 1555.0,2609.2 1555.0,2608.1 1551.0,2607.9 1551.0,2608.8 1549.0,2608.2 1549.0,2608.6 1543.0,2607.9 1543.0,2609.7 1541.0,2610.2 1541.0,2608.3 1533.0,2608.4 1533.0,2607.8 1529.0,2610.9 1529.0,2614.2 1527.0,2614.1 1527.0,2610.3 1523.0,2609.5 1523.0,2613.4 1517.0,2613.3 1517.0,2613.4 1511.0,2613.8 1511.0,2611.0 1505.0,2612.2 1505.0,2612.4 1503.0,2612.4 1503.0,2613.8 1495.0,2614.9 1495.0,2614.6 1487.0,2613.3 1487.0,2614.4 1479.0,2610.9 1479.0,2608.4 1477.0,2608.2 1477.0,2608.0 1469.0,2611.0 1469.0,2613.1 1461.0,2614.2 1461.0,2611.5 1459.0,2610.0 1459.0,2610.9 1457.0,2610.3 1457.0,2610.5 1455.0,2610.4 1455.0,2611.2 1447.0,2608.3 1447.0,2606.4 1443.0,2606.4 1443.0,2606.9 1439.0,2607.0 1439.0,2610.2 1431.0,2609.9 1431.0,2607.1 1427.0,2604.5 1427.0,2604.7 1419.0,2604.1 1419.0,2602.7 1415.0,2600.7 1415.0,2604.2 1413.0,2604.5 1413.0,2602.1 1407.0,2601.1 1407.0,2600.2 1399.0,2602.1 1399.0,2603.9 1393.0,2605.4 1393.0,2604.2 1389.0,2601.8 1389.0,2602.2 1383.0,2601.3 1383.0,2600.1 1375.0,2599.2 1375.0,2600.2 1369.0,2597.8 1369.0,2598.2 1363.0,2598.6 1363.0,2598.1 1357.0,2598.0 1357.0,2597.2 1351.0,2596.6 1351.0,2597.9 1345.0,2598.0 1345.0,2597.4 1339.0,2597.3 1339.0,2597.3 1331.0,2596.5 1331.0,2597.1 1325.0,2593.4 1325.0,2592.3 1317.0,2590.4 1317.0,2590.3 1309.0,2588.3 1309.0,2589.3 1301.0,2584.5 1301.0,2584.9 1299.0,2583.8 1299.0,2586.4 1293.0,2581.8 1293.0,2578.9 1287.0,2575.1 1287.0,2575.5 1285.0,2573.6 1285.0,2575.1 1277.0,2559.1 1277.0,2556.9 1275.0,2551.7 1275.0,2550.5 1269.0,2534.6 1269.0,2537.2 1263.0,2524.1 1263.0,2522.5 1261.0,2519.7 1261.0,2519.0 1255.0,2508.5 1255.0,2510.0 1247.0,2497.3 1247.0,2498.1 1245.0,2493.3 1245.0,2491.6 1237.0,2476.0 1237.0,2477.6 1235.0,2473.6 1235.0,2472.6 1227.0,2467.8 1227.0,2466.9 1225.0,2468.0 1225.0,2471.1 1217.0,2489.3 1217.0,2486.5 1211.0,2500.6 1211.0,2500.3 1205.0,2512.0 1205.0,2511.9 1197.0,2528.9 1197.0,2532.6 1195.0,2535.8 1195.0,2534.1 1189.0,2541.6 1189.0,2539.7 1185.0,2544.4 1185.0,2544.0 1177.0,2549.3 1177.0,2550.3 1175.0,2552.7 1175.0,2553.8 1171.0,2555.2 1171.0,2553.2 1165.0,2558.6 1165.0,2561.5 1157.0,2561.7 1157.0,2559.9 1155.0,2558.5 1155.0,2559.6 1147.0,2556.2 1147.0,2554.9 1139.0,2557.2 1139.0,2558.4 1131.0,2562.7 1131.0,2562.8 1123.0,2563.5 1123.0,2561.0 1121.0,2561.7 1121.0,2561.9 1115.0,2563.3 1115.0,2564.4 1107.0,2565.7 1107.0,2565.9 1099.0,2564.3 1099.0,2566.0 1091.0,2569.3 1091.0,2570.6 1083.0,2572.3 1083.0,2570.0 1077.0,2569.9 1077.0,2571.0 1069.0,2574.7 1069.0,2572.1 1063.0,2572.5 1063.0,2571.9 1055.0,2571.0 1055.0,2573.0 1049.0,2575.7 1049.0,2574.4 1045.0,2573.4 1045.0,2573.1 1039.0,2576.3 1039.0,2577.4 1033.0,2577.6 1033.0,2578.1 1031.0,2579.3 1031.0,2579.0 1023.0,2580.4 1023.0,2578.8 1015.0,2577.5 1015.0,2577.8 1011.0,2575.3 1011.0,2575.3 1003.0,2578.5 1003.0,2579.5 999.0,2579.5 999.0,2583.0 993.0,2581.7 993.0,2577.1 987.0,2576.0 987.0,2578.3 979.0,2579.9 979.0,2577.7 975.0,2578.8 975.0,2579.8 969.0,2576.8 969.0,2576.8 963.0,2575.5 963.0,2579.9 961.0,2579.3 961.0,2573.8 953.0,2574.0 953.0,2575.0 945.0,2572.4 945.0,2573.8 941.0,2571.5 941.0,2570.5 937.0,2567.3 937.0,2569.2 933.0,2566.5 933.0,2564.2 929.0,2561.3 929.0,2563.5 927.0,2562.2 927.0,2560.6 925.0,2559.7 925.0,2559.9 923.0,2560.1 923.0,2559.3 921.0,2556.9 921.0,2557.3 919.0,2557.3 919.0,2557.2 913.0,2551.1 913.0,2554.5 905.0,2536.2 905.0,2534.0 903.0,2528.0 903.0,2528.7 897.0,2515.8 897.0,2518.4 889.0,2505.4 889.0,2503.9 883.0,2492.4 883.0,2490.1 881.0,2485.9 881.0,2484.4 875.0,2475.0 875.0,2475.0 871.0,2470.7 871.0,2470.2 865.0,2463.4 865.0,2464.6 863.0,2465.2 863.0,2464.2 861.0,2463.3 861.0,2463.7 859.0,2463.3 859.0,2463.3 851.0,2466.6 851.0,2471.9 843.0,2480.6 843.0,2478.8 839.0,2484.7 839.0,2487.3 837.0,2490.0 837.0,2484.4 829.0,2498.0 829.0,2497.2 827.0,2502.5 827.0,2503.5 819.0,2522.2 819.0,2523.5 815.0,2527.3 815.0,2529.2 807.0,2530.9 807.0,2526.7 799.0,2527.8 799.0,2529.3 791.0,2529.4 791.0,2528.5 783.0,2523.0 783.0,2522.3 781.0,2520.6 781.0,2523.3 773.0,2516.4 773.0,2516.9 769.0,2513.8 769.0,2511.2 765.0,2506.5 765.0,2505.9 759.0,2495.8 759.0,2497.2 753.0,2490.6 753.0,2490.7 745.0,2479.3 745.0,2480.1 743.0,2475.8 743.0,2473.6 735.0,2461.2 735.0,2461.4 727.0,2450.6 727.0,2452.8 723.0,2449.9 723.0,2450.0 717.0,2445.5 717.0,2443.1 713.0,2443.4 713.0,2443.7 711.0,2445.0 711.0,2445.7 707.0,2447.3 707.0,2446.6 699.0,2453.6 699.0,2453.1 695.0,2454.1 695.0,2454.7 689.0,2461.0 689.0,2461.3 687.0,2461.9 687.0,2461.2 685.0,2462.0 685.0,2463.5 683.0,2465.7 683.0,2464.7 681.0,2467.0 681.0,2466.6 677.0,2468.5 677.0,2470.0 675.0,2471.0 675.0,2470.6 673.0,2472.7 673.0,2472.5 665.0,2476.0 665.0,2476.5 657.0,2482.4 657.0,2483.4 653.0,2484.9 653.0,2488.9 647.0,2487.5 647.0,2485.0 639.0,2485.0 639.0,2486.9 637.0,2488.3 637.0,2482.8 635.0,2484.5 635.0,2484.9 633.0,2487.2 633.0,2487.9 627.0,2492.2 627.0,2491.9 625.0,2493.7 625.0,2493.8 617.0,2497.0 617.0,2497.4 615.0,2496.6 615.0,2494.5 613.0,2495.5 613.0,2498.1 611.0,2500.0 611.0,2498.1 607.0,2498.9 607.0,2499.3 601.0,2499.6 601.0,2498.9 595.0,2498.2 595.0,2498.4 591.0,2501.8 591.0,2506.6 589.0,2508.2 589.0,2504.4 587.0,2505.6 587.0,2506.7 579.0,2507.1 579.0,2506.0 577.0,2505.5 577.0,2505.6 573.0,2506.5 573.0,2506.6 571.0,2506.8 571.0,2506.7 569.0,2507.5 569.0,2507.6 567.0,2508.8 567.0,2508.7 559.0,2507.8 559.0,2511.6 551.0,2511.2 551.0,2506.6 545.0,2507.5 545.0,2508.1 539.0,2508.7 539.0,2507.4 533.0,2509.6 533.0,2510.8 525.0,2513.3 525.0,2512.5 517.0,2510.8 517.0,2510.2 511.0,2507.0 511.0,2508.1 505.0,2508.5 505.0,2508.4 499.0,2510.9 499.0,2510.1 493.0,2507.2 493.0,2508.0 489.0,2505.5 489.0,2504.7 487.0,2504.2 487.0,2506.9 485.0,2505.6 485.0,2503.2 481.0,2502.8 481.0,2503.7 475.0,2503.1 475.0,2501.8 469.0,2500.2 469.0,2501.2 463.0,2498.5 463.0,2498.6 457.0,2497.1 457.0,2495.8 451.0,2493.1 451.0,2494.0 445.0,2492.5 445.0,2493.2 437.0,2490.3 437.0,2489.6 435.0,2489.6 435.0,2489.0 427.0,2489.6 427.0,2489.4 421.0,2489.3 421.0,2492.9 415.0,2488.2 415.0,2485.1 407.0,2483.9 407.0,2483.9 401.0,2485.7 401.0,2485.9 395.0,2482.7 395.0,2483.1 393.0,2480.8 393.0,2480.3 391.0,2478.4 391.0,2477.9 389.0,2477.5 389.0,2478.9 383.0,2479.7 383.0,2481.3 379.0,2481.3 379.0,2485.2 371.0,2485.1 371.0,2478.9 369.0,2476.1 369.0,2482.2 365.0,2480.0 365.0,2473.6 359.0,2468.3 359.0,2470.4 351.0,2467.5 351.0,2466.4 349.0,2465.2 349.0,2464.9 343.0,2461.9 343.0,2461.2 341.0,2459.8 341.0,2460.0 339.0,2457.7 339.0,2457.1 337.0,2455.7 337.0,2455.7 335.0,2456.3 335.0,2462.8 329.0,2461.0 329.0,2456.7 325.0,2456.4 325.0,2454.5 323.0,2453.2 323.0,2453.6 315.0,2447.4 315.0,2446.6 313.0,2445.6 313.0,2447.9 311.0,2447.6 311.0,2446.0 307.0,2444.2 307.0,2443.7 303.0,2443.9 303.0,2444.9 299.0,2441.9 299.0,2440.8 291.0,2438.4 291.0,2438.4 289.0,2437.1 289.0,2440.7 285.0,2438.1 285.0,2437.5 277.0,2432.2 277.0,2431.5 271.0,2430.7 271.0,2429.0 263.0,2426.9 263.0,2432.5 257.0,2427.5 257.0,2422.8 255.0,2421.5 255.0,2420.9 251.0,2419.3 251.0,2418.9 243.0,2407.6 243.0,2407.4 241.0,2402.3 241.0,2410.2 235.0,2400.9 235.0,2397.1 229.0,2392.7 229.0,2389.4 223.0,2381.5 223.0,2381.5 217.0,2374.5 217.0,2375.2 213.0,2369.1 213.0,2367.3 205.0,2351.4 205.0,2351.4 203.0,2345.4"/><polyline fill="none" stroke="#000" stroke-width="11" stroke-linejoin="round" points="151.8,1604.0 151.5,1606.0 151.0,1608.0 151.9,1610.0 151.5,1611.9 152.0,1613.9 150.4,1615.9 149.8,1617.8 151.0,1619.8 152.6,1621.7 150.9,1623.7 149.6,1625.6 152.2,1627.5 151.4,1629.5 150.2,1631.4 151.3,1633.3 150.8,1635.3 151.5,1637.2 151.2,1639.1 152.0,1641.1 152.5,1643.0 151.0,1644.9 151.7,1646.9 152.6,1648.8 152.0,1650.8 152.1,1652.7 152.2,1654.7 151.0,1656.6 152.3,1658.6 151.7,1660.6 152.1,1662.6 151.5,1664.5 152.9,1666.5 152.0,1668.5 152.6,1670.6 152.7,1672.6 152.1,1674.6 152.4,1676.7 153.2,1678.7 152.9,1680.8 152.9,1682.9 152.6,1685.0 152.1,1687.1 151.3,1689.2 152.4,1691.3 152.8,1693.5 152.0,1695.6 154.2,1697.8 152.6,1700.0 152.0,1701.8 152.6,1703.6 152.8,1705.5 153.9,1707.3 151.6,1709.2 152.0,1711.0 152.8,1712.9 153.3,1714.8 153.0,1716.7 154.3,1718.7 151.7,1720.6 151.7,1722.5 153.2,1724.5 152.4,1726.5 152.5,1728.5 151.8,1730.4 152.8,1732.4 152.7,1734.5 151.3,1736.5 151.5,1738.5 152.9,1740.5 152.6,1742.6 153.2,1744.6 152.3,1746.6 151.9,1748.7 153.3,1750.8 153.4,1752.8 152.1,1754.9 154.3,1757.0 152.7,1759.1 153.9,1761.1 152.3,1763.2 153.5,1765.3 152.8,1767.4 151.2,1769.5 152.6,1771.6 150.8,1773.7 150.9,1775.8 150.5,1777.9 151.9,1779.9 150.3,1782.0 151.1,1784.1 152.5,1786.2 153.2,1788.3 152.0,1790.4 152.5,1792.5 152.9,1794.5 153.0,1796.6 153.4,1798.7 153.9,1800.7 152.4,1802.8 153.7,1804.8 153.7,1806.9 151.3,1808.9 152.7,1811.0 153.4,1813.0 153.0,1815.0 153.1,1817.0 153.7,1819.0 153.2,1821.0 152.5,1823.0 152.8,1825.0 153.4,1826.9 151.5,1828.9 153.1,1830.8 152.3,1832.8 152.8,1834.7 153.6,1836.6 153.4,1838.5 152.7,1840.4 154.1,1842.2 153.4,1844.1 152.5,1846.1 153.7,1848.2 152.8,1850.4 152.4,1852.5 153.6,1854.6 153.7,1856.8 152.7,1858.9 154.0,1861.0 154.0,1863.1 153.4,1865.1 153.7,1867.2 153.2,1869.3 152.7,1871.3 154.5,1873.4 153.3,1875.4 153.9,1877.5 154.4,1879.5 151.6,1881.6 152.3,1883.6 153.2,1885.6 153.5,1887.6 153.3,1889.6 154.1,1891.6 153.1,1893.6 153.3,1895.6 153.8,1897.6 152.6,1899.6 154.9,1901.5 153.3,1903.5 154.6,1905.5 154.9,1907.4 154.0,1909.4 153.5,1911.4 152.9,1913.3 154.4,1915.3 154.0,1917.2 154.2,1919.1 154.1,1921.1 153.9,1923.0 155.3,1925.0 154.8,1926.9 155.7,1928.8 155.2,1930.8 155.3,1932.7 156.1,1934.6 154.5,1936.5 154.4,1938.5 153.7,1940.4 155.3,1942.3 154.3,1944.2 155.0,1946.2 155.1,1948.1 154.4,1950.0 154.3,1952.1 154.7,1954.2 153.8,1956.2 154.9,1958.3 158.2,1960.4 155.3,1962.4 156.5,1964.5 155.8,1966.6 155.5,1968.6 155.2,1970.7 156.4,1972.7 156.0,1974.8 155.0,1976.8 155.5,1978.9 155.6,1980.9 155.1,1982.9 154.9,1985.0 156.7,1987.0 157.0,1989.0 157.5,1991.0 156.1,1993.1 157.3,1995.1 156.1,1997.1 155.8,1999.1 156.0,2001.1 156.6,2003.1 157.0,2005.1 156.8,2007.1 157.8,2009.0 155.9,2011.0 158.2,2013.0 157.4,2015.0 157.3,2016.9 156.2,2018.9 158.1,2020.8 156.5,2022.8 156.9,2024.7 158.0,2026.6 157.6,2028.6 155.6,2030.5 157.3,2032.4 158.3,2034.3 157.7,2036.2 155.3,2038.1 156.7,2040.0 157.8,2042.1 157.1,2044.3 158.1,2046.4 157.2,2048.6 158.9,2050.7 157.7,2052.9 158.6,2055.1 156.6,2057.2 158.9,2059.4 159.5,2061.5 158.7,2063.7 157.9,2065.8 158.9,2068.0 158.4,2070.1 157.7,2072.2 158.3,2074.4 159.1,2076.5 159.5,2078.5 157.7,2080.6 158.9,2082.7 159.3,2084.7 158.7,2086.7 158.9,2088.7 159.8,2090.7 159.4,2092.7 159.6,2094.6 160.3,2096.5 160.4,2098.4 160.2,2100.3 159.7,2102.1 161.4,2103.9 160.9,2105.7 160.0,2107.4 159.5,2109.1 160.2,2110.8 161.4,2112.8 161.1,2115.1 161.1,2117.3 161.5,2119.5 160.4,2121.5 161.7,2123.6 162.5,2125.6 162.2,2127.5 161.4,2129.4 161.5,2131.3 161.2,2133.2 163.6,2135.1 161.5,2137.0 162.0,2138.9 161.6,2140.8 162.7,2142.7 162.7,2144.7 163.7,2146.7 163.5,2148.7 164.0,2150.7 165.5,2152.7 162.1,2154.7 163.7,2156.7 163.3,2158.7 164.1,2160.8 164.0,2162.8 164.6,2164.8 165.2,2166.8 165.8,2168.8 167.2,2170.8 165.4,2172.8 167.5,2174.8 165.6,2176.8 166.9,2178.8 166.4,2180.8 167.9,2182.8 167.9,2184.8 167.5,2186.9 169.6,2188.9 168.1,2190.9 167.2,2192.9 168.1,2194.9 169.3,2196.9 169.9,2198.9 169.5,2201.0 169.1,2203.0 168.5,2205.0 170.2,2207.0 169.4,2209.0 171.1,2211.0 171.3,2213.0 171.0,2215.0 170.9,2217.0 172.8,2219.0 171.5,2221.0 173.8,2223.0 173.6,2225.0 172.7,2227.0 172.8,2229.0 173.3,2231.0 174.1,2233.0 174.9,2235.0 174.6,2237.0 174.9,2239.0 176.3,2241.0 177.7,2243.0 177.0,2245.0 176.5,2246.9 176.8,2248.8 178.4,2250.8 177.9,2252.7 179.4,2254.6 180.2,2256.5 180.1,2258.4 179.8,2260.4 179.7,2262.3 180.6,2264.2 181.3,2266.1 183.9,2268.1 182.5,2270.0 183.8,2272.0 184.3,2274.0 185.4,2276.0 185.7,2277.9 187.0,2279.8 186.7,2281.7 187.5,2283.7 188.1,2285.6 188.1,2287.6 188.3,2289.6 189.1,2291.6 188.8,2293.6 190.2,2295.6 190.8,2297.6 191.8,2299.5 191.3,2301.5 192.3,2303.5 193.7,2305.5 192.5,2307.4 194.5,2309.4 195.3,2311.3 196.2,2313.2 196.2,2315.1 197.5,2317.0 197.1,2318.9 198.7,2320.8 199.4,2322.7 200.9,2324.6 199.3,2326.4 200.8,2328.3 202.6,2330.1 202.4,2332.0 203.6,2333.8 203.5,2335.6 205.5,2337.4 205.6,2339.2 205.4,2341.0 208.6,2342.8 209.2,2344.6 209.5,2346.3 211.3,2348.1 210.9,2349.8 212.3,2351.5 214.0,2353.1 215.0,2354.8 215.6,2356.4 217.6,2358.1 218.4,2359.7 220.7,2361.4 222.4,2363.0 223.6,2364.6 224.8,2366.2 225.2,2367.8 227.7,2369.4 228.5,2371.0 229.1,2372.6 231.9,2374.1 232.7,2375.7 234.5,2377.2 235.0,2378.7 235.5,2380.2 238.9,2381.7 237.9,2383.4 239.3,2385.3 239.2,2387.2 242.2,2389.2 241.9,2391.1 241.6,2392.9 243.8,2394.8 243.7,2396.6 245.8,2398.3 244.7,2400.0 246.6,2401.6 249.2,2403.2 249.3,2404.5 252.4,2405.6"/><polyline fill="none" stroke="#000" stroke-width="11" stroke-linejoin="round" points="720.9,2431.0 722.7,2431.8 724.0,2432.9 722.7,2434.2 726.2,2435.6 724.5,2437.2 727.2,2438.9 730.1,2440.7 731.2,2442.6 731.5,2444.6 733.3,2446.5 734.5,2448.5 735.9,2450.5 737.4,2452.5 738.3,2454.3 740.3,2456.1 740.7,2457.8 741.0,2459.5 741.8,2461.2 744.1,2463.0 744.5,2464.7 745.5,2466.5 746.4,2468.3 746.5,2470.1 748.5,2471.9 750.1,2473.7 749.8,2475.5 751.5,2477.3 752.2,2479.0 755.5,2480.7 754.5,2482.4 757.8,2484.1 757.6,2485.7 759.8,2487.2 759.2,2488.9 762.8,2490.6 763.4,2492.2 764.9,2493.9 765.8,2495.6 766.9,2497.2 768.8,2498.8 769.8,2500.3 769.8,2501.8 772.9,2503.3 774.2,2504.6 774.5,2505.9"/><polyline fill="none" stroke="#000" stroke-width="11" stroke-linejoin="round" points="819.2,2508.9 818.9,2507.4 819.6,2506.1 821.7,2504.8 821.2,2503.3 822.7,2501.7 823.5,2499.9 824.9,2498.1 824.0,2496.2 826.8,2494.3 827.9,2492.2 827.3,2490.2 827.5,2488.2 828.2,2486.1 829.1,2484.1 830.6,2482.1 832.5,2480.2 831.7,2478.4 833.2,2476.6 835.6,2475.0 834.7,2473.2 838.7,2471.3 838.9,2469.5 840.1,2467.6 840.1,2465.8 842.4,2464.0 844.0,2462.3 846.2,2460.7 847.1,2459.2 847.6,2457.8 849.4,2456.5 850.8,2455.5"/><polyline fill="none" stroke="#000" stroke-width="11" stroke-linejoin="round" points="867.4,2454.8 869.3,2456.0 869.7,2457.4 872.5,2458.9 872.6,2460.5 873.6,2462.3 875.7,2464.1 877.7,2466.1 879.5,2468.0 879.9,2469.4 882.2,2470.8 881.1,2472.4 882.9,2474.0 882.9,2475.7 883.6,2477.4 885.4,2479.2 885.5,2481.0 886.2,2482.9 887.1,2484.8 888.4,2486.7 891.0,2488.6 890.7,2490.6 890.5,2492.5 892.3,2494.5 892.6,2496.4 893.9,2498.4 895.8,2500.3 895.3,2502.2 897.3,2504.0 897.9,2505.8 899.7,2507.6 901.3,2509.5 901.7,2511.4 901.5,2513.3 901.8,2515.2 904.3,2517.2 905.9,2519.1 904.0,2521.1 905.8,2523.0 906.9,2524.9 907.4,2526.8 908.2,2528.7 910.4,2530.5 911.3,2532.3 911.4,2534.0 913.4,2535.7 914.2,2537.4 915.8,2538.9 917.3,2540.4 917.1,2541.8 919.0,2543.3 920.0,2544.9 922.0,2546.4 924.2,2547.8"/><polyline fill="none" stroke="#000" stroke-width="11" stroke-linejoin="round" points="1185.0,2534.8 1185.9,2533.5 1188.1,2532.1 1188.9,2530.7 1189.1,2529.4 1191.6,2528.0 1193.6,2526.5 1192.6,2524.9 1194.8,2523.2 1195.7,2521.5 1198.2,2519.7 1198.1,2517.9 1197.8,2516.0 1199.9,2514.1 1200.2,2512.1 1200.9,2510.2 1202.5,2508.2 1202.6,2506.2 1203.3,2504.2 1204.4,2502.3 1206.3,2500.3 1206.4,2498.4 1206.9,2496.5 1208.3,2494.7 1208.8,2492.8 1211.0,2490.8 1212.2,2488.6 1211.1,2486.4 1212.6,2484.1 1214.2,2481.7 1214.5,2479.3 1214.2,2476.9 1217.5,2474.6 1217.4,2472.2 1218.2,2470.0 1220.2,2467.8 1219.5,2465.8 1221.1,2463.8 1222.7,2462.1 1222.3,2460.5 1223.6,2459.1 1225.5,2458.0 1224.9,2457.0 1227.1,2456.4"/><polyline fill="none" stroke="#000" stroke-width="11" stroke-linejoin="round" points="1230.0,2456.6 1231.5,2457.4 1231.5,2458.4 1234.6,2459.8 1233.5,2461.3 1235.1,2463.0 1235.7,2464.9 1238.6,2466.9 1238.7,2469.1 1240.5,2471.3 1240.7,2473.6 1240.9,2475.9 1243.4,2478.2 1243.7,2480.4 1244.6,2482.7 1245.2,2484.8 1246.6,2486.8 1250.1,2488.7 1247.5,2490.4 1250.3,2492.1 1250.6,2493.8 1251.2,2495.5 1252.6,2497.3 1252.9,2499.0 1256.1,2500.8 1257.1,2502.6 1257.0,2504.3 1259.6,2506.1 1259.1,2507.9 1260.1,2509.7 1260.7,2511.5 1260.1,2513.3 1263.1,2515.0 1264.6,2516.8 1266.0,2518.6 1265.9,2520.4 1266.4,2522.1 1268.9,2523.9 1269.6,2525.7 1269.5,2527.4 1270.2,2529.3 1270.6,2531.2 1272.4,2533.2 1273.5,2535.1 1275.1,2537.1 1275.1,2539.1 1276.4,2541.1 1275.6,2543.1 1276.0,2545.1 1276.3,2547.0 1279.1,2548.9 1280.0,2550.8 1279.7,2552.7 1281.5,2554.5 1282.4,2556.2 1282.0,2557.9 1283.4,2559.5 1286.0,2561.0 1285.4,2562.4 1287.6,2563.9 1288.6,2565.4 1290.3,2566.8"/>
<polygon fill="#008000" points="179.0,1671.4 187.0,1686.8 187.0,1687.6 193.0,1699.6 193.0,1699.0 201.0,1717.9 201.0,1711.2 205.0,1719.7 205.0,1726.0 213.0,1735.4 213.0,1736.6 219.0,1740.6 219.0,1740.6 227.0,1748.6 227.0,1746.4 233.0,1753.2 233.0,1753.7 237.0,1759.0 237.0,1761.1 239.0,1763.0 239.0,1762.8 245.0,1767.8 245.0,1761.8 251.0,1767.3 251.0,1772.4 259.0,1775.2 259.0,1776.3 263.0,1779.3 263.0,1772.5 271.0,1780.7 271.0,1782.5 275.0,1787.2 275.0,1791.9 281.0,1795.1 281.0,1792.5 285.0,1793.3 285.0,1794.5 287.0,1795.4 287.0,1795.5 293.0,1799.5 293.0,1799.7 299.0,1804.1 299.0,1805.2 303.0,1807.5 303.0,1806.1 305.0,1807.3 305.0,1808.6 307.0,1810.5 307.0,1804.3 311.0,1807.3 311.0,1807.7 315.0,1811.0 315.0,1817.0 319.0,1819.5 319.0,1817.8 325.0,1821.0 325.0,1822.2 327.0,1822.2 327.0,1822.7 329.0,1823.8 329.0,1824.0 331.0,1823.1 331.0,1821.8 333.0,1824.3 333.0,1825.0 335.0,1826.4 335.0,1826.4 339.0,1827.0 339.0,1827.0 343.0,1828.3 343.0,1828.2 347.0,1833.2 347.0,1833.0 351.0,1833.9 351.0,1827.8 353.0,1829.6 353.0,1835.9 361.0,1839.9 361.0,1836.6 365.0,1840.4 365.0,1841.4 369.0,1841.9 369.0,1844.6 373.0,1847.2 373.0,1847.2 375.0,1847.9 375.0,1848.3 383.0,1852.3 383.0,1852.1 387.0,1853.8 387.0,1853.9 393.0,1859.6 393.0,1859.8 401.0,1863.2 401.0,1861.6 409.0,1861.3 409.0,1857.5 411.0,1858.8 411.0,1862.9 419.0,1864.1 419.0,1865.5 427.0,1867.6 427.0,1866.1 433.0,1866.6 433.0,1868.1 441.0,1874.3 441.0,1874.1 449.0,1877.6 449.0,1877.0 451.0,1877.2 451.0,1873.5 459.0,1873.9 459.0,1872.2 465.0,1874.2 465.0,1878.3 471.0,1882.8 471.0,1884.8 477.0,1888.6 477.0,1887.5 479.0,1888.7 479.0,1889.3 483.0,1892.3 483.0,1891.0 491.0,1893.0 491.0,1894.6 499.0,1893.7 499.0,1892.4 501.0,1892.5 501.0,1889.1 507.0,1888.5 507.0,1892.6 511.0,1893.9 511.0,1895.1 517.0,1897.7 517.0,1897.6 523.0,1897.0 523.0,1897.1 525.0,1896.9 525.0,1896.5 527.0,1896.3 527.0,1895.3 535.0,1895.1 535.0,1889.7 539.0,1889.1 539.0,1896.0 547.0,1894.5 547.0,1891.2 551.0,1892.5 551.0,1894.9 555.0,1894.7 555.0,1892.4 563.0,1893.1 563.0,1895.4 567.0,1895.2 567.0,1894.8 571.0,1894.8 571.0,1894.7 579.0,1896.8 579.0,1897.9 585.0,1898.2 585.0,1898.4 589.0,1896.8 589.0,1894.7 595.0,1892.6 595.0,1892.9 601.0,1893.4 601.0,1893.4 607.0,1892.6 607.0,1893.3 609.0,1893.6 609.0,1894.1 617.0,1888.9 617.0,1888.1 623.0,1884.4 623.0,1884.4 625.0,1883.4 625.0,1882.7 633.0,1886.2 633.0,1887.2 635.0,1887.6 635.0,1887.9 641.0,1887.1 641.0,1881.4 649.0,1878.2 649.0,1881.8 655.0,1880.4 655.0,1883.2 659.0,1883.0 659.0,1883.0 663.0,1883.4 663.0,1881.4 671.0,1883.7 671.0,1880.0 675.0,1877.7 675.0,1881.4 677.0,1882.6 677.0,1883.6 683.0,1881.5 683.0,1882.0 685.0,1881.8 685.0,1881.4 693.0,1877.8 693.0,1877.8 699.0,1875.2 699.0,1874.3 703.0,1874.3 703.0,1875.9 707.0,1873.7 707.0,1870.3 709.0,1868.9 709.0,1872.2 715.0,1868.6 715.0,1867.9 719.0,1868.6 719.0,1869.2 727.0,1874.6 727.0,1871.9 731.0,1874.2 731.0,1873.6 733.0,1875.3 733.0,1876.2 741.0,1881.6 741.0,1882.2 745.0,1885.7 745.0,1886.5 747.0,1887.9 747.0,1888.1 751.0,1893.3 751.0,1892.8 759.0,1898.6 759.0,1899.8 763.0,1901.5 763.0,1900.3 767.0,1903.0 767.0,1902.7 769.0,1904.2 769.0,1903.6 775.0,1908.6 775.0,1909.2 779.0,1910.8 779.0,1911.7 787.0,1908.5 787.0,1907.2 789.0,1907.8 789.0,1909.9 797.0,1912.1 797.0,1907.1 799.0,1906.9 799.0,1908.3 801.0,1907.0 801.0,1905.8 809.0,1903.7 809.0,1907.7 815.0,1905.8 815.0,1905.1 819.0,1901.2 819.0,1902.4 827.0,1885.6 827.0,1881.8 829.0,1875.8 829.0,1877.5 837.0,1862.8 837.0,1864.3 843.0,1854.5 843.0,1854.3 851.0,1849.7 851.0,1850.5 853.0,1849.5 853.0,1849.6 859.0,1847.0 859.0,1846.5 861.0,1848.0 861.0,1847.7 867.0,1859.1 867.0,1859.1 875.0,1867.5 875.0,1867.0 881.0,1875.4 881.0,1876.5 887.0,1885.6 887.0,1884.0 893.0,1893.7 893.0,1895.5 895.0,1897.5 895.0,1895.1 899.0,1900.2 899.0,1901.4 907.0,1915.7 907.0,1916.7 909.0,1919.9 909.0,1919.8 917.0,1931.2 917.0,1931.3 919.0,1932.1 919.0,1928.5 927.0,1932.5 927.0,1934.7 931.0,1934.4 931.0,1935.1 937.0,1935.1 937.0,1931.0 945.0,1929.9 945.0,1934.4 953.0,1933.1 953.0,1931.8 961.0,1932.8 961.0,1934.4 965.0,1936.1 965.0,1934.9 973.0,1935.8 973.0,1937.0 981.0,1936.7 981.0,1932.2 985.0,1933.1 985.0,1937.4 987.0,1939.1 987.0,1935.7 991.0,1938.9 991.0,1940.7 997.0,1942.3 997.0,1943.1 1003.0,1944.0 1003.0,1942.5 1011.0,1941.6 1011.0,1943.7 1015.0,1942.5 1015.0,1942.8 1023.0,1945.7 1023.0,1945.3 1027.0,1947.2 1027.0,1947.6 1029.0,1950.0 1029.0,1949.6 1031.0,1949.5 1031.0,1950.1 1037.0,1950.3 1037.0,1948.7 1041.0,1949.9 1041.0,1949.3 1049.0,1947.6 1049.0,1948.7 1055.0,1947.7 1055.0,1947.8 1059.0,1949.1 1059.0,1949.7 1067.0,1951.0 1067.0,1951.3 1071.0,1950.6 1071.0,1949.5 1075.0,1949.2 1075.0,1946.5 1077.0,1946.7 1077.0,1947.7 1079.0,1947.8 1079.0,1950.1 1081.0,1950.0 1081.0,1948.5 1089.0,1945.8 1089.0,1947.4 1095.0,1946.9 1095.0,1946.8 1097.0,1946.2 1097.0,1946.3 1103.0,1945.9 1103.0,1945.5 1107.0,1945.5 1107.0,1945.9 1115.0,1946.0 1115.0,1944.3 1117.0,1944.5 1117.0,1945.8 1119.0,1945.7 1119.0,1944.9 1125.0,1943.9 1125.0,1944.0 1129.0,1942.3 1129.0,1943.0 1131.0,1942.5 1131.0,1941.8 1137.0,1939.5 1137.0,1940.7 1139.0,1940.0 1139.0,1940.5 1147.0,1941.1 1147.0,1940.6 1149.0,1940.0 1149.0,1939.9 1157.0,1939.8 1157.0,1939.7 1163.0,1939.7 1163.0,1935.7 1171.0,1931.7 1171.0,1934.4 1175.0,1932.6 1175.0,1932.9 1183.0,1930.0 1183.0,1930.4 1191.0,1927.7 1191.0,1925.5 1193.0,1925.3 1193.0,1926.1 1201.0,1920.9 1201.0,1923.6 1207.0,1918.2 1207.0,1918.2 1211.0,1915.1 1211.0,1914.0 1217.0,1906.0 1217.0,1906.6 1225.0,1895.8 1225.0,1896.3 1233.0,1896.5 1233.0,1895.8 1237.0,1898.4 1237.0,1898.4 1241.0,1901.9 1241.0,1901.8 1249.0,1911.7 1249.0,1909.6 1251.0,1913.3 1251.0,1914.1 1253.0,1916.5 1253.0,1918.2 1257.0,1925.9 1257.0,1925.6 1261.0,1933.5 1261.0,1934.1 1267.0,1942.1 1267.0,1939.0 1275.0,1944.2 1275.0,1947.0 1281.0,1950.5 1281.0,1950.4 1287.0,1954.1 1287.0,1953.5 1289.0,1953.9 1289.0,1954.6 1293.0,1957.0 1293.0,1955.1 1299.0,1955.3 1299.0,1953.3 1307.0,1956.9 1307.0,1960.8 1309.0,1963.3 1309.0,1962.2 1317.0,1967.1 1317.0,1967.4 1325.0,1967.2 1325.0,1966.7 1329.0,1967.4 1329.0,1969.0 1337.0,1970.4 1337.0,1970.1 1339.0,1971.7 1339.0,1967.9 1341.0,1965.9 1341.0,1969.3 1345.0,1969.5 1345.0,1969.8 1351.0,1966.2 1351.0,1965.2 1357.0,1966.8 1357.0,1967.6 1361.0,1968.9 1361.0,1969.2 1369.0,1970.3 1369.0,1968.9 1375.0,1967.7 1375.0,1967.9 1383.0,1969.4 1383.0,1970.5 1387.0,1969.5 1387.0,1966.9 1395.0,1967.9 1395.0,1970.0 1401.0,1969.0 1401.0,1968.5 1409.0,1965.2 1409.0,1966.2 1413.0,1964.1 1413.0,1964.0 1415.0,1964.3 1415.0,1961.3 1423.0,1964.0 1423.0,1966.6 1427.0,1968.5 1427.0,1968.6 1431.0,1969.4 1431.0,1968.8 1435.0,1971.4 1435.0,1970.4 1439.0,1970.6 1439.0,1972.0 1445.0,1974.1 1445.0,1969.9 1451.0,1969.9 1451.0,1974.2 1453.0,1975.7 1453.0,1975.1 1455.0,1975.2 1455.0,1975.2 1461.0,1975.7 1461.0,1976.7 1465.0,1974.9 1465.0,1973.4 1467.0,1972.0 1467.0,1970.8 1471.0,1973.3 1471.0,1974.3 1475.0,1975.8 1475.0,1975.5 1483.0,1974.5 1483.0,1973.1 1485.0,1972.2 1485.0,1974.0 1487.0,1974.1 1487.0,1973.0 1495.0,1976.2 1495.0,1976.5 1501.0,1975.6 1501.0,1973.6 1509.0,1973.5 1509.0,1977.5 1513.0,1976.7 1513.0,1975.1 1515.0,1976.0 1515.0,1975.9 1517.0,1974.0 1517.0,1974.8 1519.0,1975.4 1519.0,1973.1 1523.0,1972.7 1523.0,1975.0 1527.0,1976.2 1527.0,1974.5 1529.0,1974.1 1529.0,1976.0 1531.0,1976.5 1531.0,1976.7 1533.0,1977.8 1533.0,1976.9 1539.0,1977.9 1539.0,1978.4 1547.0,1977.9 1547.0,1978.1 1553.0,1978.7 1553.0,1977.9 1559.0,1980.1 1559.0,1978.7 1561.0,1977.6 1561.0,1978.7 1563.0,1978.7 1563.0,1978.2 1571.0,1981.1 1571.0,1981.3 1575.0,1980.6 1575.0,1980.1 1579.0,1978.7 1579.0,1980.4 1587.0,1978.9 1587.0,1978.7 1589.0,1979.2 1589.0,1978.8 1591.0,1978.0 1591.0,1976.9 1597.0,1977.7 1597.0,1975.7 1605.0,1979.5 1605.0,1983.1 1607.0,1982.1 1607.0,1982.9 1613.0,1981.8 1613.0,1980.7 1621.0,1981.3 1621.0,1982.2 1629.0,1981.6 1629.0,1981.4 1635.0,1981.4 1635.0,1981.8 1641.0,1980.3 1641.0,1979.3 1643.0,1979.5 1643.0,2003.7 1639.0,2003.6 1639.0,2001.7 1631.0,2002.8 1631.0,2002.2 1629.0,2002.5 1629.0,2003.3 1621.0,2003.8 1621.0,2003.9 1613.0,2003.4 1613.0,2002.9 1609.0,2003.5 1609.0,2003.2 1603.0,2003.7 1603.0,2008.1 1595.0,2005.9 1595.0,2001.5 1587.0,2000.4 1587.0,2000.0 1585.0,2000.3 1585.0,2004.5 1581.0,2005.3 1581.0,2003.1 1575.0,2004.9 1575.0,2003.5 1569.0,2003.2 1569.0,2005.2 1563.0,2003.2 1563.0,2004.4 1559.0,2005.5 1559.0,2006.7 1551.0,2003.5 1551.0,1999.1 1547.0,1999.5 1547.0,1999.2 1543.0,1998.4 1543.0,1998.6 1539.0,1999.9 1539.0,2000.8 1533.0,1999.7 1533.0,1998.7 1529.0,1997.1 1529.0,1997.0 1527.0,1997.4 1527.0,1997.9 1523.0,1996.8 1523.0,1996.8 1515.0,1998.5 1515.0,1998.9 1507.0,1998.5 1507.0,2000.0 1501.0,2000.5 1501.0,1998.5 1493.0,2000.6 1493.0,2000.0 1487.0,1995.7 1487.0,1998.1 1479.0,1999.3 1479.0,1997.1 1475.0,1997.8 1475.0,1999.2 1473.0,1997.8 1473.0,1996.4 1469.0,1996.1 1469.0,1996.5 1463.0,1996.6 1463.0,1996.4 1461.0,1997.4 1461.0,1999.1 1459.0,1999.9 1459.0,1998.6 1453.0,1997.3 1453.0,1996.5 1449.0,1994.2 1449.0,1995.4 1447.0,1995.6 1447.0,1996.8 1445.0,1997.4 1445.0,1996.3 1443.0,1995.9 1443.0,1994.7 1441.0,1994.1 1441.0,1994.4 1433.0,1992.2 1433.0,1992.9 1427.0,1990.4 1427.0,1990.4 1425.0,1990.7 1425.0,1989.6 1423.0,1987.5 1423.0,1987.3 1415.0,1984.7 1415.0,1988.9 1409.0,1990.7 1409.0,1987.5 1403.0,1988.8 1403.0,1988.8 1397.0,1991.4 1397.0,1991.1 1391.0,1991.3 1391.0,1990.6 1383.0,1990.9 1383.0,1991.3 1377.0,1990.9 1377.0,1994.7 1375.0,1993.7 1375.0,1989.7 1369.0,1990.9 1369.0,1991.3 1365.0,1993.1 1365.0,1994.1 1363.0,1992.1 1363.0,1993.2 1357.0,1991.1 1357.0,1988.8 1353.0,1986.7 1353.0,1986.3 1351.0,1986.7 1351.0,1988.3 1343.0,1991.6 1343.0,1990.2 1341.0,1990.3 1341.0,1991.9 1337.0,1992.3 1337.0,1991.6 1333.0,1990.6 1333.0,1990.7 1331.0,1989.8 1331.0,1989.1 1325.0,1988.9 1325.0,1988.8 1319.0,1990.0 1319.0,1990.1 1311.0,1985.7 1311.0,1985.3 1305.0,1980.5 1305.0,1982.1 1299.0,1979.4 1299.0,1978.3 1293.0,1978.1 1293.0,1980.3 1287.0,1977.6 1287.0,1977.8 1279.0,1973.1 1279.0,1971.6 1275.0,1969.1 1275.0,1968.6 1269.0,1965.3 1269.0,1965.2 1267.0,1963.4 1267.0,1962.7 1261.0,1954.7 1261.0,1957.1 1259.0,1952.6 1259.0,1954.8 1251.0,1941.2 1251.0,1937.2 1245.0,1928.8 1245.0,1930.6 1241.0,1925.4 1241.0,1922.8 1239.0,1920.7 1239.0,1921.8 1233.0,1917.8 1233.0,1916.7 1227.0,1914.9 1227.0,1917.2 1219.0,1926.2 1219.0,1926.3 1213.0,1936.6 1213.0,1934.5 1207.0,1938.6 1207.0,1941.7 1199.0,1948.0 1199.0,1946.0 1197.0,1948.0 1197.0,1947.5 1191.0,1950.0 1191.0,1950.7 1189.0,1952.0 1189.0,1954.5 1181.0,1955.8 1181.0,1953.9 1177.0,1955.8 1177.0,1954.6 1175.0,1955.8 1175.0,1956.2 1167.0,1960.4 1167.0,1959.2 1161.0,1960.3 1161.0,1960.8 1153.0,1962.0 1153.0,1965.8 1147.0,1965.8 1147.0,1961.3 1139.0,1960.7 1139.0,1960.7 1133.0,1961.6 1133.0,1962.1 1131.0,1964.2 1131.0,1965.3 1127.0,1965.5 1127.0,1967.4 1123.0,1969.5 1123.0,1970.0 1121.0,1969.1 1121.0,1965.4 1113.0,1968.1 1113.0,1970.6 1105.0,1969.2 1105.0,1967.2 1097.0,1967.8 1097.0,1970.4 1095.0,1971.0 1095.0,1969.6 1089.0,1970.2 1089.0,1972.9 1081.0,1975.7 1081.0,1976.5 1077.0,1976.6 1077.0,1976.4 1069.0,1977.2 1069.0,1972.4 1063.0,1972.8 1063.0,1972.3 1059.0,1970.8 1059.0,1971.0 1057.0,1970.2 1057.0,1970.2 1053.0,1970.4 1053.0,1974.6 1049.0,1975.0 1049.0,1975.2 1041.0,1976.9 1041.0,1972.9 1039.0,1971.4 1039.0,1970.9 1033.0,1971.2 1033.0,1975.2 1027.0,1973.0 1027.0,1969.4 1025.0,1969.2 1025.0,1970.5 1017.0,1966.4 1017.0,1964.7 1015.0,1964.3 1015.0,1965.1 1011.0,1966.3 1011.0,1965.9 1005.0,1965.6 1005.0,1965.2 997.0,1965.6 997.0,1965.8 995.0,1965.5 995.0,1965.9 991.0,1964.7 991.0,1965.4 985.0,1960.5 985.0,1960.8 983.0,1961.0 983.0,1959.8 979.0,1958.1 979.0,1958.3 971.0,1959.5 971.0,1959.0 969.0,1958.1 969.0,1958.6 965.0,1958.6 965.0,1958.0 957.0,1956.3 957.0,1958.5 953.0,1957.7 953.0,1958.5 945.0,1959.8 945.0,1956.9 941.0,1957.3 941.0,1958.2 939.0,1959.6 939.0,1959.0 935.0,1959.1 935.0,1959.6 927.0,1959.2 927.0,1962.1 921.0,1958.6 921.0,1956.5 919.0,1956.1 919.0,1955.0 913.0,1949.4 913.0,1952.6 905.0,1939.9 905.0,1936.6 897.0,1922.7 897.0,1922.5 893.0,1918.2 893.0,1918.5 891.0,1915.6 891.0,1919.5 887.0,1912.7 887.0,1909.7 885.0,1906.3 885.0,1905.8 877.0,1893.6 877.0,1893.0 875.0,1891.2 875.0,1891.5 867.0,1883.2 867.0,1887.9 863.0,1879.6 863.0,1874.6 859.0,1870.0 859.0,1871.5 855.0,1872.9 855.0,1872.1 849.0,1874.9 849.0,1875.4 841.0,1882.9 841.0,1886.0 835.0,1896.3 835.0,1892.7 829.0,1903.6 829.0,1904.0 821.0,1923.8 821.0,1923.8 815.0,1930.7 815.0,1930.1 809.0,1932.1 809.0,1932.5 805.0,1932.7 805.0,1935.0 797.0,1938.7 797.0,1935.8 795.0,1933.2 795.0,1934.6 789.0,1935.1 789.0,1934.7 783.0,1937.4 783.0,1937.6 775.0,1936.1 775.0,1936.5 771.0,1932.0 771.0,1931.2 769.0,1930.8 769.0,1929.9 761.0,1925.0 761.0,1926.2 755.0,1921.7 755.0,1922.5 751.0,1920.6 751.0,1920.7 747.0,1915.6 747.0,1913.8 743.0,1910.4 743.0,1910.2 739.0,1907.7 739.0,1909.4 735.0,1905.9 735.0,1904.2 729.0,1900.5 729.0,1901.7 723.0,1896.3 723.0,1901.4 717.0,1899.5 717.0,1893.0 709.0,1896.9 709.0,1901.8 705.0,1902.9 705.0,1898.2 701.0,1900.9 701.0,1902.1 699.0,1902.1 699.0,1907.5 691.0,1912.0 691.0,1906.0 685.0,1907.9 685.0,1908.4 683.0,1908.7 683.0,1908.8 677.0,1911.0 677.0,1910.0 675.0,1908.8 675.0,1911.4 673.0,1912.5 673.0,1909.6 665.0,1909.7 665.0,1910.8 661.0,1909.9 661.0,1909.1 653.0,1909.7 653.0,1916.1 645.0,1918.2 645.0,1913.6 637.0,1915.7 637.0,1920.1 631.0,1919.5 631.0,1914.2 629.0,1913.9 629.0,1913.8 621.0,1913.9 621.0,1912.5 613.0,1916.6 613.0,1916.8 605.0,1920.6 605.0,1920.4 597.0,1920.2 597.0,1927.5 595.0,1927.8 595.0,1927.8 593.0,1928.9 593.0,1922.1 587.0,1924.4 587.0,1925.8 579.0,1926.0 579.0,1924.7 571.0,1922.7 571.0,1922.2 569.0,1922.1 569.0,1923.3 565.0,1923.2 565.0,1925.4 559.0,1924.5 559.0,1921.5 555.0,1922.3 555.0,1923.7 553.0,1924.1 553.0,1922.9 551.0,1922.8 551.0,1922.0 549.0,1920.6 549.0,1922.9 547.0,1923.0 547.0,1922.3 545.0,1923.6 545.0,1922.1 541.0,1921.8 541.0,1921.8 537.0,1922.7 537.0,1924.6 535.0,1924.8 535.0,1927.7 533.0,1928.1 533.0,1923.4 525.0,1923.5 525.0,1923.6 517.0,1924.5 517.0,1925.8 511.0,1923.2 511.0,1922.7 503.0,1921.7 503.0,1922.1 497.0,1922.4 497.0,1923.3 491.0,1924.3 491.0,1922.8 489.0,1923.2 489.0,1923.8 483.0,1921.5 483.0,1921.9 481.0,1920.6 481.0,1919.3 475.0,1913.1 475.0,1913.0 469.0,1911.5 469.0,1913.1 463.0,1908.7 463.0,1907.5 459.0,1906.5 459.0,1906.0 453.0,1904.9 453.0,1905.6 447.0,1906.2 447.0,1907.0 441.0,1903.6 441.0,1903.3 439.0,1900.5 439.0,1899.3 437.0,1897.9 437.0,1899.2 435.0,1897.8 435.0,1899.0 427.0,1898.0 427.0,1897.2 419.0,1895.1 419.0,1894.9 417.0,1893.9 417.0,1894.3 413.0,1893.5 413.0,1891.9 407.0,1890.9 407.0,1896.1 405.0,1895.2 405.0,1890.4 397.0,1888.0 397.0,1891.5 391.0,1890.9 391.0,1886.6 383.0,1880.5 383.0,1880.1 381.0,1879.5 381.0,1879.8 375.0,1876.4 375.0,1876.4 373.0,1875.7 373.0,1875.9 367.0,1872.9 367.0,1872.5 359.0,1868.5 359.0,1868.8 353.0,1864.8 353.0,1865.0 345.0,1860.3 345.0,1861.2 343.0,1858.3 343.0,1857.0 341.0,1856.6 341.0,1857.3 335.0,1855.8 335.0,1854.9 329.0,1852.0 329.0,1853.7 323.0,1851.5 323.0,1849.9 321.0,1848.8 321.0,1849.8 317.0,1848.3 317.0,1848.9 309.0,1841.9 309.0,1840.5 307.0,1839.1 307.0,1842.9 303.0,1839.8 303.0,1836.6 299.0,1834.2 299.0,1835.1 297.0,1833.6 297.0,1833.8 293.0,1830.8 293.0,1828.9 289.0,1826.2 289.0,1826.9 283.0,1823.6 283.0,1824.1 281.0,1824.5 281.0,1826.0 277.0,1822.9 277.0,1821.3 271.0,1816.4 271.0,1815.7 267.0,1810.9 267.0,1810.6 259.0,1804.2 259.0,1804.7 253.0,1802.3 253.0,1801.9 245.0,1796.1 245.0,1796.8 237.0,1789.8 237.0,1789.1 235.0,1786.6 235.0,1789.0 227.0,1779.2 227.0,1777.1 225.0,1774.3 225.0,1774.3 219.0,1769.2 219.0,1770.0 217.0,1768.8 217.0,1774.7 215.0,1773.0 215.0,1766.9 207.0,1759.4 207.0,1763.1 205.0,1760.1 205.0,1757.0 199.0,1744.8 199.0,1743.5 195.0,1732.3 195.0,1732.6 189.0,1720.5 189.0,1720.4 181.0,1705.6 181.0,1705.3 179.0,1700.7"/><polyline fill="none" stroke="#008000" stroke-width="11" stroke-linejoin="round" points="158.3,1551.0 157.5,1553.0 158.5,1555.1 156.4,1557.1 158.1,1559.2 157.7,1561.2 158.1,1563.2 158.0,1565.3 159.2,1567.3 159.2,1569.4 158.2,1571.4 158.1,1573.4 158.4,1575.5 159.4,1577.6 160.0,1579.6 158.5,1581.7 159.9,1583.7 159.1,1585.7 158.7,1587.7 159.8,1589.7 157.9,1591.7 160.3,1593.7 160.6,1595.7 159.4,1597.7 161.4,1599.7 161.5,1601.7 161.1,1603.8 159.9,1605.8 160.7,1607.8 161.2,1609.8 162.2,1611.8 163.3,1613.8 162.1,1615.8 162.5,1617.8 162.4,1619.8 163.9,1621.9 165.4,1623.9 163.7,1625.9 163.6,1627.9 165.4,1629.9 165.4,1631.9 165.4,1633.9 168.9,1635.9 167.7,1638.0 167.1,1640.0 167.5,1642.0 168.2,1644.0 168.7,1646.0 168.2,1648.0 170.8,1650.0 169.6,1651.9 170.8,1653.9 169.1,1655.8 170.3,1657.8 172.1,1659.7 171.0,1661.7 172.2,1663.6 172.0,1665.6 174.0,1667.5 173.6,1669.5 176.3,1671.4 175.3,1673.4 174.6,1675.3 177.2,1677.2 176.4,1679.1 176.8,1681.0 177.4,1682.9 178.3,1684.8 179.7,1686.6 180.5,1688.5 181.3,1690.3 182.3,1692.2 183.7,1694.0 184.7,1695.8 183.5,1697.7 185.4,1699.5 186.6,1701.3 188.6,1703.1 189.2,1705.0 188.3,1706.8 189.8,1708.6 191.6,1710.4 191.6,1712.3 192.6,1714.1 194.8,1715.9 194.3,1717.8 197.1,1719.6 196.9,1721.5 196.6,1723.3 197.7,1725.2 199.0,1727.1 198.8,1728.9 199.9,1730.8 201.0,1732.7 202.2,1734.5 201.8,1736.4 203.9,1738.2 204.5,1740.0 205.0,1741.8 207.0,1743.6 207.4,1745.4 209.4,1747.1 210.9,1748.7 212.8,1750.2 212.2,1751.7 215.7,1753.1 215.5,1754.6 216.3,1756.0 218.3,1757.4 220.2,1758.9 219.9,1760.3 222.0,1761.7 223.2,1763.1 223.9,1764.4"/><polyline fill="none" stroke="#008000" stroke-width="11" stroke-linejoin="round" points="739.0,1895.0 739.7,1896.3 743.8,1897.6 745.7,1899.1 747.4,1900.5 746.7,1902.1 748.6,1903.6 750.6,1905.1 752.4,1906.6 752.6,1908.1 754.6,1909.5 756.8,1910.9 758.8,1912.1"/><polyline fill="none" stroke="#008000" stroke-width="11" stroke-linejoin="round" points="817.2,1915.2 816.8,1914.0 820.0,1912.7 822.1,1911.3 821.9,1909.8 821.9,1908.1 823.0,1906.3 822.9,1904.4 824.7,1902.5 824.6,1900.4 827.2,1898.4 826.8,1896.3 827.9,1894.3 829.6,1892.3 829.9,1890.3 829.7,1888.4 831.4,1886.6 832.4,1884.7 834.2,1882.7 834.5,1880.6 834.6,1878.6 836.3,1876.5 837.4,1874.4 839.8,1872.4 838.7,1870.5 838.5,1868.7 839.1,1867.1 840.2,1865.6 843.1,1864.3 845.1,1863.2 845.6,1862.1"/><polyline fill="none" stroke="#008000" stroke-width="11" stroke-linejoin="round" points="858.4,1860.7 859.7,1861.6 861.5,1862.9 862.3,1864.5 863.2,1866.4 864.6,1868.3 866.6,1870.3 866.6,1872.2 867.5,1873.9 869.5,1875.4 870.6,1876.7 872.6,1877.9"/><polyline fill="none" stroke="#008000" stroke-width="11" stroke-linejoin="round" points="872.5,1879.1 874.4,1880.3 877.0,1881.8 878.5,1883.5 878.8,1884.7 880.1,1886.1 881.6,1887.5 882.3,1889.0 883.6,1890.7 886.6,1892.4 886.0,1894.1 886.2,1895.9 887.7,1897.8 889.7,1899.7 890.3,1901.5 891.7,1903.4 892.8,1905.3 893.3,1907.2 894.7,1909.1 895.3,1910.9 897.5,1912.6 898.7,1914.3 899.7,1916.1 901.4,1917.9 902.0,1919.8 902.6,1921.7 903.7,1923.6 904.8,1925.5 907.5,1927.4 906.9,1929.3 908.8,1931.1 909.3,1932.9 910.4,1934.6 911.7,1936.2 912.6,1937.7 913.2,1939.1 915.4,1940.4 918.2,1941.5"/><polyline fill="none" stroke="#008000" stroke-width="11" stroke-linejoin="round" points="1205.6,1929.7 1208.1,1928.4 1208.1,1927.1 1212.3,1925.6 1212.4,1923.9 1212.6,1922.0 1215.1,1920.1 1216.8,1918.1 1215.9,1916.1 1218.3,1914.1 1219.5,1912.2 1222.1,1910.5 1222.4,1909.0 1224.0,1907.7 1223.4,1906.6"/><polyline fill="none" stroke="#008000" stroke-width="11" stroke-linejoin="round" points="1234.6,1908.4 1237.6,1909.8 1237.9,1911.3 1240.4,1912.9 1241.5,1914.6 1244.6,1916.4 1244.9,1918.1 1247.9,1919.8 1247.7,1921.4 1250.6,1922.9 1250.2,1924.6 1252.0,1926.3 1252.0,1928.0 1252.7,1929.9 1253.1,1931.7 1255.7,1933.6 1254.6,1935.4 1254.3,1937.3 1258.8,1939.1 1259.7,1940.9 1261.3,1942.6 1261.2,1944.2 1263.5,1945.7 1264.1,1947.1 1265.9,1948.5 1268.5,1949.9 1268.4,1951.2"/>
<polygon fill="#FF00FF" points="187.0,1841.2 191.0,1848.6 191.0,1852.8 195.0,1860.5 195.0,1859.2 201.0,1869.6 201.0,1868.5 203.0,1872.2 203.0,1873.3 209.0,1884.6 209.0,1885.0 215.0,1895.3 215.0,1896.2 223.0,1904.8 223.0,1904.9 229.0,1911.4 229.0,1905.2 237.0,1916.0 237.0,1920.1 243.0,1926.9 243.0,1923.8 251.0,1932.0 251.0,1928.6 255.0,1934.7 255.0,1943.3 259.0,1947.2 259.0,1945.4 263.0,1949.2 263.0,1950.3 271.0,1953.9 271.0,1947.5 273.0,1948.7 273.0,1953.8 277.0,1956.1 277.0,1957.2 279.0,1958.6 279.0,1957.1 283.0,1961.2 283.0,1962.6 291.0,1969.3 291.0,1970.1 299.0,1973.0 299.0,1972.3 307.0,1970.0 307.0,1970.7 313.0,1970.6 313.0,1969.9 315.0,1971.1 315.0,1970.5 321.0,1974.5 321.0,1974.6 325.0,1977.8 325.0,1978.7 333.0,1982.7 333.0,1982.7 335.0,1983.5 335.0,1975.8 341.0,1978.2 341.0,1983.7 343.0,1985.6 343.0,1985.1 351.0,1986.7 351.0,1989.3 359.0,1991.0 359.0,1990.7 361.0,1991.9 361.0,1991.9 369.0,1994.1 369.0,1994.9 377.0,1994.5 377.0,1993.9 379.0,1995.4 379.0,1992.8 383.0,1992.5 383.0,1994.0 387.0,1995.5 387.0,1990.9 389.0,1993.2 389.0,1998.4 391.0,1999.2 391.0,1997.4 395.0,1998.7 395.0,1995.2 397.0,1997.0 397.0,2002.7 401.0,2003.4 401.0,2003.9 409.0,2005.2 409.0,2004.8 413.0,2003.6 413.0,2003.4 415.0,2003.9 415.0,2003.3 417.0,2004.9 417.0,2001.8 421.0,1999.8 421.0,2001.9 427.0,2004.5 427.0,2006.9 429.0,2006.4 429.0,2003.8 433.0,2004.4 433.0,2005.2 437.0,2005.3 437.0,2006.5 445.0,2007.8 445.0,2008.2 453.0,2012.0 453.0,2011.6 457.0,2013.7 457.0,2008.6 463.0,2009.1 463.0,2014.7 465.0,2014.3 465.0,2013.3 469.0,2014.1 469.0,2013.0 471.0,2012.5 471.0,2012.0 477.0,2015.9 477.0,2018.2 483.0,2021.6 483.0,2021.8 491.0,2022.5 491.0,2022.5 497.0,2022.2 497.0,2016.6 503.0,2017.3 503.0,2020.9 509.0,2021.7 509.0,2016.8 511.0,2017.8 511.0,2024.6 513.0,2025.9 513.0,2024.1 517.0,2025.0 517.0,2026.1 521.0,2028.0 521.0,2028.0 523.0,2027.7 523.0,2026.4 527.0,2025.2 527.0,2026.7 535.0,2022.7 535.0,2019.5 539.0,2018.2 539.0,2022.1 545.0,2025.9 545.0,2024.3 549.0,2023.5 549.0,2024.6 557.0,2027.0 557.0,2025.7 565.0,2025.6 565.0,2026.7 567.0,2025.8 567.0,2024.6 575.0,2022.6 575.0,2021.9 581.0,2021.3 581.0,2024.0 585.0,2023.4 585.0,2023.1 587.0,2023.7 587.0,2023.1 589.0,2024.4 589.0,2020.1 597.0,2019.8 597.0,2018.0 599.0,2018.2 599.0,2023.9 603.0,2023.4 603.0,2017.1 605.0,2018.4 605.0,2022.3 609.0,2022.3 609.0,2025.4 613.0,2025.6 613.0,2021.5 617.0,2022.6 617.0,2027.4 625.0,2025.2 625.0,2023.5 629.0,2023.5 629.0,2023.4 635.0,2022.8 635.0,2022.3 637.0,2021.7 637.0,2023.1 641.0,2024.1 641.0,2020.6 649.0,2017.3 649.0,2020.6 655.0,2017.9 655.0,2019.1 663.0,2016.0 663.0,2013.9 671.0,2014.0 671.0,2014.1 673.0,2012.7 673.0,2008.3 677.0,2007.5 677.0,2013.5 683.0,2012.1 683.0,2009.5 691.0,2010.4 691.0,2012.3 695.0,2009.0 695.0,2007.5 701.0,2005.8 701.0,2007.3 705.0,2006.2 705.0,2000.4 709.0,2002.0 709.0,2006.4 713.0,2006.3 713.0,2001.7 717.0,2000.9 717.0,2007.8 719.0,2009.0 719.0,2002.9 725.0,2004.9 725.0,2009.9 729.0,2014.0 729.0,2013.5 737.0,2025.3 737.0,2022.5 739.0,2023.2 739.0,2026.1 745.0,2031.8 745.0,2030.5 747.0,2031.1 747.0,2033.5 751.0,2036.0 751.0,2035.4 759.0,2040.5 759.0,2040.3 767.0,2043.9 767.0,2042.1 775.0,2047.9 775.0,2050.3 781.0,2050.7 781.0,2050.4 787.0,2050.9 787.0,2046.9 793.0,2049.8 793.0,2052.8 797.0,2052.6 797.0,2052.7 801.0,2049.5 801.0,2048.4 807.0,2041.5 807.0,2043.2 809.0,2041.4 809.0,2042.4 813.0,2039.4 813.0,2038.6 819.0,2034.9 819.0,2036.1 827.0,2024.4 827.0,2022.5 829.0,2019.9 829.0,2021.4 835.0,2012.6 835.0,2012.6 843.0,1998.3 843.0,1997.7 849.0,1989.5 849.0,1989.8 853.0,1990.0 853.0,1986.0 861.0,1990.8 861.0,1995.3 865.0,2001.8 865.0,1997.3 871.0,2008.0 871.0,2012.8 873.0,2016.6 873.0,2011.8 877.0,2017.9 877.0,2020.5 879.0,2024.4 879.0,2025.5 885.0,2035.2 885.0,2034.4 887.0,2038.8 887.0,2038.4 895.0,2050.8 895.0,2051.6 899.0,2057.1 899.0,2058.2 907.0,2062.1 907.0,2062.4 909.0,2066.7 909.0,2063.0 917.0,2072.0 917.0,2075.8 919.0,2077.4 919.0,2077.5 927.0,2083.2 927.0,2083.4 931.0,2083.2 931.0,2081.1 937.0,2080.3 937.0,2079.5 945.0,2081.2 945.0,2083.6 951.0,2083.6 951.0,2082.3 957.0,2080.3 957.0,2080.6 963.0,2081.6 963.0,2081.8 971.0,2084.8 971.0,2085.1 975.0,2085.3 975.0,2086.3 979.0,2088.6 979.0,2087.4 981.0,2089.6 981.0,2090.3 985.0,2091.2 985.0,2091.8 993.0,2091.9 993.0,2090.8 995.0,2089.3 995.0,2085.9 997.0,2087.1 997.0,2087.8 1003.0,2089.2 1003.0,2091.4 1005.0,2092.6 1005.0,2093.1 1007.0,2094.8 1007.0,2093.7 1013.0,2095.2 1013.0,2096.8 1015.0,2097.1 1015.0,2096.1 1019.0,2097.0 1019.0,2098.1 1025.0,2097.0 1025.0,2095.6 1029.0,2095.6 1029.0,2097.3 1033.0,2097.5 1033.0,2097.1 1035.0,2097.5 1035.0,2096.6 1041.0,2097.8 1041.0,2099.0 1045.0,2100.1 1045.0,2099.6 1051.0,2097.8 1051.0,2094.5 1057.0,2094.0 1057.0,2094.8 1065.0,2094.4 1065.0,2096.6 1067.0,2093.7 1067.0,2090.3 1069.0,2089.8 1069.0,2092.8 1077.0,2089.2 1077.0,2089.7 1079.0,2090.5 1079.0,2089.9 1085.0,2092.0 1085.0,2092.8 1087.0,2092.8 1087.0,2092.9 1095.0,2093.7 1095.0,2092.5 1097.0,2092.0 1097.0,2090.4 1103.0,2090.2 1103.0,2092.6 1111.0,2091.6 1111.0,2088.6 1115.0,2089.2 1115.0,2091.3 1117.0,2091.0 1117.0,2092.5 1121.0,2092.4 1121.0,2089.1 1127.0,2088.7 1127.0,2091.8 1133.0,2092.9 1133.0,2092.8 1141.0,2091.5 1141.0,2091.6 1149.0,2088.6 1149.0,2088.6 1155.0,2088.0 1155.0,2085.0 1161.0,2083.0 1161.0,2086.2 1163.0,2086.8 1163.0,2086.0 1171.0,2083.1 1171.0,2082.7 1177.0,2082.1 1177.0,2081.6 1183.0,2079.3 1183.0,2078.1 1185.0,2077.1 1185.0,2075.0 1187.0,2073.9 1187.0,2078.7 1193.0,2074.3 1193.0,2071.2 1195.0,2069.0 1195.0,2070.5 1201.0,2061.8 1201.0,2059.4 1203.0,2057.5 1203.0,2061.2 1205.0,2057.7 1205.0,2057.7 1213.0,2047.7 1213.0,2044.7 1219.0,2038.6 1219.0,2040.4 1223.0,2038.3 1223.0,2039.6 1227.0,2040.3 1227.0,2039.1 1235.0,2041.5 1235.0,2041.2 1243.0,2049.2 1243.0,2051.1 1245.0,2053.4 1245.0,2051.8 1247.0,2053.2 1247.0,2049.9 1249.0,2051.5 1249.0,2053.9 1253.0,2059.0 1253.0,2061.0 1257.0,2066.4 1257.0,2066.5 1261.0,2070.7 1261.0,2071.0 1267.0,2081.8 1267.0,2079.5 1273.0,2090.1 1273.0,2089.2 1277.0,2093.6 1277.0,2094.8 1283.0,2096.9 1283.0,2098.0 1289.0,2103.2 1289.0,2102.1 1293.0,2104.3 1293.0,2104.4 1301.0,2109.5 1301.0,2110.2 1305.0,2113.0 1305.0,2111.2 1309.0,2111.4 1309.0,2114.5 1315.0,2116.2 1315.0,2116.0 1321.0,2116.9 1321.0,2114.6 1323.0,2115.2 1323.0,2116.2 1327.0,2117.8 1327.0,2118.4 1335.0,2119.1 1335.0,2117.9 1339.0,2117.3 1339.0,2115.2 1347.0,2115.8 1347.0,2118.4 1349.0,2118.5 1349.0,2118.1 1351.0,2117.0 1351.0,2117.4 1357.0,2117.3 1357.0,2117.6 1359.0,2118.7 1359.0,2118.0 1365.0,2119.1 1365.0,2120.3 1371.0,2121.6 1371.0,2122.4 1375.0,2122.5 1375.0,2122.4 1377.0,2123.1 1377.0,2123.0 1379.0,2122.3 1379.0,2122.6 1387.0,2124.9 1387.0,2124.3 1393.0,2123.8 1393.0,2122.9 1399.0,2121.7 1399.0,2118.5 1401.0,2119.1 1401.0,2123.8 1403.0,2124.7 1403.0,2122.7 1409.0,2123.7 1409.0,2125.6 1411.0,2125.6 1411.0,2125.6 1415.0,2126.4 1415.0,2122.8 1417.0,2122.7 1417.0,2126.2 1419.0,2126.8 1419.0,2123.5 1427.0,2123.0 1427.0,2126.7 1429.0,2126.2 1429.0,2123.5 1437.0,2124.7 1437.0,2125.7 1445.0,2127.4 1445.0,2127.3 1451.0,2129.1 1451.0,2129.7 1459.0,2131.9 1459.0,2132.8 1463.0,2134.4 1463.0,2130.8 1467.0,2131.7 1467.0,2133.9 1473.0,2133.3 1473.0,2134.9 1481.0,2132.5 1481.0,2132.3 1485.0,2132.6 1485.0,2132.6 1487.0,2133.8 1487.0,2131.5 1489.0,2131.9 1489.0,2134.4 1495.0,2134.9 1495.0,2132.7 1501.0,2131.0 1501.0,2131.1 1507.0,2130.5 1507.0,2131.8 1515.0,2128.2 1515.0,2128.8 1519.0,2130.4 1519.0,2125.8 1525.0,2126.6 1525.0,2131.6 1527.0,2132.4 1527.0,2131.4 1531.0,2131.2 1531.0,2129.9 1535.0,2128.1 1535.0,2130.1 1543.0,2132.6 1543.0,2133.1 1549.0,2134.1 1549.0,2133.8 1551.0,2134.3 1551.0,2134.5 1555.0,2133.7 1555.0,2131.9 1561.0,2133.5 1561.0,2133.0 1567.0,2135.2 1567.0,2134.9 1573.0,2133.8 1573.0,2135.1 1579.0,2134.5 1579.0,2135.4 1587.0,2138.6 1587.0,2135.8 1591.0,2137.4 1591.0,2140.9 1599.0,2139.6 1599.0,2139.5 1603.0,2136.7 1603.0,2131.8 1609.0,2133.8 1609.0,2136.4 1615.0,2137.4 1615.0,2139.7 1619.0,2139.0 1619.0,2137.5 1621.0,2138.9 1621.0,2140.5 1629.0,2141.3 1629.0,2140.5 1631.0,2140.4 1631.0,2141.0 1637.0,2138.9 1637.0,2137.5 1643.0,2137.2 1643.0,2159.7 1639.0,2159.7 1639.0,2159.9 1633.0,2162.6 1633.0,2161.7 1629.0,2161.6 1629.0,2161.4 1627.0,2161.8 1627.0,2162.3 1623.0,2161.8 1623.0,2164.2 1617.0,2163.5 1617.0,2163.2 1609.0,2161.6 1609.0,2160.1 1607.0,2160.2 1607.0,2160.0 1601.0,2159.7 1601.0,2159.6 1595.0,2161.1 1595.0,2161.2 1589.0,2162.5 1589.0,2161.9 1585.0,2157.8 1585.0,2159.8 1579.0,2158.5 1579.0,2156.5 1575.0,2156.7 1575.0,2161.2 1569.0,2163.3 1569.0,2158.7 1563.0,2156.7 1563.0,2157.6 1557.0,2155.8 1557.0,2156.4 1549.0,2156.0 1549.0,2155.9 1547.0,2155.0 1547.0,2154.0 1539.0,2152.8 1539.0,2154.2 1537.0,2153.6 1537.0,2153.8 1535.0,2153.0 1535.0,2153.9 1527.0,2155.9 1527.0,2154.1 1523.0,2152.7 1523.0,2155.1 1519.0,2154.9 1519.0,2153.5 1517.0,2151.6 1517.0,2151.0 1513.0,2151.8 1513.0,2155.2 1505.0,2159.6 1505.0,2154.6 1497.0,2155.2 1497.0,2155.9 1491.0,2155.1 1491.0,2154.2 1487.0,2154.6 1487.0,2156.5 1481.0,2154.9 1481.0,2157.8 1473.0,2160.1 1473.0,2157.9 1465.0,2158.9 1465.0,2156.5 1461.0,2155.0 1461.0,2155.9 1453.0,2153.9 1453.0,2152.9 1447.0,2149.6 1447.0,2150.7 1445.0,2150.5 1445.0,2150.8 1437.0,2149.0 1437.0,2151.7 1433.0,2150.8 1433.0,2149.1 1431.0,2147.9 1431.0,2150.6 1425.0,2151.6 1425.0,2148.0 1417.0,2148.4 1417.0,2148.3 1409.0,2147.6 1409.0,2146.5 1403.0,2145.5 1403.0,2145.5 1401.0,2144.6 1401.0,2147.9 1399.0,2147.3 1399.0,2143.5 1395.0,2144.7 1395.0,2145.9 1389.0,2146.6 1389.0,2146.0 1383.0,2143.7 1383.0,2143.4 1381.0,2142.5 1381.0,2146.3 1377.0,2147.5 1377.0,2147.0 1375.0,2146.3 1375.0,2146.5 1367.0,2146.7 1367.0,2148.0 1365.0,2146.4 1365.0,2145.1 1361.0,2143.6 1361.0,2140.0 1353.0,2139.5 1353.0,2139.8 1349.0,2140.8 1349.0,2141.4 1343.0,2142.0 1343.0,2142.6 1335.0,2141.9 1335.0,2142.8 1329.0,2141.2 1329.0,2139.3 1325.0,2139.9 1325.0,2141.0 1321.0,2139.2 1321.0,2137.7 1319.0,2137.4 1319.0,2137.8 1317.0,2138.3 1317.0,2138.5 1309.0,2135.7 1309.0,2135.8 1301.0,2132.8 1301.0,2133.2 1295.0,2130.2 1295.0,2131.1 1293.0,2129.0 1293.0,2129.1 1289.0,2126.9 1289.0,2125.6 1281.0,2119.4 1281.0,2120.2 1279.0,2120.5 1279.0,2121.4 1277.0,2120.1 1277.0,2118.3 1275.0,2117.0 1275.0,2117.5 1271.0,2110.7 1271.0,2110.6 1267.0,2103.7 1267.0,2104.8 1265.0,2101.9 1265.0,2102.6 1257.0,2090.4 1257.0,2088.4 1249.0,2078.0 1249.0,2079.3 1245.0,2076.3 1245.0,2078.2 1243.0,2075.9 1243.0,2072.7 1241.0,2069.9 1241.0,2068.9 1233.0,2062.7 1233.0,2065.4 1225.0,2062.3 1225.0,2060.4 1217.0,2065.7 1217.0,2066.3 1213.0,2070.1 1213.0,2070.1 1211.0,2073.5 1211.0,2072.2 1207.0,2077.0 1207.0,2077.8 1205.0,2079.6 1205.0,2080.5 1203.0,2084.0 1203.0,2083.0 1201.0,2085.0 1201.0,2084.4 1193.0,2095.3 1193.0,2095.5 1187.0,2100.0 1187.0,2099.3 1183.0,2101.3 1183.0,2103.2 1181.0,2103.8 1181.0,2102.9 1173.0,2104.8 1173.0,2104.6 1169.0,2105.9 1169.0,2106.1 1161.0,2107.6 1161.0,2109.7 1159.0,2110.9 1159.0,2108.3 1155.0,2109.2 1155.0,2112.2 1147.0,2113.4 1147.0,2111.6 1145.0,2112.1 1145.0,2111.5 1141.0,2113.3 1141.0,2112.6 1139.0,2111.9 1139.0,2112.2 1135.0,2113.7 1135.0,2114.7 1127.0,2114.1 1127.0,2114.2 1121.0,2114.6 1121.0,2115.4 1117.0,2115.6 1117.0,2114.7 1115.0,2115.0 1115.0,2113.3 1113.0,2112.5 1113.0,2115.6 1107.0,2115.4 1107.0,2113.5 1099.0,2115.6 1099.0,2114.1 1093.0,2114.8 1093.0,2115.4 1091.0,2115.4 1091.0,2117.6 1089.0,2117.0 1089.0,2116.1 1087.0,2115.5 1087.0,2118.0 1079.0,2116.1 1079.0,2115.3 1075.0,2115.3 1075.0,2113.3 1071.0,2115.9 1071.0,2115.5 1065.0,2119.2 1065.0,2120.2 1059.0,2120.2 1059.0,2119.2 1051.0,2120.3 1051.0,2122.6 1047.0,2123.6 1047.0,2120.7 1039.0,2120.3 1039.0,2120.6 1031.0,2118.4 1031.0,2119.5 1027.0,2119.6 1027.0,2118.3 1025.0,2118.9 1025.0,2120.4 1019.0,2121.6 1019.0,2122.2 1015.0,2121.4 1015.0,2120.2 1013.0,2119.9 1013.0,2121.9 1011.0,2121.0 1011.0,2119.3 1003.0,2116.0 1003.0,2117.3 1001.0,2117.3 1001.0,2117.1 995.0,2114.7 995.0,2114.3 993.0,2115.7 993.0,2113.2 985.0,2113.2 985.0,2113.6 977.0,2108.8 977.0,2111.0 973.0,2110.7 973.0,2108.4 971.0,2108.1 971.0,2112.1 967.0,2109.1 967.0,2105.0 959.0,2103.3 959.0,2104.8 953.0,2107.7 953.0,2109.0 947.0,2108.6 947.0,2108.1 943.0,2107.3 943.0,2105.7 939.0,2104.7 939.0,2104.5 933.0,2105.9 933.0,2105.6 931.0,2105.6 931.0,2105.5 925.0,2104.4 925.0,2105.8 923.0,2104.5 923.0,2105.1 919.0,2102.2 919.0,2100.3 913.0,2092.4 913.0,2093.9 907.0,2087.0 907.0,2085.3 903.0,2082.7 903.0,2085.0 895.0,2078.2 895.0,2077.4 891.0,2071.5 891.0,2071.7 887.0,2065.3 887.0,2063.7 885.0,2059.3 885.0,2059.0 879.0,2049.4 879.0,2049.4 875.0,2042.3 875.0,2042.4 871.0,2035.8 871.0,2036.6 863.0,2023.4 863.0,2022.6 857.0,2014.7 857.0,2016.0 853.0,2015.2 853.0,2014.3 845.0,2019.5 845.0,2019.1 843.0,2022.0 843.0,2022.4 835.0,2036.8 835.0,2038.6 827.0,2050.1 827.0,2048.0 825.0,2052.8 825.0,2054.2 821.0,2060.2 821.0,2058.6 815.0,2062.6 815.0,2066.1 807.0,2071.5 807.0,2068.9 803.0,2075.3 803.0,2076.6 799.0,2079.2 799.0,2078.5 791.0,2079.4 791.0,2078.0 787.0,2075.6 787.0,2076.8 779.0,2075.5 779.0,2075.7 775.0,2076.2 775.0,2076.1 767.0,2070.5 767.0,2069.9 765.0,2069.0 765.0,2070.4 759.0,2067.8 759.0,2071.1 751.0,2066.0 751.0,2060.8 749.0,2060.3 749.0,2060.0 743.0,2056.2 743.0,2060.5 741.0,2058.3 741.0,2054.3 737.0,2051.6 737.0,2052.6 733.0,2045.6 733.0,2044.5 731.0,2041.7 731.0,2041.7 729.0,2039.8 729.0,2040.2 725.0,2036.2 725.0,2036.6 717.0,2033.6 717.0,2033.1 709.0,2033.9 709.0,2033.7 703.0,2033.0 703.0,2034.6 697.0,2036.7 697.0,2036.3 691.0,2039.6 691.0,2041.6 685.0,2041.1 685.0,2039.3 677.0,2040.4 677.0,2038.9 673.0,2039.7 673.0,2039.8 671.0,2041.2 671.0,2043.4 665.0,2042.0 665.0,2039.9 659.0,2043.2 659.0,2043.8 655.0,2045.1 655.0,2044.5 647.0,2049.0 647.0,2051.6 645.0,2051.6 645.0,2050.3 637.0,2050.9 637.0,2049.5 629.0,2050.7 629.0,2051.8 621.0,2052.6 621.0,2052.0 615.0,2052.7 615.0,2053.9 611.0,2053.5 611.0,2052.9 609.0,2052.8 609.0,2052.1 607.0,2052.6 607.0,2053.4 599.0,2052.2 599.0,2051.8 593.0,2051.1 593.0,2050.3 587.0,2049.8 587.0,2052.7 579.0,2053.1 579.0,2050.8 571.0,2053.1 571.0,2053.9 569.0,2054.6 569.0,2053.6 565.0,2053.8 565.0,2056.0 557.0,2056.2 557.0,2054.5 555.0,2054.0 555.0,2056.6 551.0,2056.8 551.0,2054.5 547.0,2051.9 547.0,2052.0 545.0,2053.5 545.0,2052.6 543.0,2051.5 543.0,2051.0 535.0,2049.8 535.0,2050.4 529.0,2052.7 529.0,2055.6 521.0,2059.0 521.0,2056.2 519.0,2054.9 519.0,2054.1 517.0,2053.5 517.0,2053.7 509.0,2050.6 509.0,2051.3 503.0,2050.6 503.0,2050.2 497.0,2049.6 497.0,2050.9 489.0,2051.8 489.0,2053.1 485.0,2052.4 485.0,2053.3 481.0,2052.1 481.0,2051.2 479.0,2050.1 479.0,2048.5 471.0,2043.3 471.0,2043.1 465.0,2042.8 465.0,2042.5 463.0,2042.9 463.0,2047.7 457.0,2047.3 457.0,2047.6 449.0,2044.9 449.0,2041.1 447.0,2039.1 447.0,2039.0 441.0,2037.4 441.0,2035.3 435.0,2035.0 435.0,2036.7 433.0,2036.3 433.0,2037.5 429.0,2037.0 429.0,2034.5 427.0,2035.1 427.0,2037.4 421.0,2034.9 421.0,2034.2 417.0,2036.2 417.0,2034.7 411.0,2032.8 411.0,2034.6 409.0,2035.6 409.0,2040.9 405.0,2039.4 405.0,2032.2 397.0,2031.7 397.0,2037.2 391.0,2034.2 391.0,2030.2 389.0,2029.4 389.0,2028.6 381.0,2024.5 381.0,2023.4 379.0,2023.9 379.0,2024.7 373.0,2024.5 373.0,2025.7 367.0,2024.9 367.0,2024.0 365.0,2021.9 365.0,2021.1 363.0,2021.7 363.0,2023.0 361.0,2022.2 361.0,2022.6 357.0,2019.9 357.0,2017.9 355.0,2018.0 355.0,2019.3 349.0,2018.4 349.0,2019.2 341.0,2016.3 341.0,2016.7 339.0,2015.8 339.0,2015.4 337.0,2014.4 337.0,2012.3 329.0,2009.7 329.0,2009.9 327.0,2009.5 327.0,2011.6 323.0,2007.3 323.0,2005.7 317.0,2002.1 317.0,2003.5 315.0,2001.9 315.0,2000.6 309.0,2000.4 309.0,2000.9 301.0,2001.8 301.0,2000.8 295.0,2001.1 295.0,2002.4 289.0,1998.4 289.0,1996.8 281.0,1988.4 281.0,1989.2 273.0,1984.3 273.0,1983.6 269.0,1980.9 269.0,1981.6 261.0,1977.2 261.0,1978.7 253.0,1970.5 253.0,1970.7 245.0,1960.7 245.0,1958.6 241.0,1954.4 241.0,1955.5 235.0,1948.9 235.0,1948.1 227.0,1937.9 227.0,1938.0 225.0,1935.8 225.0,1935.7 219.0,1929.3 219.0,1929.2 213.0,1921.4 213.0,1921.3 209.0,1914.2 209.0,1914.3 207.0,1910.6 207.0,1910.4 199.0,1895.2 199.0,1895.4 197.0,1892.2 197.0,1894.2 195.0,1891.1 195.0,1889.8 191.0,1882.1 191.0,1883.4 187.0,1876.0"/><polyline fill="none" stroke="#FF00FF" stroke-width="11" stroke-linejoin="round" points="158.3,1664.0 155.8,1666.0 157.5,1668.0 159.1,1670.0 156.8,1672.0 157.1,1674.0 158.0,1675.9 157.6,1677.9 156.7,1679.9 159.4,1681.9 159.0,1683.9 157.9,1685.9 157.4,1687.9 158.9,1690.0 159.3,1692.0 159.8,1694.2 158.5,1696.3 158.5,1698.5 159.3,1700.4 159.3,1702.3 158.4,1704.2 159.7,1706.2 159.6,1708.2 159.5,1710.2 160.0,1712.3 161.0,1714.4 159.5,1716.5 161.7,1718.6 160.7,1720.7 159.3,1722.8 160.9,1724.9 159.5,1727.0 161.9,1729.1 161.3,1731.2 162.7,1733.3 160.7,1735.4 161.0,1737.4 161.4,1739.4 162.7,1741.4 159.9,1743.3 162.4,1745.2 161.7,1747.1 161.9,1749.1 162.5,1751.3 163.8,1753.4 163.6,1755.5 163.4,1757.6 163.2,1759.6 165.6,1761.6 166.3,1763.6 166.3,1765.6 166.3,1767.5 167.5,1769.5 167.2,1771.4 167.7,1773.4 166.1,1775.4 166.9,1777.3 166.7,1779.3 168.1,1781.3 168.7,1783.3 168.8,1785.3 170.0,1787.3 169.7,1789.3 171.6,1791.4 170.8,1793.4 171.6,1795.4 170.2,1797.4 172.9,1799.4 172.2,1801.4 174.2,1803.4 172.9,1805.4 175.1,1807.4 174.2,1809.4 174.3,1811.4 175.7,1813.4 175.1,1815.4 176.4,1817.4 176.2,1819.4 175.3,1821.4 177.9,1823.4 177.8,1825.4 178.1,1827.5 177.8,1829.5 179.5,1831.5 178.7,1833.5 180.1,1835.5 179.8,1837.5 181.6,1839.5 181.7,1841.5 181.8,1843.4 182.8,1845.4 183.5,1847.4 184.6,1849.3 182.5,1851.1 185.1,1853.0 184.8,1854.9 186.1,1856.7 185.2,1858.6 188.4,1860.4 189.8,1862.3 190.0,1864.1 190.8,1866.0 191.9,1867.8 192.6,1869.6 192.9,1871.4 194.0,1873.3 194.1,1875.1 197.3,1876.9 196.3,1878.7 196.7,1880.5 199.8,1882.2 200.2,1884.0 199.6,1885.7 202.1,1887.4 202.4,1889.1 203.5,1890.8 204.7,1892.5 205.8,1894.2 208.5,1895.9 207.7,1897.6 210.1,1899.3 209.8,1901.0 210.5,1902.7 211.6,1904.4 214.2,1906.1 214.5,1907.8 217.3,1909.5 218.1,1911.3 218.0,1913.0 219.9,1914.6 219.9,1916.1 220.8,1917.8 221.7,1919.4 223.2,1921.0 225.0,1922.7 227.3,1924.3 229.2,1926.0 228.5,1927.6 229.6,1929.3 231.3,1931.0 233.3,1932.6 234.4,1934.3 236.6,1935.9 237.7,1937.5 239.8,1939.1 238.8,1940.7 241.5,1942.3 242.7,1943.8 243.1,1945.3 244.7,1946.8 246.6,1948.2 248.8,1949.6 249.4,1951.0 251.6,1952.4 252.6,1953.9 255.0,1955.3 255.7,1956.7"/><polyline fill="none" stroke="#FF00FF" stroke-width="11" stroke-linejoin="round" points="722.9,2023.2 724.9,2024.4 725.8,2025.8 726.8,2027.3 728.4,2028.8 730.9,2030.4 731.9,2032.0 734.0,2033.6 735.2,2035.1 736.4,2036.6 737.7,2038.0 739.6,2039.3"/><polyline fill="none" stroke="#FF00FF" stroke-width="11" stroke-linejoin="round" points="808.1,2057.6 809.6,2056.2 811.5,2054.8 812.5,2053.3 814.3,2051.8 816.0,2050.3 816.2,2048.7 818.6,2047.2 819.6,2045.7 821.3,2044.2 821.7,2042.5 825.0,2040.9 824.3,2039.2 827.9,2037.5 828.4,2035.7 829.1,2033.9 828.6,2032.2 831.4,2030.4 831.4,2028.7 833.2,2026.9 833.3,2025.2 834.4,2023.5 837.4,2021.7 837.4,2019.7 837.9,2017.6 839.8,2015.5 840.1,2013.4 842.6,2011.4 841.3,2009.5 844.4,2007.8 844.6,2006.3 847.8,2005.0 847.6,2004.1"/><polyline fill="none" stroke="#FF00FF" stroke-width="11" stroke-linejoin="round" points="858.9,2008.2 861.9,2009.7 864.1,2011.1 863.2,2012.3 865.4,2013.7 865.4,2015.2 868.1,2016.8 868.0,2018.5 869.7,2020.3 871.7,2022.1 871.6,2024.0 873.1,2025.9 873.8,2027.8 876.3,2029.8 877.0,2031.7 875.8,2033.6 876.0,2035.5 879.6,2037.3 879.3,2039.0 880.8,2040.7 880.8,2042.4 882.1,2044.2 882.8,2046.0 884.2,2047.8 884.9,2049.5 887.1,2051.3 888.6,2053.1 889.2,2054.9 890.9,2056.7 890.0,2058.4 892.5,2060.1 894.6,2061.8 895.5,2063.4 897.3,2065.0 898.3,2066.5 897.4,2068.0 899.2,2069.7 900.4,2071.3 902.4,2072.9 904.3,2074.5 905.0,2076.0 907.7,2077.5 906.9,2079.0 908.4,2080.4 910.7,2081.7 912.4,2083.0"/><polyline fill="none" stroke="#FF00FF" stroke-width="11" stroke-linejoin="round" points="1189.2,2086.5 1191.7,2085.3 1190.9,2084.0 1193.4,2082.6 1193.7,2081.1 1195.9,2079.6 1195.9,2077.9 1200.0,2076.3 1198.6,2074.6 1201.1,2072.9 1202.3,2071.2 1202.8,2069.6 1204.5,2068.0 1206.5,2066.5 1207.2,2065.0 1208.4,2063.5 1210.7,2061.8 1212.2,2060.0 1212.9,2058.1 1214.1,2056.3 1215.1,2054.4 1217.1,2052.7 1218.6,2051.2 1221.1,2049.8 1223.3,2048.7"/><polyline fill="none" stroke="#FF00FF" stroke-width="11" stroke-linejoin="round" points="1233.5,2049.9 1233.5,2051.2 1235.8,2052.7 1237.2,2054.3 1239.4,2056.0 1239.8,2057.8 1241.2,2059.6 1244.5,2061.4 1246.2,2063.2 1247.6,2064.8 1248.1,2066.3 1248.9,2067.9 1250.3,2069.4 1251.2,2071.0 1253.2,2072.6 1255.2,2074.2 1255.6,2075.8 1258.1,2077.5 1256.7,2079.1 1258.5,2080.8 1259.1,2082.5 1260.6,2084.1 1263.1,2085.7 1263.1,2087.2 1266.4,2088.7 1265.9,2090.2 1268.2,2091.8 1267.7,2093.4 1269.2,2094.9 1273.3,2096.5 1274.2,2098.1 1273.7,2099.7 1275.9,2101.3 1276.3,2102.8 1279.2,2104.3 1280.7,2105.8 1283.0,2107.2 1284.2,2108.6 1285.3,2109.9"/>
<polygon fill="#0000FF" points="189.0,1996.7 191.0,2000.4 191.0,2005.7 193.0,2012.0 193.0,2012.7 197.0,2021.4 197.0,2020.2 203.0,2029.1 203.0,2029.6 209.0,2038.5 209.0,2039.6 211.0,2041.0 211.0,2039.9 217.0,2049.2 217.0,2045.2 225.0,2058.2 225.0,2061.6 231.0,2067.6 231.0,2068.3 233.0,2069.3 233.0,2069.9 235.0,2071.1 235.0,2071.3 243.0,2078.5 243.0,2076.8 247.0,2081.5 247.0,2082.6 253.0,2087.3 253.0,2086.3 261.0,2093.1 261.0,2093.9 263.0,2095.7 263.0,2095.7 265.0,2097.8 265.0,2096.8 271.0,2103.4 271.0,2104.3 277.0,2110.7 277.0,2110.1 285.0,2117.0 285.0,2116.1 289.0,2118.0 289.0,2119.6 293.0,2122.1 293.0,2121.7 299.0,2123.3 299.0,2117.2 307.0,2119.3 307.0,2119.4 311.0,2120.3 311.0,2126.8 317.0,2127.9 317.0,2127.6 321.0,2129.1 321.0,2130.0 325.0,2132.6 325.0,2130.4 331.0,2135.7 331.0,2130.4 333.0,2131.2 333.0,2136.8 337.0,2137.9 337.0,2138.1 341.0,2137.6 341.0,2139.1 345.0,2141.7 345.0,2140.0 351.0,2141.0 351.0,2141.5 355.0,2143.8 355.0,2145.1 361.0,2147.5 361.0,2145.8 363.0,2146.8 363.0,2142.0 365.0,2142.7 365.0,2141.3 371.0,2142.2 371.0,2150.0 377.0,2151.4 377.0,2149.2 381.0,2148.3 381.0,2145.2 385.0,2146.1 385.0,2149.8 389.0,2150.9 389.0,2152.1 391.0,2150.8 391.0,2150.8 399.0,2153.4 399.0,2154.0 401.0,2154.9 401.0,2154.7 407.0,2154.6 407.0,2153.4 415.0,2153.2 415.0,2154.2 421.0,2155.2 421.0,2149.2 429.0,2151.1 429.0,2157.2 433.0,2157.9 433.0,2150.0 439.0,2148.8 439.0,2157.2 445.0,2158.7 445.0,2158.2 447.0,2158.2 447.0,2158.3 455.0,2158.8 455.0,2157.3 457.0,2157.7 457.0,2158.8 461.0,2160.9 461.0,2161.4 465.0,2161.9 465.0,2162.3 467.0,2162.9 467.0,2161.0 469.0,2162.6 469.0,2164.3 475.0,2163.4 475.0,2162.8 481.0,2161.8 481.0,2159.5 485.0,2158.7 485.0,2159.1 487.0,2159.4 487.0,2161.6 491.0,2163.7 491.0,2163.9 497.0,2165.2 497.0,2164.5 505.0,2159.6 505.0,2159.7 507.0,2160.3 507.0,2160.8 509.0,2158.0 509.0,2154.0 515.0,2157.3 515.0,2154.5 523.0,2157.0 523.0,2163.9 529.0,2164.3 529.0,2161.9 537.0,2165.0 537.0,2167.1 545.0,2165.9 545.0,2166.1 551.0,2165.4 551.0,2165.6 557.0,2166.7 557.0,2166.5 565.0,2166.8 565.0,2166.2 567.0,2165.9 567.0,2165.3 569.0,2163.6 569.0,2161.8 577.0,2160.2 577.0,2161.4 583.0,2161.9 583.0,2161.4 585.0,2162.8 585.0,2161.2 587.0,2161.8 587.0,2162.6 595.0,2162.9 595.0,2164.6 601.0,2165.5 601.0,2165.2 609.0,2167.3 609.0,2166.1 611.0,2166.8 611.0,2165.8 615.0,2165.9 615.0,2169.5 623.0,2171.1 623.0,2168.9 629.0,2167.9 629.0,2163.1 635.0,2161.9 635.0,2161.8 641.0,2162.3 641.0,2169.5 649.0,2170.8 649.0,2164.7 655.0,2162.7 655.0,2161.8 663.0,2159.8 663.0,2164.3 665.0,2164.4 665.0,2166.1 669.0,2166.4 669.0,2166.1 671.0,2166.7 671.0,2166.8 679.0,2163.7 679.0,2164.3 687.0,2158.8 687.0,2157.2 689.0,2156.3 689.0,2156.7 693.0,2155.3 693.0,2157.0 695.0,2156.1 695.0,2155.6 703.0,2155.2 703.0,2153.8 711.0,2153.9 711.0,2153.4 719.0,2158.5 719.0,2159.3 723.0,2162.9 723.0,2163.2 725.0,2164.6 725.0,2160.9 727.0,2164.1 727.0,2168.0 731.0,2171.5 731.0,2172.5 739.0,2181.1 739.0,2178.8 747.0,2187.3 747.0,2188.8 749.0,2190.9 749.0,2186.0 751.0,2187.4 751.0,2191.7 755.0,2194.7 755.0,2194.1 759.0,2198.3 759.0,2196.7 767.0,2204.2 767.0,2207.6 769.0,2208.3 769.0,2207.2 777.0,2207.0 777.0,2208.2 779.0,2207.9 779.0,2207.2 787.0,2207.5 787.0,2207.9 789.0,2209.3 789.0,2203.1 793.0,2203.5 793.0,2209.9 799.0,2209.6 799.0,2209.0 801.0,2210.2 801.0,2209.2 809.0,2205.3 809.0,2206.0 813.0,2203.1 813.0,2202.7 819.0,2196.9 819.0,2197.3 821.0,2197.1 821.0,2192.8 825.0,2188.1 825.0,2190.9 833.0,2182.2 833.0,2183.1 835.0,2178.5 835.0,2177.4 839.0,2173.1 839.0,2175.3 843.0,2169.4 843.0,2170.0 849.0,2164.3 849.0,2159.0 853.0,2157.1 853.0,2161.2 859.0,2162.9 859.0,2163.5 867.0,2168.3 867.0,2168.7 869.0,2171.3 869.0,2169.0 871.0,2171.5 871.0,2172.6 879.0,2182.4 879.0,2182.3 887.0,2194.6 887.0,2195.9 891.0,2203.2 891.0,2201.6 899.0,2212.8 899.0,2210.6 905.0,2216.6 905.0,2219.5 911.0,2227.0 911.0,2227.0 915.0,2227.9 915.0,2227.9 923.0,2233.5 923.0,2234.3 925.0,2235.2 925.0,2234.9 929.0,2237.7 929.0,2238.3 935.0,2240.6 935.0,2238.8 941.0,2244.2 941.0,2245.8 943.0,2248.7 943.0,2246.1 947.0,2246.0 947.0,2247.1 951.0,2249.6 951.0,2250.6 957.0,2250.8 957.0,2251.4 959.0,2252.9 959.0,2252.1 967.0,2251.7 967.0,2251.5 969.0,2252.3 969.0,2252.8 971.0,2254.1 971.0,2253.0 975.0,2253.1 975.0,2253.5 983.0,2256.8 983.0,2257.2 989.0,2259.9 989.0,2259.9 997.0,2258.1 997.0,2258.7 1003.0,2257.5 1003.0,2256.9 1009.0,2259.3 1009.0,2258.5 1013.0,2258.4 1013.0,2259.2 1021.0,2258.2 1021.0,2258.4 1025.0,2259.9 1025.0,2259.6 1027.0,2260.1 1027.0,2259.6 1029.0,2258.7 1029.0,2257.7 1037.0,2261.6 1037.0,2263.3 1039.0,2262.6 1039.0,2263.2 1047.0,2261.6 1047.0,2261.2 1055.0,2260.0 1055.0,2258.9 1063.0,2260.6 1063.0,2258.7 1069.0,2256.7 1069.0,2259.9 1071.0,2258.8 1071.0,2258.9 1079.0,2257.1 1079.0,2254.3 1083.0,2256.8 1083.0,2259.2 1089.0,2258.3 1089.0,2256.5 1093.0,2256.5 1093.0,2257.4 1099.0,2253.9 1099.0,2254.1 1103.0,2253.5 1103.0,2254.4 1111.0,2253.1 1111.0,2250.6 1117.0,2252.9 1117.0,2255.6 1125.0,2257.4 1125.0,2256.8 1133.0,2253.9 1133.0,2254.1 1141.0,2250.3 1141.0,2250.7 1147.0,2249.0 1147.0,2249.2 1153.0,2251.0 1153.0,2250.4 1161.0,2245.8 1161.0,2244.0 1163.0,2242.2 1163.0,2244.4 1169.0,2242.6 1169.0,2242.4 1177.0,2242.2 1177.0,2239.9 1179.0,2239.9 1179.0,2242.5 1187.0,2240.3 1187.0,2239.5 1195.0,2230.3 1195.0,2231.1 1197.0,2227.9 1197.0,2228.1 1199.0,2225.1 1199.0,2224.8 1205.0,2216.5 1205.0,2215.7 1207.0,2213.4 1207.0,2213.2 1213.0,2204.7 1213.0,2203.4 1219.0,2193.4 1219.0,2195.4 1223.0,2192.9 1223.0,2188.6 1231.0,2191.9 1231.0,2196.1 1233.0,2198.6 1233.0,2199.3 1235.0,2202.5 1235.0,2202.4 1243.0,2212.4 1243.0,2208.9 1245.0,2211.0 1245.0,2214.5 1247.0,2216.4 1247.0,2215.7 1253.0,2223.9 1253.0,2223.4 1255.0,2225.7 1255.0,2226.8 1261.0,2236.4 1261.0,2235.4 1267.0,2242.4 1267.0,2242.9 1273.0,2251.6 1273.0,2252.3 1277.0,2256.7 1277.0,2254.4 1281.0,2257.1 1281.0,2257.0 1283.0,2257.2 1283.0,2259.8 1285.0,2261.5 1285.0,2260.5 1293.0,2270.2 1293.0,2269.8 1301.0,2274.4 1301.0,2275.4 1305.0,2276.6 1305.0,2275.4 1309.0,2277.2 1309.0,2274.9 1315.0,2276.7 1315.0,2278.3 1323.0,2279.5 1323.0,2281.5 1331.0,2281.3 1331.0,2280.4 1333.0,2280.0 1333.0,2280.2 1341.0,2283.9 1341.0,2283.1 1349.0,2286.2 1349.0,2287.0 1353.0,2287.2 1353.0,2288.0 1359.0,2286.1 1359.0,2284.0 1365.0,2286.8 1365.0,2288.2 1373.0,2289.2 1373.0,2288.0 1377.0,2288.1 1377.0,2286.8 1383.0,2286.4 1383.0,2286.7 1387.0,2286.6 1387.0,2284.9 1389.0,2285.7 1389.0,2288.8 1391.0,2288.7 1391.0,2288.9 1395.0,2288.7 1395.0,2287.5 1399.0,2286.1 1399.0,2287.7 1405.0,2287.7 1405.0,2287.7 1407.0,2288.8 1407.0,2289.6 1413.0,2292.0 1413.0,2290.1 1417.0,2293.1 1417.0,2292.2 1421.0,2292.3 1421.0,2293.6 1429.0,2292.0 1429.0,2292.2 1437.0,2292.6 1437.0,2289.3 1441.0,2290.7 1441.0,2293.7 1445.0,2294.5 1445.0,2295.4 1447.0,2296.0 1447.0,2295.9 1449.0,2297.4 1449.0,2296.3 1457.0,2296.6 1457.0,2294.1 1465.0,2295.6 1465.0,2299.6 1473.0,2301.2 1473.0,2301.5 1477.0,2301.1 1477.0,2300.1 1485.0,2299.6 1485.0,2300.4 1489.0,2299.1 1489.0,2298.4 1493.0,2296.4 1493.0,2293.3 1499.0,2293.0 1499.0,2296.8 1503.0,2296.5 1503.0,2295.8 1509.0,2298.5 1509.0,2299.0 1517.0,2298.2 1517.0,2298.9 1525.0,2299.8 1525.0,2297.6 1529.0,2298.1 1529.0,2299.7 1531.0,2299.4 1531.0,2299.1 1539.0,2298.7 1539.0,2298.6 1545.0,2299.0 1545.0,2297.4 1553.0,2296.1 1553.0,2296.7 1555.0,2296.9 1555.0,2298.8 1557.0,2299.1 1557.0,2299.2 1561.0,2300.6 1561.0,2300.6 1565.0,2303.4 1565.0,2300.4 1569.0,2300.3 1569.0,2302.1 1577.0,2303.4 1577.0,2303.8 1583.0,2302.8 1583.0,2301.9 1589.0,2300.6 1589.0,2300.6 1595.0,2301.0 1595.0,2302.2 1603.0,2304.2 1603.0,2304.4 1607.0,2305.7 1607.0,2305.5 1615.0,2304.8 1615.0,2304.9 1617.0,2304.5 1617.0,2303.3 1625.0,2302.7 1625.0,2302.4 1633.0,2303.8 1633.0,2305.0 1641.0,2307.6 1641.0,2307.9 1643.0,2308.3 1643.0,2331.5 1641.0,2331.1 1641.0,2329.9 1635.0,2328.2 1635.0,2326.5 1631.0,2325.2 1631.0,2326.3 1625.0,2325.4 1625.0,2324.3 1623.0,2324.5 1623.0,2326.6 1617.0,2326.9 1617.0,2324.8 1611.0,2325.7 1611.0,2327.0 1607.0,2327.2 1607.0,2327.9 1603.0,2326.6 1603.0,2326.0 1597.0,2324.5 1597.0,2323.2 1591.0,2321.8 1591.0,2323.9 1585.0,2325.7 1585.0,2325.3 1579.0,2325.4 1579.0,2324.1 1577.0,2325.1 1577.0,2324.7 1575.0,2324.3 1575.0,2329.1 1571.0,2328.1 1571.0,2325.5 1567.0,2326.5 1567.0,2327.6 1559.0,2323.9 1559.0,2321.4 1551.0,2319.8 1551.0,2321.3 1549.0,2322.5 1549.0,2322.8 1545.0,2322.8 1545.0,2320.8 1543.0,2321.6 1543.0,2324.3 1541.0,2323.3 1541.0,2320.3 1539.0,2320.0 1539.0,2324.3 1537.0,2324.1 1537.0,2320.5 1529.0,2321.5 1529.0,2321.7 1527.0,2321.0 1527.0,2320.5 1521.0,2319.4 1521.0,2323.0 1515.0,2323.4 1515.0,2320.8 1507.0,2320.9 1507.0,2319.5 1499.0,2317.7 1499.0,2318.1 1491.0,2318.9 1491.0,2318.4 1489.0,2319.8 1489.0,2323.3 1485.0,2324.5 1485.0,2322.2 1479.0,2322.7 1479.0,2321.8 1477.0,2321.8 1477.0,2323.8 1475.0,2324.3 1475.0,2322.9 1471.0,2322.4 1471.0,2322.6 1467.0,2320.4 1467.0,2319.7 1465.0,2320.7 1465.0,2320.9 1463.0,2320.5 1463.0,2319.8 1457.0,2318.7 1457.0,2318.7 1453.0,2318.7 1453.0,2318.9 1447.0,2317.1 1447.0,2318.2 1443.0,2316.7 1443.0,2319.3 1439.0,2319.2 1439.0,2315.2 1433.0,2313.7 1433.0,2318.7 1431.0,2317.9 1431.0,2314.6 1423.0,2317.4 1423.0,2316.3 1419.0,2316.4 1419.0,2316.3 1415.0,2313.8 1415.0,2316.1 1413.0,2315.1 1413.0,2312.6 1409.0,2309.6 1409.0,2310.6 1407.0,2311.2 1407.0,2311.1 1401.0,2310.8 1401.0,2311.3 1399.0,2310.6 1399.0,2310.1 1397.0,2310.8 1397.0,2311.0 1391.0,2312.0 1391.0,2315.5 1387.0,2314.7 1387.0,2310.8 1383.0,2310.9 1383.0,2310.8 1379.0,2309.7 1379.0,2311.1 1373.0,2312.6 1373.0,2310.9 1369.0,2310.8 1369.0,2310.2 1361.0,2305.9 1361.0,2306.5 1353.0,2308.9 1353.0,2309.4 1345.0,2307.7 1345.0,2308.1 1337.0,2303.1 1337.0,2301.7 1329.0,2301.9 1329.0,2304.5 1325.0,2303.7 1325.0,2302.5 1323.0,2303.3 1323.0,2302.5 1315.0,2301.3 1315.0,2301.4 1307.0,2299.2 1307.0,2300.2 1305.0,2298.7 1305.0,2297.1 1303.0,2295.8 1303.0,2295.6 1295.0,2292.9 1295.0,2293.4 1289.0,2287.3 1289.0,2287.1 1285.0,2281.9 1285.0,2282.3 1283.0,2280.7 1283.0,2279.9 1279.0,2278.4 1279.0,2281.7 1273.0,2275.9 1273.0,2273.5 1267.0,2264.7 1267.0,2265.7 1265.0,2262.7 1265.0,2262.2 1259.0,2254.9 1259.0,2253.9 1251.0,2241.6 1251.0,2242.8 1245.0,2236.4 1245.0,2235.8 1237.0,2226.4 1237.0,2225.5 1235.0,2222.7 1235.0,2223.9 1233.0,2220.8 1233.0,2220.0 1225.0,2214.4 1225.0,2215.7 1217.0,2220.0 1217.0,2218.5 1215.0,2222.3 1215.0,2226.0 1209.0,2234.8 1209.0,2230.8 1201.0,2241.4 1201.0,2244.2 1193.0,2254.6 1193.0,2252.8 1191.0,2256.1 1191.0,2257.7 1187.0,2263.2 1187.0,2263.4 1185.0,2262.6 1185.0,2260.7 1183.0,2261.0 1183.0,2261.2 1181.0,2262.3 1181.0,2266.6 1173.0,2267.8 1173.0,2262.5 1165.0,2263.5 1165.0,2264.6 1161.0,2267.8 1161.0,2268.3 1153.0,2273.0 1153.0,2271.8 1151.0,2272.5 1151.0,2273.1 1143.0,2271.7 1143.0,2270.6 1139.0,2272.1 1139.0,2275.4 1133.0,2278.5 1133.0,2277.6 1129.0,2278.5 1129.0,2277.3 1125.0,2279.2 1125.0,2279.4 1117.0,2277.6 1117.0,2278.3 1111.0,2275.9 1111.0,2275.6 1105.0,2276.3 1105.0,2275.5 1097.0,2276.8 1097.0,2279.0 1093.0,2282.4 1093.0,2279.7 1085.0,2280.3 1085.0,2280.0 1081.0,2279.5 1081.0,2279.8 1075.0,2279.4 1075.0,2281.4 1073.0,2282.8 1073.0,2281.3 1071.0,2280.6 1071.0,2281.7 1067.0,2282.8 1067.0,2281.5 1063.0,2283.7 1063.0,2285.6 1055.0,2284.0 1055.0,2281.7 1047.0,2283.0 1047.0,2285.9 1041.0,2287.6 1041.0,2286.1 1033.0,2285.1 1033.0,2285.0 1027.0,2283.8 1027.0,2285.3 1019.0,2283.4 1019.0,2281.1 1017.0,2282.1 1017.0,2283.7 1013.0,2283.7 1013.0,2283.0 1011.0,2282.8 1011.0,2282.2 1003.0,2280.2 1003.0,2281.2 995.0,2282.6 995.0,2281.2 989.0,2283.0 989.0,2283.9 983.0,2281.3 983.0,2280.8 979.0,2279.9 979.0,2279.3 975.0,2277.0 975.0,2279.0 969.0,2277.6 969.0,2274.9 967.0,2274.1 967.0,2274.9 961.0,2275.8 961.0,2276.6 959.0,2276.2 959.0,2276.2 953.0,2275.7 953.0,2276.2 947.0,2272.7 947.0,2272.8 945.0,2272.8 945.0,2270.7 937.0,2264.3 937.0,2266.8 933.0,2265.1 933.0,2262.9 925.0,2257.9 925.0,2259.4 923.0,2258.5 923.0,2257.7 915.0,2252.1 915.0,2251.1 911.0,2250.3 911.0,2250.9 907.0,2246.6 907.0,2246.8 903.0,2241.7 903.0,2242.5 899.0,2238.4 899.0,2237.0 891.0,2226.0 891.0,2231.3 885.0,2221.6 885.0,2217.9 881.0,2212.1 881.0,2210.7 877.0,2204.8 877.0,2207.3 869.0,2197.0 869.0,2194.1 867.0,2191.6 867.0,2192.8 863.0,2189.5 863.0,2190.3 857.0,2189.1 857.0,2187.6 849.0,2188.0 849.0,2189.3 841.0,2198.6 841.0,2197.1 835.0,2203.9 835.0,2204.1 827.0,2214.6 827.0,2214.0 823.0,2219.6 823.0,2219.4 821.0,2221.5 821.0,2221.5 817.0,2223.0 817.0,2223.0 813.0,2227.5 813.0,2229.9 811.0,2232.8 811.0,2231.1 805.0,2234.7 805.0,2235.3 801.0,2235.8 801.0,2238.2 795.0,2237.8 795.0,2234.1 787.0,2231.9 787.0,2233.4 781.0,2232.6 781.0,2230.9 773.0,2232.5 773.0,2234.1 769.0,2233.7 769.0,2233.1 767.0,2232.4 767.0,2233.1 763.0,2228.3 763.0,2226.6 761.0,2225.3 761.0,2227.1 753.0,2219.7 753.0,2221.2 749.0,2218.9 749.0,2216.3 747.0,2214.2 747.0,2213.5 741.0,2207.3 741.0,2207.3 733.0,2198.7 733.0,2200.0 729.0,2195.7 729.0,2194.4 725.0,2190.2 725.0,2191.5 717.0,2185.7 717.0,2188.6 715.0,2188.0 715.0,2188.1 713.0,2185.9 713.0,2186.7 707.0,2185.3 707.0,2183.3 705.0,2183.6 705.0,2180.5 703.0,2180.2 703.0,2181.6 699.0,2180.9 699.0,2181.0 691.0,2183.7 691.0,2182.9 689.0,2183.6 689.0,2183.3 683.0,2187.4 683.0,2188.6 677.0,2192.1 677.0,2192.6 669.0,2194.1 669.0,2194.0 667.0,2194.5 667.0,2194.9 665.0,2194.1 665.0,2192.2 661.0,2193.0 661.0,2193.2 657.0,2193.5 657.0,2195.2 655.0,2196.2 655.0,2194.0 651.0,2195.0 651.0,2196.4 649.0,2197.5 649.0,2198.7 645.0,2198.1 645.0,2195.4 641.0,2194.8 641.0,2195.0 637.0,2194.9 637.0,2194.8 633.0,2195.6 633.0,2200.0 625.0,2201.8 625.0,2198.6 623.0,2197.9 623.0,2199.4 615.0,2197.9 615.0,2195.5 611.0,2195.4 611.0,2196.5 607.0,2194.2 607.0,2196.9 599.0,2195.7 599.0,2191.7 595.0,2191.9 595.0,2193.7 591.0,2192.6 591.0,2191.5 583.0,2190.6 583.0,2190.7 577.0,2190.3 577.0,2190.5 569.0,2192.2 569.0,2191.2 561.0,2193.4 561.0,2196.0 553.0,2193.5 553.0,2192.6 549.0,2193.6 549.0,2192.2 543.0,2195.0 543.0,2196.5 541.0,2197.8 541.0,2196.3 535.0,2194.0 535.0,2196.5 531.0,2194.4 531.0,2191.6 527.0,2190.7 527.0,2190.6 519.0,2189.8 519.0,2190.5 511.0,2186.8 511.0,2188.2 509.0,2187.2 509.0,2190.3 505.0,2192.5 505.0,2187.2 501.0,2190.2 501.0,2193.2 497.0,2195.2 497.0,2192.6 491.0,2191.5 491.0,2198.7 483.0,2196.8 483.0,2189.6 475.0,2191.0 475.0,2194.4 473.0,2194.0 473.0,2190.2 471.0,2191.7 471.0,2193.7 463.0,2191.2 463.0,2189.8 459.0,2189.1 459.0,2189.9 455.0,2187.9 455.0,2187.2 449.0,2187.8 449.0,2187.5 447.0,2186.5 447.0,2188.1 445.0,2188.1 445.0,2187.1 437.0,2184.3 437.0,2184.7 435.0,2185.7 435.0,2189.8 431.0,2191.0 431.0,2186.2 429.0,2185.8 429.0,2185.7 425.0,2185.7 425.0,2186.1 417.0,2182.9 417.0,2182.4 413.0,2183.0 413.0,2182.7 405.0,2183.5 405.0,2184.1 397.0,2181.9 397.0,2181.8 393.0,2180.1 393.0,2187.0 387.0,2187.0 387.0,2181.3 381.0,2180.5 381.0,2178.6 375.0,2178.1 375.0,2178.0 367.0,2179.1 367.0,2181.0 363.0,2178.2 363.0,2176.8 357.0,2174.3 357.0,2174.9 349.0,2171.5 349.0,2171.2 345.0,2170.4 345.0,2177.0 343.0,2175.8 343.0,2173.5 341.0,2172.1 341.0,2168.5 337.0,2169.0 337.0,2170.3 335.0,2169.0 335.0,2168.4 333.0,2168.6 333.0,2168.2 327.0,2164.1 327.0,2163.0 323.0,2158.9 323.0,2158.8 317.0,2156.9 317.0,2161.4 313.0,2160.3 313.0,2161.4 305.0,2158.9 305.0,2154.1 299.0,2153.7 299.0,2153.3 295.0,2152.5 295.0,2152.6 291.0,2151.4 291.0,2150.7 285.0,2146.7 285.0,2146.4 277.0,2139.5 277.0,2141.4 273.0,2137.4 273.0,2136.4 265.0,2127.4 265.0,2126.9 257.0,2120.3 257.0,2120.9 251.0,2115.6 251.0,2114.7 249.0,2113.5 249.0,2118.3 247.0,2116.0 247.0,2112.6 243.0,2107.9 243.0,2109.8 239.0,2106.6 239.0,2103.6 237.0,2101.6 237.0,2100.9 229.0,2094.7 229.0,2101.3 221.0,2090.5 221.0,2085.0 217.0,2079.0 217.0,2078.0 209.0,2067.5 209.0,2068.7 201.0,2057.1 201.0,2056.5 197.0,2050.3 197.0,2050.3 193.0,2041.6 193.0,2043.8 189.0,2033.7"/><polyline fill="none" stroke="#0000FF" stroke-width="11" stroke-linejoin="round" points="155.9,1846.0 157.6,1848.0 159.0,1850.1 155.9,1852.1 159.2,1854.1 157.5,1856.2 156.8,1858.2 156.8,1860.3 157.3,1862.3 158.3,1864.3 159.1,1866.4 158.6,1868.4 159.2,1870.4 158.2,1872.5 157.9,1874.5 158.0,1876.5 159.7,1878.5 160.5,1880.5 159.3,1882.6 159.3,1884.6 160.1,1886.7 160.5,1888.7 159.4,1890.7 160.4,1892.8 160.3,1894.8 159.4,1896.8 160.5,1898.8 161.0,1900.8 160.8,1902.9 160.9,1904.9 160.7,1906.9 162.3,1908.9 162.7,1911.0 162.7,1913.0 161.6,1915.0 163.9,1917.0 163.1,1919.0 164.7,1921.0 165.5,1923.1 165.5,1925.1 164.2,1927.1 165.3,1929.1 163.4,1931.1 166.8,1933.1 164.0,1935.2 165.3,1937.2 166.4,1939.2 165.6,1941.2 165.4,1943.2 168.0,1945.2 166.4,1947.2 168.0,1949.1 169.9,1951.1 168.4,1953.1 169.8,1955.0 170.6,1957.0 170.2,1958.9 169.9,1960.9 170.7,1962.8 171.0,1964.7 172.9,1966.7 174.2,1968.6 174.0,1970.6 174.2,1972.5 177.3,1974.5 175.2,1976.4 175.9,1978.3 178.5,1980.3 176.7,1982.2 178.0,1984.2 178.4,1986.1 180.7,1988.1 179.8,1990.1 180.1,1992.0 182.2,1994.0 182.4,1995.9 182.2,1997.9 183.8,1999.8 184.2,2001.8 184.1,2003.7 185.2,2005.6 186.5,2007.6 187.1,2009.5 187.0,2011.4 187.8,2013.3 190.8,2015.2 190.9,2017.1 190.4,2018.9 191.7,2020.8 192.2,2022.6 192.6,2024.5 194.2,2026.4 194.3,2028.2 195.0,2030.1 196.1,2031.9 197.2,2033.7 197.5,2035.6 198.8,2037.4 199.6,2039.2 200.3,2041.0 202.1,2042.8 201.7,2044.6 203.4,2046.3 205.4,2047.9 207.3,2049.5 205.8,2051.1 208.8,2052.7 210.7,2054.2 210.4,2055.8 212.3,2057.3 214.8,2058.8 214.9,2060.4 215.6,2061.9 216.7,2063.4 218.5,2065.0 220.1,2066.5 220.1,2068.0 222.5,2069.6 223.7,2071.2 224.9,2072.8 226.4,2074.4 227.5,2076.0 230.1,2077.7 230.4,2079.1 231.7,2080.5 232.9,2081.8 233.8,2083.2 235.5,2084.6 237.7,2086.0 237.7,2087.5 240.4,2088.9 242.1,2090.4 243.6,2091.9 245.1,2093.4 244.1,2094.9 247.8,2096.5 247.7,2098.0 250.3,2099.5 250.7,2101.1 251.9,2102.6 254.0,2104.1 256.4,2105.7 257.7,2107.2 258.9,2108.7 259.7,2110.1 264.2,2111.6 265.1,2113.0 265.2,2114.5 266.6,2115.8 268.5,2117.2"/><polyline fill="none" stroke="#0000FF" stroke-width="11" stroke-linejoin="round" points="718.0,2173.6 719.9,2174.9 721.8,2176.1 723.8,2177.4 724.2,2178.7 727.6,2180.2 726.0,2181.7 729.4,2183.3 730.4,2185.0 730.3,2186.6 733.5,2188.2 735.3,2189.9 735.6,2191.5 737.9,2193.0 739.2,2194.5 741.3,2195.9 742.7,2197.4 742.0,2198.9 745.0,2200.4 746.0,2201.9 749.4,2203.4 749.2,2204.9 750.8,2206.3 752.8,2207.7 754.0,2209.0"/><polyline fill="none" stroke="#0000FF" stroke-width="11" stroke-linejoin="round" points="819.5,2212.0 821.1,2210.8 822.6,2209.5 823.0,2208.1 824.3,2206.6 826.0,2205.0 827.6,2203.4 827.6,2201.8 829.7,2200.1 831.4,2198.5 833.4,2196.8 832.8,2195.2 836.0,2193.6 835.1,2192.1 838.3,2190.7 838.5,2189.3 839.8,2187.6 842.7,2185.7 843.8,2183.9 845.4,2182.1 845.4,2180.4 848.7,2178.8 850.2,2177.5 849.2,2176.4"/><polyline fill="none" stroke="#0000FF" stroke-width="11" stroke-linejoin="round" points="867.7,2180.6 868.7,2181.8 868.9,2182.9 871.6,2184.2 871.6,2185.6 874.1,2187.1 875.5,2188.7 876.3,2190.3 877.6,2192.1 877.5,2193.9 880.9,2195.7 882.0,2197.5 880.7,2199.4 882.7,2201.2 882.6,2203.0 884.7,2204.8 886.6,2206.5 887.7,2208.2 889.8,2209.8 890.2,2211.5 891.8,2213.2 893.2,2214.9 894.1,2216.5 895.8,2218.2 895.8,2219.8 897.8,2221.5 898.1,2223.1 899.8,2224.7 900.5,2226.3 902.6,2227.9 904.1,2229.5 905.2,2231.0 908.0,2232.5 908.6,2234.0 909.6,2235.4 912.1,2236.7 912.7,2238.1"/><polyline fill="none" stroke="#0000FF" stroke-width="11" stroke-linejoin="round" points="1187.7,2244.7 1189.5,2243.5 1189.6,2242.2 1191.7,2240.7 1193.9,2239.3 1192.9,2237.7 1195.5,2236.1 1198.3,2234.5 1199.3,2232.8 1200.5,2231.1 1200.1,2229.5 1202.8,2227.8 1204.9,2226.2 1205.7,2224.6 1208.1,2223.1 1208.1,2221.6 1210.9,2219.8 1213.0,2217.8 1211.9,2215.9 1214.1,2213.9 1215.2,2211.9 1217.1,2210.1 1217.8,2208.5 1220.9,2207.1 1221.5,2206.0"/><polyline fill="none" stroke="#0000FF" stroke-width="11" stroke-linejoin="round" points="1230.7,2207.9 1232.1,2209.2 1233.2,2210.7 1235.7,2212.4 1237.8,2214.1 1238.8,2215.9 1238.9,2217.8 1241.5,2219.7 1242.4,2221.6 1244.5,2223.4 1246.4,2225.1 1245.7,2226.7 1248.1,2228.2 1247.9,2229.8 1251.0,2231.4 1252.1,2233.1 1253.8,2234.7 1255.1,2236.3 1254.6,2237.9 1257.4,2239.6 1256.9,2241.2 1258.6,2242.9 1260.0,2244.6 1261.0,2246.3 1261.0,2248.0 1263.6,2249.5 1264.9,2251.0 1266.5,2252.6 1266.6,2254.3 1268.0,2255.9 1270.7,2257.6 1271.3,2259.2 1272.9,2260.9 1272.8,2262.5 1274.2,2264.2 1276.9,2265.8 1277.3,2267.4 1279.6,2268.9 1279.9,2270.4 1281.8,2271.8 1282.0,2273.1 1286.2,2274.4"/>
<polygon fill="#FF0000" points="201.0,2126.3 209.0,2145.0 209.0,2143.6 215.0,2152.7 215.0,2153.8 221.0,2160.9 221.0,2161.0 223.0,2162.1 223.0,2162.0 227.0,2165.7 227.0,2164.0 235.0,2173.5 235.0,2173.3 241.0,2182.0 241.0,2181.4 249.0,2187.5 249.0,2187.3 251.0,2188.8 251.0,2190.0 253.0,2191.1 253.0,2185.8 255.0,2187.1 255.0,2192.9 257.0,2194.9 257.0,2188.1 265.0,2194.3 265.0,2198.9 267.0,2201.9 267.0,2203.1 271.0,2207.1 271.0,2204.9 275.0,2206.8 275.0,2209.6 277.0,2210.5 277.0,2210.3 283.0,2214.4 283.0,2215.7 285.0,2216.3 285.0,2214.9 287.0,2215.9 287.0,2216.8 293.0,2219.6 293.0,2219.8 299.0,2220.9 299.0,2221.4 301.0,2221.6 301.0,2221.3 309.0,2221.8 309.0,2221.9 317.0,2225.8 317.0,2226.3 325.0,2231.5 325.0,2231.5 329.0,2234.1 329.0,2232.9 333.0,2235.0 333.0,2236.6 335.0,2237.9 335.0,2236.1 339.0,2238.5 339.0,2239.1 343.0,2240.5 343.0,2241.3 349.0,2246.1 349.0,2244.9 351.0,2247.5 351.0,2242.3 353.0,2243.2 353.0,2248.8 361.0,2250.8 361.0,2251.5 363.0,2252.0 363.0,2249.0 369.0,2254.3 369.0,2257.9 373.0,2260.1 373.0,2257.6 379.0,2260.5 379.0,2262.2 381.0,2263.4 381.0,2262.2 387.0,2267.2 387.0,2268.6 389.0,2270.6 389.0,2269.4 395.0,2271.9 395.0,2273.5 399.0,2275.6 399.0,2274.9 407.0,2275.5 407.0,2272.0 409.0,2272.5 409.0,2276.9 415.0,2275.6 415.0,2273.4 421.0,2275.8 421.0,2277.9 423.0,2277.7 423.0,2276.0 427.0,2278.6 427.0,2274.1 429.0,2274.6 429.0,2280.2 433.0,2283.0 433.0,2282.5 439.0,2284.6 439.0,2285.8 445.0,2288.1 445.0,2287.8 453.0,2291.0 453.0,2286.8 455.0,2286.9 455.0,2291.6 459.0,2293.2 459.0,2292.6 467.0,2294.0 467.0,2291.4 471.0,2294.0 471.0,2296.8 475.0,2298.6 475.0,2297.0 481.0,2298.6 481.0,2293.6 487.0,2295.3 487.0,2300.6 489.0,2299.6 489.0,2300.8 497.0,2303.8 497.0,2303.8 505.0,2304.7 505.0,2304.1 513.0,2306.3 513.0,2306.7 521.0,2307.8 521.0,2307.2 527.0,2306.4 527.0,2306.8 535.0,2308.7 535.0,2308.8 541.0,2308.6 541.0,2304.9 545.0,2303.6 545.0,2307.8 553.0,2306.9 553.0,2306.2 555.0,2306.9 555.0,2307.1 561.0,2307.0 561.0,2307.7 563.0,2307.6 563.0,2307.1 571.0,2304.4 571.0,2303.0 579.0,2305.7 579.0,2306.9 585.0,2305.8 585.0,2306.1 587.0,2306.8 587.0,2307.0 589.0,2305.8 589.0,2304.6 595.0,2304.6 595.0,2304.8 599.0,2302.9 599.0,2301.5 603.0,2300.5 603.0,2301.3 607.0,2300.5 607.0,2299.2 609.0,2299.7 609.0,2299.8 611.0,2301.4 611.0,2301.6 619.0,2302.1 619.0,2304.6 627.0,2301.9 627.0,2301.2 631.0,2301.0 631.0,2301.5 635.0,2300.2 635.0,2299.3 639.0,2298.4 639.0,2298.2 643.0,2297.1 643.0,2298.0 645.0,2297.3 645.0,2296.7 651.0,2295.8 651.0,2295.7 655.0,2295.4 655.0,2289.4 661.0,2290.1 661.0,2296.9 667.0,2294.4 667.0,2294.6 671.0,2292.1 671.0,2290.9 675.0,2290.5 675.0,2291.0 677.0,2290.4 677.0,2289.1 685.0,2288.1 685.0,2290.0 689.0,2286.7 689.0,2285.8 697.0,2279.8 697.0,2279.2 703.0,2275.9 703.0,2277.5 707.0,2275.2 707.0,2273.2 709.0,2270.4 709.0,2272.2 715.0,2269.1 715.0,2266.8 723.0,2269.5 723.0,2270.0 731.0,2279.7 731.0,2278.9 733.0,2282.0 733.0,2282.5 737.0,2290.0 737.0,2292.0 743.0,2303.7 743.0,2301.5 745.0,2305.8 745.0,2307.6 751.0,2316.7 751.0,2314.9 753.0,2315.9 753.0,2317.4 759.0,2322.0 759.0,2321.6 763.0,2324.5 763.0,2325.0 765.0,2325.9 765.0,2323.0 769.0,2326.7 769.0,2329.4 775.0,2334.1 775.0,2334.0 779.0,2337.8 779.0,2337.5 781.0,2337.9 781.0,2337.3 783.0,2338.6 783.0,2340.4 791.0,2342.6 791.0,2342.7 799.0,2339.8 799.0,2338.9 805.0,2337.3 805.0,2335.5 811.0,2330.8 811.0,2332.2 815.0,2329.3 815.0,2328.4 819.0,2323.2 819.0,2325.0 827.0,2319.6 827.0,2320.3 835.0,2307.2 835.0,2306.6 843.0,2291.8 843.0,2291.0 845.0,2288.0 845.0,2288.6 853.0,2282.4 853.0,2281.7 861.0,2278.4 861.0,2279.4 867.0,2280.5 867.0,2278.2 873.0,2287.1 873.0,2289.1 879.0,2300.2 879.0,2299.5 885.0,2309.5 885.0,2310.4 891.0,2320.4 891.0,2320.1 893.0,2324.2 893.0,2324.8 897.0,2331.4 897.0,2331.2 901.0,2341.6 901.0,2341.4 909.0,2354.2 909.0,2354.1 913.0,2359.2 913.0,2358.3 921.0,2365.0 921.0,2365.0 923.0,2367.1 923.0,2368.3 925.0,2370.3 925.0,2369.9 929.0,2372.8 929.0,2373.1 935.0,2377.8 935.0,2377.6 937.0,2378.8 937.0,2377.2 941.0,2377.5 941.0,2378.3 949.0,2378.9 949.0,2377.9 951.0,2378.3 951.0,2380.1 957.0,2382.6 957.0,2382.1 959.0,2383.1 959.0,2379.4 963.0,2381.9 963.0,2382.8 969.0,2382.4 969.0,2384.3 971.0,2384.2 971.0,2385.7 977.0,2384.4 977.0,2384.9 983.0,2384.0 983.0,2383.2 991.0,2385.3 991.0,2385.8 995.0,2387.1 995.0,2385.3 999.0,2386.0 999.0,2386.8 1001.0,2387.3 1001.0,2387.2 1007.0,2385.9 1007.0,2386.1 1009.0,2385.6 1009.0,2385.5 1015.0,2385.0 1015.0,2385.9 1021.0,2388.1 1021.0,2387.4 1029.0,2390.0 1029.0,2390.8 1037.0,2390.5 1037.0,2387.8 1045.0,2385.6 1045.0,2387.0 1053.0,2385.7 1053.0,2384.2 1061.0,2385.4 1061.0,2388.0 1063.0,2389.0 1063.0,2388.6 1065.0,2388.4 1065.0,2388.2 1071.0,2387.0 1071.0,2386.7 1075.0,2384.3 1075.0,2385.1 1079.0,2382.9 1079.0,2383.0 1087.0,2384.3 1087.0,2384.0 1089.0,2383.4 1089.0,2380.2 1091.0,2379.3 1091.0,2381.0 1095.0,2379.9 1095.0,2381.1 1097.0,2380.9 1097.0,2377.4 1099.0,2374.9 1099.0,2379.3 1101.0,2380.1 1101.0,2378.9 1103.0,2378.1 1103.0,2378.8 1109.0,2376.7 1109.0,2374.7 1113.0,2376.9 1113.0,2379.2 1121.0,2377.4 1121.0,2375.0 1123.0,2375.7 1123.0,2378.0 1125.0,2375.9 1125.0,2375.8 1127.0,2374.5 1127.0,2374.1 1131.0,2374.3 1131.0,2375.1 1133.0,2374.1 1133.0,2373.1 1141.0,2374.7 1141.0,2375.3 1145.0,2375.9 1145.0,2376.0 1147.0,2376.6 1147.0,2374.6 1149.0,2373.5 1149.0,2374.9 1155.0,2374.6 1155.0,2373.3 1159.0,2371.3 1159.0,2373.3 1163.0,2371.6 1163.0,2371.7 1171.0,2367.2 1171.0,2366.6 1177.0,2362.3 1177.0,2358.8 1185.0,2352.9 1185.0,2355.0 1193.0,2345.5 1193.0,2347.7 1197.0,2342.3 1197.0,2341.5 1205.0,2326.8 1205.0,2327.1 1211.0,2319.4 1211.0,2318.9 1215.0,2311.1 1215.0,2311.0 1221.0,2300.8 1221.0,2299.7 1223.0,2298.3 1223.0,2299.2 1227.0,2297.4 1227.0,2297.7 1229.0,2299.8 1229.0,2298.5 1231.0,2300.7 1231.0,2298.8 1239.0,2312.6 1239.0,2316.7 1245.0,2324.6 1245.0,2324.8 1247.0,2327.4 1247.0,2326.5 1255.0,2338.7 1255.0,2339.4 1259.0,2347.3 1259.0,2345.4 1267.0,2357.6 1267.0,2359.0 1269.0,2362.1 1269.0,2361.6 1275.0,2372.1 1275.0,2370.7 1277.0,2374.3 1277.0,2375.9 1279.0,2379.0 1279.0,2376.4 1283.0,2382.9 1283.0,2386.0 1287.0,2390.1 1287.0,2390.3 1289.0,2391.3 1289.0,2391.4 1291.0,2393.0 1291.0,2393.3 1297.0,2396.3 1297.0,2394.8 1303.0,2397.8 1303.0,2397.0 1307.0,2399.9 1307.0,2400.5 1309.0,2401.7 1309.0,2402.4 1317.0,2406.3 1317.0,2403.6 1321.0,2405.4 1321.0,2408.0 1327.0,2410.2 1327.0,2410.4 1335.0,2409.0 1335.0,2409.3 1337.0,2409.7 1337.0,2407.3 1345.0,2407.5 1345.0,2409.2 1351.0,2409.6 1351.0,2408.3 1359.0,2407.8 1359.0,2408.3 1365.0,2408.2 1365.0,2409.4 1373.0,2410.5 1373.0,2410.6 1377.0,2410.0 1377.0,2409.5 1385.0,2411.1 1385.0,2407.6 1387.0,2407.2 1387.0,2411.7 1395.0,2411.4 1395.0,2409.0 1399.0,2408.4 1399.0,2410.5 1401.0,2410.6 1401.0,2410.7 1403.0,2411.7 1403.0,2412.1 1409.0,2414.9 1409.0,2411.1 1415.0,2414.6 1415.0,2416.3 1421.0,2417.0 1421.0,2417.6 1425.0,2416.6 1425.0,2415.5 1427.0,2414.9 1427.0,2415.5 1429.0,2413.7 1429.0,2414.7 1433.0,2412.9 1433.0,2411.1 1441.0,2412.4 1441.0,2413.1 1445.0,2414.7 1445.0,2416.4 1451.0,2416.0 1451.0,2415.9 1459.0,2420.2 1459.0,2418.3 1465.0,2420.6 1465.0,2423.0 1469.0,2423.9 1469.0,2423.2 1475.0,2424.5 1475.0,2421.1 1481.0,2421.7 1481.0,2424.8 1489.0,2425.4 1489.0,2423.2 1495.0,2423.6 1495.0,2426.6 1503.0,2427.2 1503.0,2426.3 1509.0,2427.3 1509.0,2428.3 1517.0,2426.4 1517.0,2425.8 1523.0,2425.1 1523.0,2424.9 1525.0,2425.9 1525.0,2425.0 1533.0,2425.6 1533.0,2425.4 1537.0,2424.0 1537.0,2425.4 1541.0,2425.1 1541.0,2425.1 1545.0,2423.7 1545.0,2422.4 1547.0,2422.1 1547.0,2423.5 1549.0,2423.4 1549.0,2423.6 1551.0,2423.8 1551.0,2423.2 1553.0,2422.4 1553.0,2423.1 1561.0,2423.9 1561.0,2423.2 1565.0,2426.8 1565.0,2427.4 1571.0,2431.2 1571.0,2430.3 1577.0,2430.0 1577.0,2430.8 1579.0,2429.6 1579.0,2425.3 1581.0,2424.5 1581.0,2428.1 1589.0,2428.1 1589.0,2428.4 1593.0,2430.8 1593.0,2431.0 1601.0,2433.1 1601.0,2431.2 1603.0,2430.5 1603.0,2432.6 1609.0,2432.9 1609.0,2428.8 1617.0,2429.6 1617.0,2433.6 1619.0,2433.3 1619.0,2431.3 1623.0,2430.3 1623.0,2428.1 1629.0,2429.0 1629.0,2432.6 1631.0,2432.2 1631.0,2430.2 1635.0,2428.9 1635.0,2430.0 1641.0,2432.6 1641.0,2431.7 1643.0,2430.3 1643.0,2454.4 1641.0,2455.8 1641.0,2454.7 1637.0,2452.5 1637.0,2452.5 1629.0,2453.8 1629.0,2458.8 1627.0,2457.8 1627.0,2453.9 1621.0,2454.5 1621.0,2454.1 1617.0,2454.9 1617.0,2457.4 1611.0,2456.9 1611.0,2455.4 1605.0,2454.6 1605.0,2453.8 1599.0,2454.6 1599.0,2454.3 1593.0,2452.5 1593.0,2452.7 1591.0,2452.2 1591.0,2451.4 1587.0,2448.2 1587.0,2448.1 1579.0,2450.3 1579.0,2450.1 1573.0,2452.6 1573.0,2453.0 1565.0,2448.2 1565.0,2449.4 1559.0,2445.3 1559.0,2443.6 1551.0,2444.0 1551.0,2446.1 1545.0,2446.4 1545.0,2444.9 1541.0,2446.3 1541.0,2446.9 1539.0,2447.2 1539.0,2446.8 1531.0,2448.3 1531.0,2448.0 1529.0,2448.0 1529.0,2448.6 1523.0,2446.8 1523.0,2447.3 1521.0,2447.8 1521.0,2446.6 1517.0,2446.9 1517.0,2449.7 1515.0,2451.0 1515.0,2448.0 1509.0,2448.5 1509.0,2449.1 1503.0,2448.2 1503.0,2449.5 1497.0,2448.2 1497.0,2446.8 1491.0,2446.3 1491.0,2447.7 1483.0,2449.0 1483.0,2447.1 1479.0,2445.7 1479.0,2448.7 1477.0,2448.5 1477.0,2446.3 1473.0,2445.8 1473.0,2445.7 1471.0,2446.2 1471.0,2447.2 1465.0,2444.9 1465.0,2445.2 1459.0,2442.9 1459.0,2442.2 1455.0,2439.3 1455.0,2439.1 1449.0,2438.7 1449.0,2438.7 1445.0,2438.2 1445.0,2441.6 1439.0,2439.8 1439.0,2436.1 1435.0,2435.5 1435.0,2436.4 1427.0,2439.4 1427.0,2439.3 1425.0,2439.9 1425.0,2440.7 1419.0,2443.1 1419.0,2442.1 1411.0,2437.4 1411.0,2436.8 1407.0,2435.4 1407.0,2435.7 1399.0,2432.3 1399.0,2431.3 1391.0,2431.4 1391.0,2431.7 1383.0,2432.2 1383.0,2432.3 1379.0,2431.5 1379.0,2432.3 1377.0,2432.3 1377.0,2431.5 1373.0,2432.1 1373.0,2432.8 1365.0,2431.7 1365.0,2430.9 1357.0,2430.3 1357.0,2431.8 1353.0,2433.4 1353.0,2435.7 1345.0,2434.9 1345.0,2431.0 1343.0,2430.0 1343.0,2432.2 1339.0,2432.2 1339.0,2430.9 1335.0,2431.2 1335.0,2430.4 1329.0,2433.4 1329.0,2435.4 1323.0,2432.6 1323.0,2435.3 1319.0,2433.6 1319.0,2432.2 1317.0,2431.2 1317.0,2428.7 1311.0,2425.7 1311.0,2425.1 1307.0,2423.1 1307.0,2425.7 1299.0,2419.2 1299.0,2419.3 1297.0,2419.9 1297.0,2418.3 1295.0,2416.4 1295.0,2417.5 1293.0,2417.2 1293.0,2414.5 1287.0,2411.1 1287.0,2411.2 1281.0,2404.8 1281.0,2404.6 1273.0,2390.5 1273.0,2392.9 1265.0,2379.9 1265.0,2378.4 1261.0,2372.1 1261.0,2372.2 1257.0,2365.4 1257.0,2364.7 1251.0,2354.2 1251.0,2354.4 1249.0,2351.8 1249.0,2355.2 1243.0,2346.5 1243.0,2342.6 1235.0,2329.9 1235.0,2335.0 1233.0,2331.6 1233.0,2330.0 1231.0,2326.9 1231.0,2324.3 1225.0,2319.2 1225.0,2319.9 1221.0,2323.9 1221.0,2324.3 1213.0,2338.9 1213.0,2337.3 1209.0,2342.9 1209.0,2343.7 1201.0,2355.8 1201.0,2356.0 1195.0,2367.4 1195.0,2365.9 1189.0,2374.6 1189.0,2376.5 1187.0,2377.4 1187.0,2376.8 1185.0,2378.9 1185.0,2378.6 1179.0,2382.5 1179.0,2384.4 1171.0,2390.8 1171.0,2389.6 1169.0,2391.6 1169.0,2390.3 1163.0,2392.8 1163.0,2392.9 1159.0,2394.6 1159.0,2394.8 1155.0,2396.7 1155.0,2395.9 1153.0,2396.3 1153.0,2398.7 1149.0,2398.6 1149.0,2396.6 1141.0,2396.3 1141.0,2398.5 1137.0,2398.1 1137.0,2396.7 1135.0,2396.4 1135.0,2397.3 1129.0,2396.8 1129.0,2396.4 1121.0,2399.5 1121.0,2399.7 1113.0,2401.5 1113.0,2400.7 1109.0,2398.5 1109.0,2400.0 1105.0,2402.3 1105.0,2405.5 1103.0,2405.3 1103.0,2400.3 1097.0,2402.9 1097.0,2402.8 1089.0,2404.9 1089.0,2404.8 1087.0,2405.4 1087.0,2405.3 1079.0,2404.1 1079.0,2406.2 1077.0,2407.3 1077.0,2405.1 1071.0,2408.7 1071.0,2413.2 1067.0,2413.0 1067.0,2413.3 1059.0,2413.6 1059.0,2408.8 1055.0,2406.9 1055.0,2407.5 1047.0,2409.5 1047.0,2408.9 1045.0,2409.7 1045.0,2409.3 1037.0,2411.5 1037.0,2412.0 1033.0,2412.3 1033.0,2414.1 1029.0,2414.1 1029.0,2413.5 1027.0,2413.7 1027.0,2413.8 1019.0,2410.3 1019.0,2409.9 1013.0,2408.1 1013.0,2407.2 1007.0,2408.8 1007.0,2411.5 999.0,2412.4 999.0,2409.2 993.0,2408.2 993.0,2410.8 985.0,2409.5 985.0,2407.9 977.0,2407.2 977.0,2412.3 973.0,2413.5 973.0,2412.3 969.0,2412.6 969.0,2412.4 967.0,2411.7 967.0,2408.0 965.0,2408.3 965.0,2409.2 957.0,2406.6 957.0,2406.5 953.0,2404.9 953.0,2404.7 951.0,2403.9 951.0,2404.8 945.0,2403.5 945.0,2405.5 943.0,2406.2 943.0,2404.8 937.0,2404.2 937.0,2401.7 933.0,2399.9 933.0,2401.4 929.0,2397.3 929.0,2396.8 923.0,2391.9 923.0,2392.2 919.0,2388.1 919.0,2386.9 913.0,2382.3 913.0,2382.0 905.0,2370.8 905.0,2370.7 901.0,2364.2 901.0,2364.6 893.0,2347.7 893.0,2348.2 885.0,2334.2 885.0,2334.0 883.0,2332.4 883.0,2332.0 875.0,2316.1 875.0,2316.3 873.0,2312.9 873.0,2313.8 865.0,2304.6 865.0,2304.7 859.0,2305.3 859.0,2304.9 853.0,2307.1 853.0,2306.0 849.0,2308.4 849.0,2310.1 847.0,2312.8 847.0,2312.5 845.0,2313.8 845.0,2313.8 843.0,2316.8 843.0,2316.8 841.0,2319.9 841.0,2319.9 837.0,2327.7 837.0,2326.3 835.0,2330.3 835.0,2331.1 829.0,2340.6 829.0,2342.4 827.0,2346.0 827.0,2344.7 825.0,2347.0 825.0,2347.6 823.0,2348.1 823.0,2349.3 819.0,2352.0 819.0,2350.4 817.0,2354.2 817.0,2353.0 813.0,2356.2 813.0,2356.6 809.0,2360.3 809.0,2360.8 803.0,2362.4 803.0,2361.6 799.0,2363.8 799.0,2363.8 793.0,2365.3 793.0,2367.0 789.0,2369.1 789.0,2368.3 781.0,2364.3 781.0,2363.4 773.0,2358.4 773.0,2358.7 765.0,2351.2 765.0,2351.3 761.0,2348.5 761.0,2349.0 757.0,2346.3 757.0,2345.7 751.0,2342.0 751.0,2343.8 743.0,2330.5 743.0,2328.9 735.0,2313.8 735.0,2313.1 733.0,2309.3 733.0,2315.4 731.0,2312.3 731.0,2307.3 727.0,2303.1 727.0,2305.2 721.0,2297.1 721.0,2297.3 717.0,2296.7 717.0,2297.9 709.0,2301.8 709.0,2296.8 703.0,2301.9 703.0,2302.4 695.0,2307.5 695.0,2308.9 693.0,2309.2 693.0,2308.6 689.0,2312.8 689.0,2311.9 683.0,2315.9 683.0,2317.1 681.0,2317.1 681.0,2316.3 679.0,2317.7 679.0,2321.9 673.0,2321.8 673.0,2317.0 669.0,2317.8 669.0,2318.3 661.0,2322.6 661.0,2322.2 657.0,2321.8 657.0,2323.1 655.0,2322.9 655.0,2323.4 649.0,2324.1 649.0,2323.8 641.0,2326.2 641.0,2330.5 639.0,2330.5 639.0,2328.0 635.0,2329.0 635.0,2326.7 633.0,2327.1 633.0,2330.5 629.0,2331.2 629.0,2331.6 621.0,2334.2 621.0,2332.0 617.0,2332.9 617.0,2335.5 613.0,2335.9 613.0,2333.6 605.0,2330.3 605.0,2329.0 597.0,2332.4 597.0,2332.8 589.0,2333.9 589.0,2332.5 585.0,2333.0 585.0,2332.8 577.0,2333.8 577.0,2335.1 575.0,2333.6 575.0,2333.7 571.0,2332.8 571.0,2334.4 569.0,2334.5 569.0,2331.3 561.0,2334.1 561.0,2333.8 557.0,2333.6 557.0,2335.1 555.0,2335.5 555.0,2334.6 551.0,2332.5 551.0,2332.4 543.0,2335.4 543.0,2336.2 541.0,2336.7 541.0,2335.7 537.0,2336.3 537.0,2336.4 531.0,2335.4 531.0,2335.2 527.0,2333.9 527.0,2334.9 525.0,2336.5 525.0,2340.3 517.0,2338.9 517.0,2335.2 515.0,2334.0 515.0,2335.5 513.0,2336.5 513.0,2334.8 507.0,2333.2 507.0,2333.6 503.0,2333.4 503.0,2334.0 495.0,2332.1 495.0,2332.8 489.0,2330.7 489.0,2328.1 483.0,2327.6 483.0,2330.6 481.0,2330.5 481.0,2329.1 477.0,2327.6 477.0,2326.4 475.0,2326.5 475.0,2327.9 473.0,2326.6 473.0,2326.5 471.0,2326.1 471.0,2324.5 467.0,2322.0 467.0,2322.1 459.0,2320.8 459.0,2323.3 455.0,2321.8 455.0,2324.3 449.0,2321.6 449.0,2316.6 441.0,2315.0 441.0,2322.3 433.0,2319.2 433.0,2318.1 429.0,2315.3 429.0,2309.8 421.0,2306.9 421.0,2306.7 413.0,2304.4 413.0,2304.3 409.0,2305.7 409.0,2305.3 405.0,2305.4 405.0,2307.0 399.0,2305.9 399.0,2304.2 391.0,2299.9 391.0,2302.1 385.0,2297.8 385.0,2295.9 381.0,2292.7 381.0,2292.3 379.0,2291.1 379.0,2291.4 375.0,2289.7 375.0,2289.3 373.0,2288.1 373.0,2290.2 367.0,2285.7 367.0,2284.1 365.0,2282.6 365.0,2282.8 361.0,2280.8 361.0,2287.3 359.0,2286.4 359.0,2279.8 357.0,2279.8 357.0,2279.4 349.0,2274.6 349.0,2274.6 345.0,2271.7 345.0,2277.5 343.0,2275.5 343.0,2271.8 335.0,2268.0 335.0,2267.6 333.0,2266.3 333.0,2265.8 329.0,2263.6 329.0,2267.5 325.0,2264.9 325.0,2260.8 319.0,2257.2 319.0,2256.9 313.0,2252.7 313.0,2255.8 307.0,2255.0 307.0,2251.2 299.0,2249.8 299.0,2250.9 297.0,2250.3 297.0,2254.1 293.0,2253.5 293.0,2249.7 287.0,2247.0 287.0,2246.6 283.0,2245.0 283.0,2244.1 277.0,2240.0 277.0,2240.4 269.0,2234.8 269.0,2234.5 265.0,2230.2 265.0,2232.3 263.0,2231.5 263.0,2231.3 255.0,2223.9 255.0,2222.1 249.0,2218.2 249.0,2223.2 241.0,2217.2 241.0,2212.5 237.0,2206.1 237.0,2210.4 231.0,2203.0 231.0,2198.9 229.0,2196.2 229.0,2197.6 223.0,2192.1 223.0,2193.1 217.0,2187.2 217.0,2186.4 209.0,2175.0 209.0,2176.8 205.0,2166.8 205.0,2164.4 203.0,2159.6 203.0,2159.3 201.0,2155.3"/><polyline fill="none" stroke="#FF0000" stroke-width="11" stroke-linejoin="round" points="158.2,1910.0 157.1,1912.0 157.9,1914.0 156.7,1916.1 156.4,1918.1 156.8,1920.1 157.4,1922.1 157.6,1924.2 157.6,1926.2 158.8,1928.2 157.7,1930.2 158.4,1932.2 158.0,1934.3 159.3,1936.3 157.9,1938.3 156.7,1940.3 158.2,1942.3 157.7,1944.2 159.3,1946.2 160.4,1948.2 159.2,1950.3 160.5,1952.3 159.4,1954.3 160.6,1956.3 160.8,1958.4 161.9,1960.4 161.8,1962.4 160.8,1964.3 161.6,1966.3 162.2,1968.3 163.3,1970.3 163.3,1972.3 162.1,1974.3 162.3,1976.3 163.7,1978.3 163.1,1980.3 163.3,1982.3 165.0,1984.3 164.1,1986.3 165.1,1988.3 163.6,1990.3 165.5,1992.3 165.5,1994.4 166.1,1996.4 166.8,1998.4 164.9,2000.4 166.4,2002.4 167.9,2004.4 168.0,2006.4 167.5,2008.4 168.4,2010.4 167.8,2012.4 168.7,2014.4 168.4,2016.4 168.2,2018.4 169.3,2020.4 170.0,2022.5 170.2,2024.5 169.4,2026.5 170.4,2028.5 171.8,2030.5 172.4,2032.5 171.7,2034.5 171.4,2036.5 172.6,2038.5 172.0,2040.5 172.3,2042.5 175.4,2044.5 175.0,2046.5 176.3,2048.5 175.6,2050.5 175.1,2052.5 174.8,2054.5 175.8,2056.5 177.8,2058.5 177.1,2060.5 177.4,2062.5 179.1,2064.5 179.6,2066.5 180.2,2068.5 180.8,2070.5 181.5,2072.5 182.3,2074.5 183.6,2076.5 182.4,2078.5 183.8,2080.4 184.3,2082.4 183.1,2084.3 184.6,2086.3 184.9,2088.2 186.4,2090.2 186.0,2092.1 187.3,2094.1 188.0,2096.0 186.7,2098.0 187.7,2099.9 190.0,2101.9 189.9,2103.8 189.6,2105.8 189.5,2107.7 190.8,2109.7 191.6,2111.6 191.3,2113.6 191.5,2115.5 194.3,2117.5 192.5,2119.5 194.9,2121.4 194.2,2123.4 195.4,2125.4 196.9,2127.3 195.8,2129.3 197.6,2131.2 197.7,2133.2 198.2,2135.1 199.7,2137.1 199.6,2139.0 200.9,2140.9 201.9,2142.8 200.9,2144.7 205.0,2146.4 203.5,2148.1 203.9,2149.9 206.6,2151.6 206.3,2153.3 207.9,2155.0 209.0,2156.7 210.0,2158.4 210.7,2160.1 213.4,2161.7 214.5,2163.4 215.9,2165.1 214.5,2166.7 217.8,2168.3 219.1,2169.9 220.6,2171.5 222.3,2173.1 222.4,2174.7 223.0,2176.3 225.8,2177.8 227.1,2179.4 229.4,2181.1 229.1,2182.7 231.2,2184.2 231.8,2185.8 233.3,2187.4 234.5,2188.9 234.4,2190.4 236.2,2192.0 239.2,2193.5 240.8,2194.9 240.6,2196.4 243.4,2197.9 243.2,2199.3 246.0,2200.8 247.8,2202.2 249.1,2203.6 251.2,2205.0"/><polyline fill="none" stroke="#FF0000" stroke-width="11" stroke-linejoin="round" points="719.3,2280.8 720.5,2281.9 721.4,2283.4 722.3,2285.0 723.7,2286.8 726.8,2288.7 727.7,2290.6 728.2,2292.6 730.9,2294.2 730.4,2295.6 732.0,2297.2 733.6,2298.8 733.9,2300.5 735.1,2302.3 736.3,2304.1 738.4,2305.9 740.1,2307.8 739.3,2309.7 740.6,2311.6 742.3,2313.4 744.2,2315.2 744.5,2317.0 744.8,2318.8 746.7,2320.4 747.9,2322.0 749.6,2323.5 750.8,2325.0 750.8,2326.5 752.7,2328.0 753.3,2329.5 755.9,2330.8 758.8,2332.2"/><polyline fill="none" stroke="#FF0000" stroke-width="11" stroke-linejoin="round" points="813.3,2344.9 813.7,2343.7 815.6,2342.4 817.7,2341.0 819.5,2339.5 822.3,2338.0 822.4,2336.4 823.2,2334.8 825.5,2333.1 827.3,2331.5 827.7,2329.8 827.8,2328.2 829.0,2326.7 831.4,2325.0 831.9,2323.3 834.6,2321.4 835.7,2319.6 836.0,2317.6 835.1,2315.7 838.4,2313.7 839.4,2311.8 839.2,2309.9 841.5,2308.0 841.7,2306.2 844.1,2304.5 845.2,2302.9 846.0,2301.5 847.4,2300.1 848.7,2298.9 850.2,2297.7"/><polyline fill="none" stroke="#FF0000" stroke-width="11" stroke-linejoin="round" points="866.6,2293.0 868.4,2294.0 869.1,2295.3 868.8,2296.8 871.1,2298.5 872.7,2300.4 873.4,2302.3 875.5,2304.3 875.8,2306.3 876.8,2308.3 878.9,2310.0 879.7,2311.5 879.9,2313.1 881.7,2314.8 882.5,2316.4 884.5,2318.2 884.2,2320.0 887.0,2321.8 886.9,2323.7 887.9,2325.5 889.2,2327.4 889.2,2329.3 890.9,2331.2 891.6,2333.1 892.3,2335.0 893.6,2336.9 894.7,2338.8 895.6,2340.6 896.9,2342.4 898.7,2344.1 898.2,2345.9 900.1,2347.7 900.2,2349.5 902.5,2351.4 903.4,2353.2 904.8,2355.1 905.4,2356.9 905.9,2358.8 906.7,2360.6 908.6,2362.4 908.9,2364.1 908.3,2365.9 912.5,2367.6 911.7,2369.2 913.7,2370.8 914.7,2372.3 915.9,2373.8 917.3,2375.1 919.0,2376.5 922.1,2377.8"/><polyline fill="none" stroke="#FF0000" stroke-width="11" stroke-linejoin="round" points="1177.4,2373.1 1181.2,2371.8 1182.9,2370.4 1182.8,2369.0 1186.9,2367.6 1186.7,2366.1 1187.5,2364.5 1190.0,2363.0 1190.1,2361.6 1191.6,2360.0 1193.8,2358.4 1193.2,2356.8 1193.9,2355.1 1195.4,2353.3 1196.2,2351.5 1198.7,2349.7 1199.3,2347.9 1199.7,2346.1 1201.9,2344.2 1202.0,2342.4 1204.5,2340.7 1205.6,2338.9 1207.1,2337.2 1205.9,2335.6 1209.6,2334.0 1209.3,2332.2 1209.9,2330.3 1211.5,2328.2 1212.9,2326.1 1213.9,2324.0 1217.5,2322.0 1216.9,2320.0 1217.6,2318.1 1218.7,2316.5 1221.3,2315.0 1223.4,2313.7 1223.9,2312.8"/><polyline fill="none" stroke="#FF0000" stroke-width="11" stroke-linejoin="round" points="1229.3,2313.1 1229.1,2314.1 1232.5,2315.3 1233.7,2316.8 1235.6,2318.4 1237.1,2320.2 1238.2,2322.1 1238.4,2324.2 1241.7,2326.2 1240.5,2328.3 1243.5,2330.4 1243.9,2332.4 1245.7,2334.4 1245.1,2336.2 1248.1,2337.9 1249.8,2339.7 1250.1,2341.4 1252.4,2343.1 1251.7,2344.8 1253.9,2346.6 1252.7,2348.3 1255.6,2350.0 1256.6,2351.8 1257.8,2353.6 1258.3,2355.4 1259.5,2357.2 1259.3,2359.1 1260.2,2361.0 1261.7,2362.8 1264.8,2364.4 1264.3,2366.1 1265.7,2367.8 1267.1,2369.6 1268.2,2371.4 1267.4,2373.2 1269.6,2375.1 1269.7,2377.0 1270.5,2378.9 1271.6,2380.8 1272.3,2382.6 1274.7,2384.5 1275.1,2386.4 1277.0,2388.2 1279.2,2389.9 1278.0,2391.7 1280.4,2393.4 1280.1,2395.0 1282.0,2396.5 1285.5,2398.0 1285.6,2399.3 1286.5,2400.8 1287.7,2402.3 1289.0,2403.7"/>
</g>
<line x1="717.5" y1="1803.7" x2="717.5" y2="2384.7" stroke="#000" stroke-width="7" stroke-dasharray="32.7 28.3"/>
<line x1="844.5" y1="1613.8" x2="846.5" y2="2439.3" stroke="#000" stroke-width="7" stroke-dasharray="32.7 28.3"/>
<line x1="855.7" y1="1666.7" x2="857.0" y2="2429.4" stroke="#000" stroke-width="7" stroke-dasharray="32.7 28.1"/>
<line x1="865.5" y1="1770.4" x2="868.5" y2="2412.5" stroke="#000" stroke-width="7" stroke-dasharray="32.7 28.3"/>
<line x1="1213.5" y1="1824.1" x2="1214.5" y2="2395.4" stroke="#000" stroke-width="7" stroke-dasharray="32.7 28.3"/>
<line x1="1238.4" y1="1869.0" x2="1239.0" y2="2450.0" stroke="#000" stroke-width="7" stroke-dasharray="32.7 28.3"/>
<g fill="#000">
<polygon points="226.6,1473.9 198.0,1530.1 255.2,1530.1"/>
<polygon points="524.5,1491.4 540.2,1511.7 524.5,1532.0 508.8,1511.7"/>
<polygon points="675.2,1484.8 681.8,1501.3 700.4,1502.1 685.8,1513.1 690.8,1530.1 675.2,1520.4 659.7,1530.1 664.7,1513.1 650.1,1502.1 668.7,1501.3"/>
<polygon points="846.7,1572.4 864.6,1593.1 846.7,1613.8 828.8,1593.1"/>
<polygon points="873.2,1617.0 879.7,1633.6 898.3,1634.3 883.7,1645.4 888.7,1662.4 873.2,1652.6 857.6,1662.4 862.6,1645.4 848.0,1634.3 866.6,1633.6"/>
<polygon points="879.4,1716.9 857.3,1760.5 901.5,1760.5"/>
<polygon points="719.3,1728.8 696.8,1773.0 741.8,1773.0"/>
<polygon points="720.4,1773.0 726.7,1789.1 744.8,1789.8 730.6,1800.5 735.5,1817.0 720.4,1807.5 705.3,1817.0 710.2,1800.5 696.0,1789.8 714.1,1789.1"/>
<polygon points="1210.4,1776.8 1217.1,1793.7 1236.1,1794.5 1221.2,1805.7 1226.3,1823.1 1210.4,1813.1 1194.6,1823.1 1199.7,1805.7 1184.8,1794.5 1203.8,1793.7"/>
<polygon points="1244.5,1831.8 1222.0,1875.9 1267.0,1875.9"/>
</g>
<rect x="1077.1" y="1497.5" width="501.4" height="270.3" fill="#fff" stroke="#000" stroke-width="2.4"/>
<polyline points="1078.9,1530.9 1079.3,1535.6 1079.7,1518.7 1080.2,1543.0 1080.6,1528.3 1081.1,1527.5 1081.5,1524.6 1081.9,1538.7 1082.4,1537.1 1082.8,1541.3 1083.3,1539.1 1083.7,1534.9 1084.2,1535.6 1084.6,1540.1 1085.0,1527.6 1085.5,1533.6 1085.9,1536.9 1086.4,1531.2 1086.8,1539.7 1087.3,1532.4 1087.7,1539.8 1088.1,1536.3 1088.6,1538.8 1089.0,1525.2 1089.4,1530.1 1089.9,1545.7 1090.3,1537.8 1090.7,1536.3 1091.2,1543.9 1091.6,1542.7 1092.0,1537.4 1092.4,1533.5 1092.9,1552.0 1093.3,1543.5 1093.7,1527.9 1094.1,1545.2 1094.5,1545.0 1094.9,1545.7 1095.3,1537.5 1095.7,1551.0 1096.0,1535.8 1096.3,1549.8 1096.6,1543.7 1096.9,1553.8 1097.3,1539.6 1097.6,1547.5 1097.9,1548.9 1098.2,1541.1 1098.5,1543.8 1098.8,1541.1 1099.1,1547.7 1099.4,1549.6 1099.7,1543.1 1099.9,1547.9 1100.2,1541.8 1100.5,1542.7 1100.8,1533.2 1101.1,1538.9 1101.4,1542.8 1101.7,1548.7 1101.9,1558.9 1102.2,1550.6 1102.5,1549.8 1102.8,1552.0 1103.1,1540.2 1103.3,1550.7 1103.6,1544.8 1103.9,1547.3 1104.2,1566.0 1104.4,1565.1 1104.7,1559.4 1105.0,1556.8 1105.3,1557.0 1105.5,1547.2 1105.8,1545.6 1106.1,1557.2 1106.3,1552.1 1106.6,1550.3 1106.9,1555.6 1107.2,1556.1 1107.4,1558.4 1107.7,1552.4 1108.0,1558.1 1108.2,1549.8 1108.5,1567.5 1108.8,1570.0 1109.0,1552.1 1109.3,1563.3 1109.6,1559.2 1109.8,1562.0 1110.1,1562.1 1110.4,1570.5 1110.6,1566.5 1110.9,1557.0 1111.2,1564.1 1111.4,1563.8 1111.7,1558.8 1112.0,1566.3 1112.2,1565.1 1112.5,1575.3 1112.8,1564.9 1113.1,1569.7 1113.3,1551.3 1113.6,1555.8 1113.9,1570.2 1114.1,1569.2 1114.4,1575.1 1114.6,1561.1 1114.9,1567.6 1115.2,1552.6 1115.4,1564.6 1115.7,1567.8 1115.9,1570.6 1116.2,1567.8 1116.5,1578.8 1116.7,1562.4 1117.0,1564.0 1117.2,1576.6 1117.5,1571.2 1117.7,1583.6 1118.0,1579.5 1118.3,1577.4 1118.5,1563.6 1118.8,1571.7 1119.0,1578.3 1119.3,1572.3 1119.5,1579.2 1119.8,1579.8 1120.0,1572.3 1120.3,1570.8 1120.5,1585.8 1120.8,1579.8 1121.1,1580.3 1121.3,1587.0 1121.6,1592.9 1121.8,1561.5 1122.1,1591.8 1122.3,1589.0 1122.6,1580.4 1122.8,1591.2 1123.1,1582.8 1123.3,1595.0 1123.6,1592.2 1123.8,1587.6 1124.1,1580.8 1124.3,1586.2 1124.6,1579.9 1124.8,1581.5 1125.1,1588.1 1125.4,1586.4 1125.6,1583.1 1125.9,1599.7 1126.1,1584.8 1126.4,1588.9 1126.6,1589.5 1126.9,1574.6 1127.1,1608.7 1127.4,1586.8 1127.6,1596.4 1127.9,1576.7 1128.1,1591.0 1128.4,1581.1 1128.6,1589.5 1128.9,1602.3 1129.1,1599.4 1129.4,1598.7 1129.6,1598.3 1129.9,1583.0 1130.1,1587.7 1130.4,1600.0 1130.6,1606.1 1130.9,1600.2 1131.1,1601.4 1131.4,1601.7 1131.6,1603.2 1131.9,1602.1 1132.1,1591.5 1132.4,1606.4 1132.6,1593.8 1132.9,1590.2 1133.1,1601.8 1133.4,1592.0 1133.6,1594.2 1133.9,1603.0 1134.1,1596.9 1134.4,1596.9 1134.6,1606.7 1134.9,1611.8 1135.1,1609.5 1135.3,1611.2 1135.6,1594.9 1135.8,1610.3 1136.1,1606.1 1136.3,1601.6 1136.6,1604.9 1136.8,1604.8 1137.1,1600.6 1137.3,1594.7 1137.6,1611.4 1137.8,1611.0 1138.0,1619.0 1138.3,1618.1 1138.5,1611.9 1138.8,1617.0 1139.0,1622.2 1139.3,1607.0 1139.5,1610.5 1139.8,1614.7 1140.0,1603.7 1140.3,1606.1 1140.5,1618.7 1140.7,1611.5 1141.0,1618.2 1141.2,1614.6 1141.5,1624.5 1141.7,1618.2 1142.0,1617.7 1142.2,1615.3 1142.5,1610.5 1142.7,1607.2 1142.9,1637.2 1143.2,1621.2 1143.4,1626.6 1143.7,1613.7 1143.9,1623.6 1144.2,1623.4 1144.4,1615.1 1144.7,1635.7 1144.9,1632.5 1145.1,1621.4 1145.4,1630.8 1145.6,1631.7 1145.9,1628.0 1146.1,1628.1 1146.4,1625.7 1146.6,1625.2 1146.9,1615.6 1147.1,1623.1 1147.3,1629.7 1147.6,1625.2 1147.8,1635.1 1148.1,1628.5 1148.3,1622.4 1148.6,1619.9 1148.8,1622.6 1149.1,1629.3 1149.3,1628.5 1149.5,1611.4 1149.8,1634.7 1150.0,1642.5 1150.3,1626.9 1150.5,1635.5 1150.7,1627.3 1151.0,1642.2 1151.2,1628.0 1151.5,1632.8 1151.7,1644.6 1151.9,1641.5 1152.2,1633.2 1152.4,1644.5 1152.6,1640.8 1152.9,1644.2 1153.1,1648.0 1153.3,1649.1 1153.6,1631.9 1153.8,1632.8 1154.0,1642.8 1154.3,1637.4 1154.5,1618.0 1154.7,1647.3 1155.0,1632.1 1155.2,1639.3 1155.4,1637.1 1155.7,1639.9 1155.9,1647.2 1156.1,1630.6 1156.4,1641.5 1156.6,1633.4 1156.8,1642.3 1157.1,1647.0 1157.3,1652.4 1157.5,1644.3 1157.8,1663.9 1158.0,1653.5 1158.2,1656.0 1158.5,1653.0 1158.7,1646.5 1159.0,1645.4 1159.2,1642.8 1159.4,1649.9 1159.7,1628.8 1159.9,1647.1 1160.1,1650.8 1160.4,1641.7 1160.6,1644.4 1160.9,1655.2 1161.1,1657.0 1161.4,1655.4 1161.6,1637.7 1161.8,1667.1 1162.1,1652.8 1162.3,1676.0 1162.6,1655.0 1162.8,1659.5 1163.1,1653.0 1163.3,1661.0 1163.6,1669.0 1163.8,1660.8 1164.1,1664.9 1164.4,1662.9 1164.6,1647.0 1164.9,1663.4 1165.1,1654.6 1165.4,1663.2 1165.7,1653.3 1165.9,1669.9 1166.2,1657.1 1166.5,1676.0 1166.7,1659.2 1167.0,1668.1 1167.3,1653.3 1167.7,1664.2 1168.0,1658.1 1168.3,1667.9 1168.7,1674.4 1169.0,1672.5 1169.4,1660.7 1169.7,1657.1 1170.0,1663.3 1170.4,1658.8 1170.7,1673.9 1171.1,1669.4 1171.4,1671.5 1171.8,1657.6 1172.1,1661.3 1172.5,1661.7 1172.8,1671.1 1173.2,1671.8 1173.6,1654.1 1173.9,1678.9 1174.3,1684.0 1174.6,1658.1 1175.0,1664.9 1175.4,1676.7 1175.7,1666.4 1176.1,1669.5 1176.5,1671.0 1176.8,1660.0 1177.2,1669.2 1177.6,1664.8 1177.9,1671.2 1178.3,1674.2 1178.7,1676.4 1179.0,1675.4 1179.4,1670.0 1179.8,1676.9 1180.1,1690.0 1180.5,1670.1 1180.9,1654.4 1181.3,1669.1 1181.6,1668.5 1182.0,1664.9 1182.4,1673.7 1182.8,1671.9 1183.1,1677.8 1183.5,1682.0 1183.9,1696.0 1184.3,1683.8 1184.6,1679.1 1185.0,1665.8 1185.4,1669.5 1185.8,1672.1 1186.2,1678.5 1186.6,1667.3 1187.0,1682.8 1187.4,1691.4 1187.8,1685.8 1188.1,1692.0 1188.5,1681.0 1188.9,1686.9 1189.3,1684.2 1189.7,1688.7 1190.0,1690.8 1190.4,1676.2 1190.8,1674.6 1191.2,1677.8 1191.6,1692.8 1192.0,1689.5 1192.4,1693.3 1192.7,1680.3 1193.1,1687.5 1193.5,1690.6 1193.9,1674.1 1194.3,1684.9 1194.7,1690.3 1195.1,1690.0 1195.6,1683.3 1196.0,1687.5 1196.4,1694.1 1196.8,1693.1 1197.2,1694.9 1197.7,1692.8 1198.1,1689.6 1198.6,1694.2 1199.0,1689.4 1199.5,1678.6 1199.9,1693.1 1200.4,1681.5 1200.9,1683.5 1201.4,1688.3 1201.9,1697.6 1202.4,1691.1 1202.9,1708.0 1203.3,1698.1 1203.7,1693.6 1204.1,1679.1 1204.6,1698.7 1205.0,1697.1 1205.4,1696.8 1205.8,1694.6 1206.3,1691.5 1206.7,1697.2 1207.2,1687.6 1207.6,1685.7 1208.1,1701.7 1208.6,1690.1 1209.0,1690.7 1209.5,1697.0 1210.0,1706.8 1210.5,1707.9 1210.9,1700.7 1211.4,1682.0 1211.9,1704.1 1212.4,1706.8 1212.9,1695.8 1213.4,1700.3 1213.9,1687.9 1214.4,1690.4 1214.9,1694.5 1215.4,1695.1 1215.9,1694.9 1216.5,1698.1 1217.0,1694.4 1217.5,1705.2 1218.0,1684.1 1218.5,1705.1 1219.1,1703.2 1219.6,1695.8 1220.1,1693.9 1220.6,1700.7 1221.2,1692.5 1221.7,1700.2 1222.2,1697.5 1222.8,1690.0 1223.3,1706.5 1223.8,1701.8 1224.4,1698.1 1224.9,1708.6 1225.4,1706.3 1226.0,1694.9 1226.5,1697.3 1227.1,1697.8 1227.6,1700.3 1228.1,1702.6 1228.7,1699.1 1229.2,1697.5 1229.7,1687.0 1230.3,1694.3 1230.8,1693.6 1231.3,1695.4 1231.9,1691.5 1232.4,1693.8 1232.9,1688.8 1233.4,1696.7 1234.0,1688.2 1234.5,1707.9 1235.0,1694.0 1235.5,1706.6 1236.0,1695.9 1236.6,1697.4 1237.1,1707.2 1237.6,1695.6 1238.1,1709.7 1238.6,1691.8 1239.1,1700.4 1239.6,1701.4 1240.1,1697.9 1240.6,1693.1 1241.1,1707.2 1241.6,1694.6 1242.1,1697.7 1242.6,1687.2 1243.1,1696.9 1243.6,1685.4 1244.1,1705.6 1244.6,1701.3 1245.1,1707.3 1245.6,1696.9 1246.1,1704.9 1246.6,1707.7 1247.1,1690.6 1247.6,1693.5 1248.1,1691.7 1248.6,1703.1 1249.2,1705.0 1249.7,1701.4 1250.2,1690.1 1250.7,1696.9 1251.2,1695.9 1251.7,1689.4 1252.2,1705.6 1252.7,1712.1 1253.2,1709.5 1253.7,1693.3 1254.2,1706.1 1254.7,1684.4 1255.2,1689.0 1255.7,1701.4 1256.2,1692.0 1256.7,1695.4 1257.2,1709.7 1257.7,1696.2 1258.2,1702.0 1258.7,1696.4 1259.2,1702.1 1259.7,1704.0 1260.2,1696.1 1260.7,1691.8 1261.2,1702.0 1261.7,1689.4 1262.2,1704.8 1262.7,1699.8 1263.2,1702.6 1263.7,1686.7 1264.2,1708.1 1264.7,1694.6 1265.2,1694.8 1265.8,1685.2 1266.3,1694.6 1266.8,1690.6 1267.3,1704.7 1267.8,1695.4 1268.3,1692.9 1268.8,1706.0 1269.3,1687.7 1269.8,1689.4 1270.3,1692.8 1270.8,1705.5 1271.3,1692.6 1271.8,1697.3 1272.3,1693.3 1272.8,1689.7 1273.3,1695.7 1273.8,1699.1 1274.3,1688.1 1274.8,1697.6 1275.3,1681.3 1275.8,1690.7 1276.3,1703.7 1276.8,1696.0 1277.4,1702.1 1277.9,1705.4 1278.4,1702.3 1278.9,1700.1 1279.5,1702.6 1280.0,1698.6 1280.5,1695.3 1281.0,1702.8 1281.6,1700.8 1282.1,1699.0 1282.6,1708.5 1283.2,1700.3 1283.7,1714.3 1284.2,1688.9 1284.8,1705.0 1285.3,1698.3 1285.8,1704.8 1286.4,1695.2 1286.9,1707.8 1287.4,1706.7 1288.0,1701.6 1288.5,1693.6 1289.1,1698.2 1289.6,1693.0 1290.1,1698.2 1290.7,1687.0 1291.2,1689.8 1291.7,1688.1 1292.3,1704.4 1292.8,1699.5 1293.3,1687.5 1293.8,1696.1 1294.4,1706.8 1294.9,1696.7 1295.4,1689.2 1295.9,1693.2 1296.4,1699.1 1297.0,1705.8 1297.5,1692.7 1298.0,1683.8 1298.5,1700.2 1299.0,1696.0 1299.5,1686.7 1300.0,1687.5 1300.5,1694.5 1301.0,1686.9 1301.5,1688.9 1302.0,1701.1 1302.4,1704.3 1302.9,1701.1 1303.4,1692.1 1303.9,1700.6 1304.3,1688.9 1304.8,1703.0 1305.3,1695.2 1305.7,1714.2 1306.2,1704.3 1306.6,1703.9 1307.1,1701.3 1307.5,1709.1 1307.9,1695.2 1308.3,1695.9 1308.8,1693.2 1309.2,1703.1 1309.6,1694.2 1310.0,1700.4 1310.5,1702.6 1311.0,1709.8 1311.5,1686.0 1312.0,1691.7 1312.4,1708.0 1312.9,1715.1 1313.3,1703.5 1313.7,1701.9 1314.2,1699.6 1314.6,1708.9 1315.0,1702.1 1315.4,1695.7 1315.8,1710.6 1316.2,1696.4 1316.6,1705.2 1316.9,1703.3 1317.3,1696.7 1317.7,1704.6 1318.0,1701.6 1318.4,1711.1 1318.8,1713.8 1319.1,1709.5 1319.5,1711.7 1319.9,1709.5 1320.3,1693.5 1320.6,1701.2 1321.0,1707.7 1321.4,1706.1 1321.8,1713.2 1322.1,1703.8 1322.5,1717.9 1322.9,1704.8 1323.3,1699.2 1323.8,1712.1 1324.2,1705.9 1324.6,1708.5 1325.0,1721.2 1325.5,1713.6 1325.9,1714.0 1326.4,1714.7 1326.9,1701.9 1327.4,1707.5 1327.9,1707.4 1328.3,1718.0 1328.7,1711.1 1329.1,1714.8 1329.5,1713.5 1330.0,1708.5 1330.4,1723.1 1330.8,1724.0 1331.2,1721.7 1331.7,1724.0 1332.1,1709.4 1332.6,1718.0 1333.0,1721.9 1333.5,1723.6 1333.9,1704.1 1334.4,1707.0 1334.9,1721.4 1335.3,1708.3 1335.8,1708.2 1336.3,1710.3 1336.8,1722.1 1337.3,1717.8 1337.8,1711.9 1338.2,1714.5 1338.7,1722.4 1339.2,1708.6 1339.7,1712.5 1340.2,1701.9 1340.7,1720.1 1341.3,1718.3 1341.8,1702.0 1342.3,1713.7 1342.8,1697.2 1343.3,1711.9 1343.8,1719.1 1344.3,1703.6 1344.9,1705.4 1345.4,1718.9 1345.9,1709.4 1346.4,1713.8 1346.9,1720.5 1347.5,1727.8 1348.0,1712.5 1348.5,1721.4 1349.0,1731.6 1349.6,1719.4 1350.1,1716.7 1350.6,1710.8 1351.2,1723.6 1351.7,1715.9 1352.2,1724.4 1352.7,1728.5 1353.3,1713.9 1353.8,1718.5 1354.3,1719.1 1354.9,1721.7 1355.4,1719.0 1355.9,1708.9 1356.4,1717.1 1357.0,1718.3 1357.5,1718.1 1358.0,1711.6 1358.5,1712.4 1359.0,1722.8 1359.5,1702.8 1360.1,1722.1 1360.6,1717.0 1361.1,1718.2 1361.6,1708.0 1362.1,1717.1 1362.6,1715.5 1363.1,1728.0 1363.6,1733.4 1364.1,1719.3 1364.6,1735.1 1365.1,1725.1 1365.6,1719.2 1366.1,1725.6 1366.6,1720.4 1367.1,1724.9 1367.6,1728.9 1368.1,1715.6 1368.6,1716.9 1369.1,1728.2 1369.6,1714.7 1370.1,1710.2 1370.6,1715.4 1371.1,1720.1 1371.6,1722.5 1372.1,1725.4 1372.6,1726.2 1373.1,1721.6 1373.6,1728.5 1374.1,1706.6 1374.6,1720.5 1375.1,1714.2 1375.6,1718.9 1376.2,1728.9 1376.7,1714.4 1377.2,1726.0 1377.7,1715.3 1378.2,1723.2 1378.7,1713.5 1379.2,1724.4 1379.7,1734.1 1380.2,1725.0 1380.7,1716.1 1381.2,1720.0 1381.7,1723.3 1382.2,1723.7 1382.7,1723.0 1383.2,1715.5 1383.7,1727.4 1384.2,1710.5 1384.7,1719.3 1385.2,1722.5 1385.7,1726.6 1386.2,1715.6 1386.7,1725.7 1387.2,1733.8 1387.7,1717.1 1388.2,1726.4 1388.7,1720.6 1389.2,1731.6 1389.7,1710.9 1390.2,1718.2 1390.7,1713.3 1391.2,1710.2 1391.8,1730.5 1392.3,1724.2 1392.8,1724.4 1393.3,1727.3 1393.8,1710.6 1394.3,1725.0 1394.8,1716.6 1395.3,1714.2 1395.8,1711.7 1396.3,1716.1 1396.8,1709.6 1397.3,1718.5 1397.8,1716.2 1398.3,1726.9 1398.8,1738.3 1399.3,1714.4 1399.8,1728.8 1400.3,1717.9 1400.8,1720.2 1401.3,1720.9 1401.8,1722.2 1402.3,1726.6 1402.8,1714.1 1403.3,1731.5 1403.8,1714.0 1404.3,1727.7 1404.8,1715.0 1405.3,1730.3 1405.8,1723.7 1406.3,1721.3 1406.8,1739.1 1407.3,1722.3 1407.8,1719.7 1408.3,1725.3 1408.8,1728.5 1409.4,1727.5 1409.9,1731.3 1410.4,1728.8 1410.9,1715.6 1411.4,1721.4 1411.9,1723.7 1412.4,1730.8 1412.9,1715.6 1413.4,1724.7 1413.9,1727.8 1414.4,1714.3 1414.9,1724.4 1415.4,1725.4 1415.9,1722.3 1416.4,1723.5 1416.9,1720.3 1417.4,1716.4 1417.9,1724.2 1418.4,1725.8 1418.9,1717.9 1419.4,1725.5 1419.9,1718.7 1420.4,1733.7 1420.9,1745.7 1421.4,1722.2 1421.9,1737.2 1422.4,1718.4 1422.9,1723.3 1423.4,1704.1 1423.9,1721.0 1424.4,1729.7 1424.9,1719.2 1425.4,1730.1 1425.9,1728.1 1426.4,1729.2 1426.9,1727.0 1427.5,1722.6 1428.0,1730.1 1428.5,1731.0 1429.0,1715.9 1429.5,1729.1 1430.0,1714.5 1430.5,1735.0 1431.0,1716.8 1431.5,1724.3 1432.0,1728.8 1432.5,1723.1 1433.0,1732.1 1433.5,1723.6 1434.0,1720.5 1434.5,1728.5 1435.0,1725.3 1435.5,1725.8 1436.0,1733.9 1436.5,1716.4 1437.0,1728.4 1437.5,1725.3 1438.0,1737.4 1438.5,1729.1 1439.0,1721.1 1439.5,1727.6 1440.0,1729.6 1440.5,1730.4 1441.0,1723.8 1441.5,1725.5 1442.0,1719.7 1442.5,1729.4 1443.0,1722.8 1443.6,1719.4 1444.1,1727.5 1444.6,1730.3 1445.1,1725.3 1445.6,1731.8 1446.1,1721.8 1446.6,1723.9 1447.1,1733.6 1447.6,1722.1 1448.1,1734.5 1448.6,1738.4 1449.1,1731.5 1449.6,1729.0 1450.1,1724.5 1450.6,1734.8 1451.1,1731.5 1451.6,1721.1 1452.1,1722.5 1452.6,1732.9 1453.1,1727.0 1453.6,1741.6 1454.1,1728.5 1454.6,1723.8 1455.1,1738.1 1455.6,1732.1 1456.1,1727.2 1456.6,1728.2 1457.1,1725.5 1457.7,1726.3 1458.2,1726.0 1458.7,1735.9 1459.2,1722.9 1459.7,1728.2 1460.2,1719.7 1460.7,1741.3 1461.2,1729.5 1461.7,1715.0 1462.2,1714.2 1462.7,1721.2 1463.2,1740.3 1463.7,1728.1 1464.2,1723.4 1464.7,1734.7 1465.2,1733.1 1465.7,1724.0 1466.2,1728.1 1466.7,1720.4 1467.2,1717.1 1467.7,1720.0 1468.2,1737.1 1468.7,1719.7 1469.2,1735.5 1469.7,1712.1 1470.2,1714.6 1470.7,1734.9 1471.2,1724.3 1471.7,1723.7 1472.2,1739.4 1472.7,1730.3 1473.2,1726.1 1473.7,1731.0 1474.2,1718.0 1474.7,1722.3 1475.2,1727.3 1475.7,1721.7 1476.2,1729.4 1476.7,1714.1 1477.2,1739.0 1477.7,1719.6 1478.2,1717.7 1478.7,1726.1 1479.1,1729.6 1479.6,1718.6 1480.1,1723.2 1480.6,1721.0 1481.1,1713.5 1481.6,1722.8 1482.1,1724.3 1482.6,1725.3 1483.1,1720.0 1483.6,1726.4 1484.1,1722.0 1484.6,1734.9 1485.1,1722.4 1485.6,1725.7 1486.1,1725.7 1486.6,1719.9 1487.1,1726.6 1487.6,1733.0 1488.1,1734.4 1488.6,1718.4 1489.1,1718.3 1489.5,1721.7 1490.0,1723.4 1490.5,1713.9 1491.0,1711.1 1491.5,1723.7 1492.0,1721.3 1492.5,1723.5 1493.0,1728.9 1493.5,1711.4 1494.0,1722.9 1494.5,1731.1 1495.0,1718.1 1495.5,1719.3 1496.0,1728.0 1496.5,1717.5 1497.0,1711.8 1497.5,1730.0 1498.0,1705.3 1498.5,1730.0 1499.0,1724.8 1499.4,1712.9 1499.9,1715.6 1500.4,1704.8 1500.9,1719.3 1501.4,1725.7 1501.9,1717.6 1502.4,1706.8 1502.9,1718.4 1503.4,1722.5 1503.9,1719.5 1504.4,1713.0 1504.9,1705.9 1505.4,1724.2 1505.9,1718.7 1506.4,1713.9 1506.9,1724.0 1507.4,1724.0 1507.9,1709.7 1508.4,1723.4 1508.9,1732.0 1509.4,1728.5 1509.9,1717.0 1510.4,1709.2 1510.9,1716.6 1511.4,1733.3 1511.9,1729.3 1512.4,1705.5 1512.9,1734.0 1513.4,1713.2 1513.9,1720.8 1514.4,1713.6 1514.9,1714.4 1515.4,1719.8 1515.9,1718.7 1516.4,1708.9 1516.9,1717.8 1517.4,1712.8 1517.9,1715.8 1518.4,1716.3 1518.9,1709.9 1519.4,1716.0 1519.9,1725.7 1520.4,1720.7 1520.9,1712.2 1521.4,1716.7 1521.9,1716.4 1522.4,1716.0 1522.9,1708.6 1523.4,1715.5 1523.9,1719.4 1524.5,1710.3 1525.0,1702.2 1525.5,1724.0 1526.0,1720.1 1526.5,1725.1 1527.0,1730.7 1527.5,1729.0 1528.0,1717.4 1528.5,1721.8 1529.0,1715.4 1529.5,1718.5 1530.0,1719.4 1530.5,1721.5 1531.0,1714.6 1531.5,1721.0 1532.0,1711.4 1532.5,1706.2 1533.0,1715.5 1533.5,1723.3 1534.0,1711.4 1534.5,1709.1 1535.0,1727.4 1535.5,1713.0 1536.0,1715.3 1536.5,1723.1 1537.0,1718.1 1537.5,1727.0 1538.0,1715.4 1538.5,1713.7 1539.0,1722.5 1539.5,1724.9 1540.0,1714.6 1540.5,1705.2 1541.0,1710.1 1541.5,1706.2 1542.0,1713.2 1542.5,1715.9 1543.0,1711.4 1543.5,1725.7 1544.0,1714.3 1544.5,1723.8 1545.0,1711.6 1545.5,1714.0 1546.0,1724.7 1546.5,1707.4 1547.0,1703.9 1547.5,1708.1 1548.0,1718.8 1548.5,1709.2 1549.0,1715.0 1549.5,1722.6 1550.0,1717.8 1550.5,1711.6 1551.0,1727.6 1551.5,1723.9 1552.0,1724.5 1552.5,1717.6 1553.0,1718.0 1553.5,1712.2 1554.0,1721.4 1554.5,1720.8 1555.0,1717.5 1555.5,1708.8 1556.0,1718.5 1556.5,1707.5 1557.0,1716.6 1557.5,1708.2 1558.0,1704.5 1558.5,1718.7 1559.0,1709.2 1559.5,1704.7 1560.0,1715.1 1560.5,1723.9 1561.0,1717.7 1561.5,1718.2 1562.0,1708.0 1562.5,1717.5 1563.0,1706.3 1563.5,1704.8 1564.0,1725.2 1564.5,1718.3 1565.0,1722.6 1565.5,1731.5 1566.0,1708.0 1566.5,1710.8 1567.0,1705.5 1567.5,1728.0 1568.0,1717.8 1568.5,1718.1 1569.0,1714.8 1569.5,1713.0 1570.0,1701.3 1570.5,1709.6 1571.0,1715.6 1571.5,1713.9 1572.0,1723.5 1572.5,1722.2 1573.0,1710.2 1573.5,1713.3 1574.0,1719.9 1574.5,1712.2 1575.0,1723.1 1575.5,1716.4 1576.0,1722.4 1576.5,1721.1 1577.0,1712.7" fill="none" stroke="#008000" stroke-width="2.8"/>
<g fill="#000"><polygon points="1301.6,1656.8 1311.8,1665.7 1301.6,1674.6 1291.4,1665.7"/></g>
<polygon fill="#000080" points="1073.5,1751.4 1057.6,1816.4 1046.7,1812.4 984.2,1929.5 977.3,1924.5 1037.8,1808 1027.9,1801"/>
<path d="M243.1 2653v23.5 M418.4 2653v23.5 M593.6 2653v23.5 M769.0 2653v23.5 M944.2 2653v23.5 M1119.6 2653v23.5 M1294.9 2653v23.5 M1470.2 2653v23.5 M1645.5 2653v23.5 M330.7 2653v11 M506.0 2653v11 M681.3 2653v11 M856.6 2653v11 M1031.9 2653v11 M1207.2 2653v11 M1382.5 2653v11 M1557.8 2653v11 M155.5 2653v11" stroke="#000" stroke-width="5.5"/>
<text transform="translate(70.86 124.30) scale(1.1684 1)" font-size="96.00" text-anchor="start" fill="#000" stroke="#000" stroke-width="0.7">a</text>
<text transform="translate(285.62 126.70) scale(1.0685 1)" font-size="77.00" text-anchor="start" fill="#000" stroke="#000" stroke-width="0.7">Al<tspan dy="19.8" font-size="52.0">2</tspan><tspan dy="-19.8">O</tspan><tspan dy="20.0" font-size="52.0">3</tspan><tspan dy="-20.0"></tspan></text>
<text transform="translate(588.92 126.70) scale(1.0772 1)" font-size="77.00" text-anchor="start" fill="#000" stroke="#000" stroke-width="0.7">NiO</text>
<text transform="translate(827.27 126.70) scale(1.0602 1)" font-size="77.00" text-anchor="start" fill="#000" stroke="#000" stroke-width="0.7">NiAl<tspan dy="19.8" font-size="52.0">2</tspan><tspan dy="-19.8">O</tspan><tspan dy="19.8" font-size="52.0">4</tspan><tspan dy="-19.8"></tspan></text>
<text transform="translate(1029.69 215.90) scale(1.0760 1)" font-size="76.50" text-anchor="start" fill="#000" stroke="#000" stroke-width="0.7">Calcinated at 450 °C</text>
<text transform="translate(250.50 252.40) scale(1.0551 1)" font-size="73.30" text-anchor="start" fill="#000" stroke="#000" stroke-width="0.7">Ni<tspan dy="15.0">10</tspan><tspan dy="-15.0">Mo</tspan><tspan dy="15.0">20</tspan><tspan dy="-15.0">Al</tspan></text>
<text transform="translate(257.27 382.30) scale(1.0573 1)" font-size="73.30" text-anchor="start" fill="#000" stroke="#000" stroke-width="0.7">Ni<tspan dy="15.0">10</tspan><tspan dy="-15.0">Mo</tspan><tspan dy="15.0">15</tspan><tspan dy="-15.0">Al</tspan></text>
<text transform="translate(269.05 519.40) scale(1.0558 1)" font-size="73.30" text-anchor="start" fill="#000" stroke="#000" stroke-width="0.7">Ni<tspan dy="15.0">10</tspan><tspan dy="-15.0">Mo</tspan><tspan dy="15.0">10</tspan><tspan dy="-15.0">Al</tspan></text>
<text transform="translate(295.58 645.00) scale(1.0580 1)" font-size="73.30" text-anchor="start" fill="#000" stroke="#000" stroke-width="0.7">Ni<tspan dy="15.0">10</tspan><tspan dy="-15.0">Mo</tspan><tspan dy="15.0">5</tspan><tspan dy="-15.0">Al</tspan></text>
<text transform="translate(277.98 767.40) scale(1.0512 1)" font-size="73.30" text-anchor="start" fill="#000" stroke="#000" stroke-width="0.7">Ni<tspan dy="15.0">10</tspan><tspan dy="-15.0">Mo</tspan><tspan dy="15.0">2.5</tspan><tspan dy="-15.0">Al</tspan></text>
<text transform="translate(191.13 901.10) scale(1.0905 1)" font-size="71.00" text-anchor="start" fill="#000" stroke="#000" stroke-width="0.7">NiO:PDF#47<tspan font-size="46.1">–</tspan>1049</text>
<text transform="translate(185.87 1005.60) scale(1.0670 1)" font-size="72.50" text-anchor="start" fill="#000" stroke="#000" stroke-width="0.7">MoO<tspan dy="15.0">3</tspan><tspan dy="-15.0">:PDF#05<tspan font-size="47.1">–</tspan>0508</tspan></text>
<text transform="translate(182.16 1090.50) scale(1.0651 1)" font-size="72.50" text-anchor="start" fill="#000" stroke="#000" stroke-width="0.7">Al<tspan dy="16.5">2</tspan><tspan dy="-16.5">O</tspan><tspan dy="16.5">3</tspan><tspan dy="-16.5">:PDF#10<tspan font-size="47.1">–</tspan>0425</tspan></text>
<text transform="translate(187.98 1172.20) scale(1.0508 1)" font-size="74.00" text-anchor="start" fill="#000" stroke="#000" stroke-width="0.7">NiAl<tspan dy="18.5">2</tspan><tspan dy="-18.5">O</tspan><tspan dy="18.5">4</tspan><tspan dy="-18.5">:PDF#10<tspan font-size="48.1">–</tspan>0339</tspan></text>
<text transform="translate(253.96 1306.30) scale(1.0200 1)" font-size="78.50" text-anchor="middle" fill="#000" stroke="#000" stroke-width="0.7">10</text>
<text transform="translate(437.78 1306.30) scale(1.0200 1)" font-size="78.50" text-anchor="middle" fill="#000" stroke="#000" stroke-width="0.7">20</text>
<text transform="translate(621.60 1306.30) scale(1.0200 1)" font-size="78.50" text-anchor="middle" fill="#000" stroke="#000" stroke-width="0.7">30</text>
<text transform="translate(805.42 1306.30) scale(1.0200 1)" font-size="78.50" text-anchor="middle" fill="#000" stroke="#000" stroke-width="0.7">40</text>
<text transform="translate(989.24 1306.30) scale(1.0200 1)" font-size="78.50" text-anchor="middle" fill="#000" stroke="#000" stroke-width="0.7">50</text>
<text transform="translate(1173.06 1306.30) scale(1.0200 1)" font-size="78.50" text-anchor="middle" fill="#000" stroke="#000" stroke-width="0.7">60</text>
<text transform="translate(1356.88 1306.30) scale(1.0200 1)" font-size="78.50" text-anchor="middle" fill="#000" stroke="#000" stroke-width="0.7">70</text>
<text transform="translate(1540.70 1306.30) scale(1.0200 1)" font-size="78.50" text-anchor="middle" fill="#000" stroke="#000" stroke-width="0.7">80</text>
<text transform="translate(1724.52 1306.30) scale(1.0200 1)" font-size="78.50" text-anchor="middle" fill="#000" stroke="#000" stroke-width="0.7">90</text>
<text transform="translate(758.25 1406.70) scale(1.0556 1)" font-size="102.70" text-anchor="start" fill="#000" stroke="#000" stroke-width="0.7">2θ (Degree)</text>
<text transform="translate(109.50 935.90) rotate(-90) scale(1.0000 1)" font-size="97.70" text-anchor="start" fill="#000" stroke="#000" stroke-width="0.7">Intensity (a.u.)</text>
<text transform="translate(67.60 1523.50) scale(1.0626 1)" font-size="97.30" text-anchor="start" fill="#000" stroke="#000" stroke-width="0.7">b</text>
<text transform="translate(284.81 1530.00) scale(0.9692 1)" font-size="80.00" text-anchor="start" fill="#000" stroke="#000" stroke-width="0.7">Al<tspan dy="18.6">2</tspan><tspan dy="-18.6">O</tspan><tspan dy="18.6">3</tspan><tspan dy="-18.6"></tspan></text>
<text transform="translate(548.02 1530.00) scale(0.9922 1)" font-size="80.00" text-anchor="start" fill="#000" stroke="#000" stroke-width="0.7">Ni</text>
<text transform="translate(722.04 1530.00) scale(0.9823 1)" font-size="80.00" text-anchor="start" fill="#000" stroke="#000" stroke-width="0.7">NiAl<tspan dy="18.6">2</tspan><tspan dy="-18.6">O</tspan><tspan dy="18.6">4</tspan><tspan dy="-18.6"></tspan></text>
<text transform="translate(168.51 1615.40) scale(0.9972 1)" font-size="78.70" text-anchor="start" fill="#000" stroke="#000" stroke-width="0.7">Calcinated at 450 °C</text>
<text transform="translate(196.39 1713.20) scale(1.0031 1)" font-size="78.50" text-anchor="start" fill="#000" stroke="#000" stroke-width="0.7">Reduced at 450 °C</text>
<text transform="translate(276.06 1829.40) scale(0.9691 1)" font-size="76.30" text-anchor="start" fill="#000" stroke="#000" stroke-width="0.7">Ni<tspan dy="15.0">10</tspan><tspan dy="-15.0">Mo</tspan><tspan dy="15.0">20</tspan><tspan dy="-15.0">Al</tspan></text>
<text transform="translate(266.36 1984.90) scale(0.9691 1)" font-size="76.30" text-anchor="start" fill="#000" stroke="#000" stroke-width="0.7">Ni<tspan dy="15.0">10</tspan><tspan dy="-15.0">Mo</tspan><tspan dy="15.0">15</tspan><tspan dy="-15.0">Al</tspan></text>
<text transform="translate(266.35 2120.40) scale(0.9725 1)" font-size="76.30" text-anchor="start" fill="#000" stroke="#000" stroke-width="0.7">Ni<tspan dy="15.0">10</tspan><tspan dy="-15.0">Mo</tspan><tspan dy="15.0">10</tspan><tspan dy="-15.0">Al</tspan></text>
<text transform="translate(293.58 2278.20) scale(0.9691 1)" font-size="76.30" text-anchor="start" fill="#000" stroke="#000" stroke-width="0.7">Ni<tspan dy="15.0">10</tspan><tspan dy="-15.0">Mo</tspan><tspan dy="15.0">5</tspan><tspan dy="-15.0">Al</tspan></text>
<text transform="translate(262.87 2401.90) scale(0.9704 1)" font-size="76.30" text-anchor="start" fill="#000" stroke="#000" stroke-width="0.7">Ni<tspan dy="15.0">10</tspan><tspan dy="-15.0">Mo</tspan><tspan dy="15.0">2.5</tspan><tspan dy="-15.0">Al</tspan></text>
<text transform="translate(207.27 2591.80) scale(0.9735 1)" font-size="75.70" text-anchor="start" fill="#000" stroke="#000" stroke-width="0.7">Ni:PDF#04<tspan font-size="49.2">–</tspan>0850</text>
<text transform="translate(243.05 2747.30) scale(1.0200 1)" font-size="77.00" text-anchor="middle" fill="#000" stroke="#000" stroke-width="0.7">10</text>
<text transform="translate(418.35 2747.30) scale(1.0200 1)" font-size="77.00" text-anchor="middle" fill="#000" stroke="#000" stroke-width="0.7">20</text>
<text transform="translate(593.65 2747.30) scale(1.0200 1)" font-size="77.00" text-anchor="middle" fill="#000" stroke="#000" stroke-width="0.7">30</text>
<text transform="translate(768.95 2747.30) scale(1.0200 1)" font-size="77.00" text-anchor="middle" fill="#000" stroke="#000" stroke-width="0.7">40</text>
<text transform="translate(944.25 2747.30) scale(1.0200 1)" font-size="77.00" text-anchor="middle" fill="#000" stroke="#000" stroke-width="0.7">50</text>
<text transform="translate(1119.55 2747.30) scale(1.0200 1)" font-size="77.00" text-anchor="middle" fill="#000" stroke="#000" stroke-width="0.7">60</text>
<text transform="translate(1294.85 2747.30) scale(1.0200 1)" font-size="77.00" text-anchor="middle" fill="#000" stroke="#000" stroke-width="0.7">70</text>
<text transform="translate(1470.15 2747.30) scale(1.0200 1)" font-size="77.00" text-anchor="middle" fill="#000" stroke="#000" stroke-width="0.7">80</text>
<text transform="translate(1645.45 2747.30) scale(1.0200 1)" font-size="77.00" text-anchor="middle" fill="#000" stroke="#000" stroke-width="0.7">90</text>
<text transform="translate(669.85 2822.90) scale(1.0371 1)" font-size="98.80" text-anchor="start" fill="#000" stroke="#000" stroke-width="0.7">2θ (Degree)</text>
<text transform="translate(110.80 2353.30) rotate(-90) scale(1.0000 1)" font-size="100.50" text-anchor="start" fill="#000" stroke="#000" stroke-width="0.7">Intensity (a.u.)</text>
<rect x="1753.5" y="1240" width="40" height="80" fill="#fff"/>
<rect x="1674.5" y="2680" width="120" height="80" fill="#fff"/>
</svg>
</body></html>
